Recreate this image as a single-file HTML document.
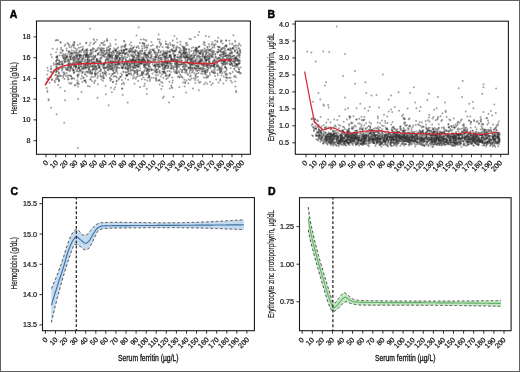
<!DOCTYPE html><html><head><meta charset="utf-8"><style>html,body{margin:0;padding:0;background:#fff;overflow:hidden}svg{display:block;filter:blur(0.35px)}</style></head><body>
<svg width="520" height="372" viewBox="0 0 520 372" font-family='"Liberation Sans", sans-serif'>
<rect x="0" y="0" width="520" height="372" fill="#fff"/>
<g fill="none" stroke="#303030" stroke-opacity="0.46" stroke-width="2.00" stroke-linecap="round">
<path d="M223.9 54.1h0M77.6 62.5h0M166.6 60.6h0M218.2 58.3h0M128.9 60.9h0M183.5 55.5h0M212.7 52.3h0M109.2 58.8h0M103.5 74.3h0M96.1 66.6h0M163.9 96.5h0M173.2 68.0h0M196.5 47.5h0M158.8 63.8h0M151.0 46.0h0M119.2 53.6h0M161.2 43.8h0M140.7 61.4h0M123.7 52.4h0M138.1 65.0h0M141.0 63.5h0M177.0 72.9h0M102.9 73.1h0M98.7 60.6h0M130.0 65.0h0M113.8 62.5h0M78.9 74.6h0M70.7 59.5h0M134.0 57.0h0M212.4 42.3h0M108.6 50.1h0M100.7 61.3h0M56.5 70.8h0M187.5 58.9h0M202.1 59.7h0M98.0 61.9h0M213.2 72.2h0M213.1 57.3h0M132.2 61.5h0M171.1 57.8h0M142.2 60.1h0M181.3 54.9h0M78.7 63.0h0M57.8 68.9h0M153.4 65.7h0M139.7 63.9h0M82.8 71.7h0M129.4 51.7h0M167.9 46.2h0M123.4 82.4h0M92.1 72.9h0M132.4 59.7h0M131.2 74.8h0M185.1 55.2h0M229.7 59.1h0M223.4 83.6h0M79.4 54.7h0M106.5 53.6h0M167.2 47.3h0M83.5 78.1h0M218.8 49.8h0M180.1 49.0h0M205.1 71.6h0M158.8 58.5h0M212.7 62.6h0M64.1 72.6h0M159.5 80.1h0M86.1 55.4h0M109.8 65.6h0M236.0 59.0h0M166.0 66.1h0M136.8 72.6h0M119.6 59.2h0M163.1 71.7h0M163.2 73.2h0M195.9 78.3h0M134.5 83.7h0M229.4 48.4h0M56.1 64.4h0M139.5 75.9h0M88.0 63.4h0M184.3 50.4h0M155.5 59.5h0M156.4 79.4h0M109.6 50.7h0M146.5 50.2h0M87.3 61.1h0M208.3 67.7h0M197.7 50.2h0M97.6 50.0h0M121.8 53.0h0M234.1 76.8h0M176.9 65.8h0M93.4 58.8h0M80.8 62.2h0M115.6 56.0h0M155.6 54.9h0M146.5 40.5h0M53.9 70.4h0M201.8 50.5h0M146.9 47.7h0M91.5 59.4h0M124.8 63.2h0M205.2 56.6h0M112.9 65.4h0M188.4 83.2h0M202.8 65.0h0M62.0 64.1h0M132.7 56.4h0M237.0 63.9h0M180.2 74.6h0M187.3 62.3h0M139.1 55.7h0M191.1 64.8h0M92.1 62.6h0M221.0 52.2h0M109.8 77.8h0M125.0 54.0h0M227.1 55.3h0M198.7 68.6h0M129.9 61.4h0M76.8 61.7h0M222.5 68.7h0M182.0 64.3h0M221.0 49.8h0M77.4 54.1h0M123.4 65.2h0M115.0 50.1h0M177.3 59.4h0M127.7 61.8h0M195.8 49.4h0M148.4 52.7h0M185.9 55.0h0M137.0 69.7h0M222.6 43.5h0M103.2 64.0h0M223.0 47.7h0M203.4 70.5h0M144.2 85.9h0M127.1 57.2h0M94.7 57.5h0M166.9 53.7h0M75.4 48.4h0M210.1 49.8h0M62.6 68.8h0M91.2 76.8h0M138.2 53.3h0M239.0 69.3h0M225.1 67.6h0M71.0 66.7h0M91.3 66.2h0M165.6 65.9h0M218.4 65.5h0M88.0 58.0h0M167.1 62.2h0M93.0 69.2h0M174.8 55.8h0M169.4 81.7h0M62.9 50.6h0M144.2 71.2h0M68.7 51.6h0M198.3 51.6h0M147.1 55.3h0M97.7 48.6h0M118.2 55.4h0M115.3 59.0h0M133.7 64.2h0M131.0 42.5h0M187.0 56.8h0M78.0 53.1h0M103.5 43.1h0M79.4 68.5h0M237.7 60.3h0M162.9 53.9h0M195.5 76.1h0M143.6 59.9h0M166.1 46.9h0M59.1 60.5h0M199.2 62.3h0M182.0 72.2h0M138.4 59.7h0M170.6 68.8h0M139.8 59.4h0M205.8 49.7h0M216.2 79.4h0M73.1 59.4h0M119.3 63.6h0M155.2 65.2h0M127.0 64.8h0M86.4 43.1h0M56.9 59.9h0M110.4 55.3h0M214.5 51.6h0M140.1 42.9h0"/>
<path d="M190.8 39.2h0M85.7 81.2h0M226.2 40.5h0M225.4 73.9h0M128.8 68.7h0M159.4 66.8h0M67.6 59.3h0M206.4 53.1h0M69.3 57.0h0M79.9 61.1h0M181.6 56.6h0M78.4 67.3h0M160.4 57.9h0M116.3 51.9h0M56.0 72.3h0M148.9 77.1h0M177.0 62.8h0M200.4 68.6h0M130.8 50.9h0M214.0 64.9h0M205.3 73.9h0M73.0 78.0h0M223.6 54.1h0M140.0 62.9h0M113.4 67.5h0M165.1 53.7h0M110.5 61.2h0M182.2 70.2h0M61.2 75.9h0M117.7 61.9h0M87.6 63.4h0M93.5 51.7h0M63.1 58.0h0M235.9 91.0h0M70.3 75.4h0M232.8 72.0h0M239.2 43.5h0M136.9 61.7h0M100.0 67.3h0M185.2 59.6h0M174.4 36.1h0M176.5 60.3h0M176.5 46.6h0M57.4 60.0h0M110.7 69.5h0M94.1 48.7h0M184.2 69.0h0M90.7 73.5h0M74.3 53.2h0M111.0 66.1h0M95.5 70.9h0M95.5 75.1h0M107.2 64.9h0M122.5 53.2h0M110.3 56.0h0M69.7 65.8h0M145.9 57.7h0M101.3 43.3h0M138.6 53.6h0M131.0 63.0h0M189.5 53.5h0M191.3 61.0h0M87.3 52.6h0M104.5 64.3h0M201.3 68.9h0M67.6 43.0h0M184.6 86.5h0M93.0 77.0h0M125.2 54.6h0M229.5 50.2h0M232.5 56.7h0M152.5 73.5h0M200.5 59.5h0M82.7 49.7h0M200.2 51.4h0M192.2 64.4h0M213.3 54.5h0M203.1 68.8h0M108.6 65.1h0M203.6 66.5h0M60.6 42.8h0M238.6 64.0h0M185.9 61.1h0M124.0 50.1h0M175.3 66.8h0M56.0 79.4h0M209.3 63.0h0M156.0 70.2h0M133.0 60.0h0M99.6 52.6h0M235.3 51.3h0M148.9 75.3h0M223.7 61.7h0M192.0 68.1h0M192.4 62.6h0M73.6 59.7h0M155.3 66.4h0M184.3 68.2h0M152.8 50.1h0M233.4 47.8h0M116.2 49.3h0M152.2 58.9h0M213.1 51.1h0M113.1 61.8h0M183.5 48.3h0M64.3 58.0h0M108.3 62.2h0M142.0 73.7h0M237.4 46.1h0M101.4 79.4h0M221.0 51.3h0M170.0 55.2h0M185.1 82.1h0M100.9 70.1h0M134.6 67.6h0M234.0 59.1h0M157.9 60.4h0M139.6 66.1h0M78.7 60.7h0M186.5 49.3h0M145.9 74.8h0M122.5 68.3h0M90.5 72.3h0M122.3 60.7h0M189.3 58.6h0M58.9 76.6h0M190.2 64.5h0M70.5 59.2h0M111.6 64.5h0M203.6 68.5h0M203.4 68.7h0M107.6 65.1h0M59.3 76.6h0M146.7 70.5h0M110.8 55.0h0M159.4 80.2h0M153.6 58.4h0M140.0 57.0h0M56.9 60.1h0M105.9 94.2h0M239.9 62.9h0M226.2 63.3h0M104.9 71.6h0M156.1 57.0h0M191.8 47.9h0M137.3 59.6h0M101.2 52.0h0M142.1 60.2h0M190.4 68.1h0M206.8 60.6h0M160.9 59.4h0M180.0 61.0h0M113.1 82.0h0M70.7 84.0h0M89.2 73.3h0M229.2 77.7h0M95.8 73.9h0M238.7 44.8h0M174.1 45.2h0M122.5 58.2h0M70.5 56.7h0M109.4 56.5h0M83.5 77.4h0M221.0 56.4h0M138.2 55.3h0M63.4 72.7h0M84.6 63.9h0M197.5 50.8h0M235.7 58.5h0M173.7 47.8h0M172.3 45.1h0M67.0 61.3h0M73.6 45.5h0M164.1 56.9h0M213.6 52.6h0M156.5 64.4h0M188.7 68.3h0M210.7 53.9h0M85.4 57.5h0M230.7 67.9h0M189.7 59.4h0M121.2 65.4h0M147.0 73.8h0M151.8 54.7h0M93.5 49.1h0M168.1 44.5h0M159.5 70.8h0M119.2 50.9h0M156.3 72.5h0M66.6 48.4h0M90.1 79.4h0M119.1 64.5h0M122.4 88.4h0M167.6 63.0h0"/>
<path d="M127.9 68.5h0M137.2 72.3h0M82.5 58.3h0M185.0 53.6h0M75.9 63.3h0M213.5 73.0h0M135.2 59.9h0M145.4 57.0h0M210.9 66.3h0M176.1 70.2h0M135.7 68.1h0M93.5 44.1h0M90.8 79.3h0M132.9 69.6h0M74.4 78.8h0M228.0 49.5h0M116.1 68.4h0M118.4 61.1h0M190.6 58.5h0M74.8 85.3h0M170.0 42.9h0M224.9 48.8h0M194.9 60.7h0M145.6 65.3h0M59.3 64.0h0M236.9 64.3h0M231.4 60.2h0M70.6 59.3h0M200.3 53.5h0M176.2 49.1h0M223.0 48.4h0M121.4 47.7h0M147.7 73.5h0M85.3 64.5h0M131.7 60.6h0M211.7 71.8h0M222.7 63.0h0M239.4 53.5h0M232.0 82.5h0M86.1 63.1h0M108.4 47.3h0M219.0 57.4h0M95.6 42.1h0M184.6 57.4h0M154.4 59.6h0M225.9 45.7h0M110.0 78.8h0M127.7 102.6h0M147.7 54.6h0M87.0 54.7h0M154.6 56.9h0M137.9 66.8h0M177.2 66.4h0M229.7 53.2h0M164.6 71.7h0M229.6 60.8h0M211.4 57.0h0M203.4 63.7h0M171.6 87.1h0M51.4 68.9h0M78.0 59.9h0M80.8 47.2h0M108.9 54.3h0M209.9 73.1h0M67.7 77.4h0M138.6 70.5h0M98.9 66.6h0M239.9 55.3h0M206.1 52.0h0M71.4 55.4h0M204.6 58.9h0M68.0 64.2h0M135.0 73.0h0M156.7 46.8h0M85.4 66.6h0M144.3 60.4h0M165.4 56.6h0M181.0 75.9h0M211.2 55.7h0M215.1 40.7h0M74.5 66.3h0M240.1 60.8h0M235.1 40.8h0M63.7 56.2h0M85.7 52.8h0M102.9 75.9h0M163.4 77.8h0M110.6 45.8h0M220.3 79.3h0M121.8 67.7h0M205.6 57.3h0M127.1 75.5h0M236.9 64.4h0M62.6 67.6h0M110.7 78.9h0M233.0 48.0h0M184.8 70.1h0M73.5 61.5h0M193.8 56.0h0M167.5 62.4h0M175.9 60.3h0M184.7 49.7h0M134.0 57.0h0M57.0 69.0h0M111.9 92.3h0M80.1 43.8h0M184.9 62.1h0M118.1 63.2h0M229.9 60.4h0M73.0 58.0h0M124.9 49.4h0M233.4 61.7h0M140.3 50.7h0M89.3 68.0h0M117.9 55.6h0M196.5 65.8h0M117.9 52.2h0M143.3 57.7h0M196.4 66.4h0M98.1 54.2h0M213.3 60.7h0M153.0 69.7h0M225.5 71.7h0M151.6 77.7h0M56.0 63.9h0M83.8 67.4h0M77.8 76.9h0M166.3 44.0h0M181.3 57.6h0M76.7 70.7h0M235.2 41.8h0M150.7 52.8h0M77.9 44.9h0M61.1 49.4h0M169.1 75.1h0M235.2 66.6h0M87.6 50.3h0M138.9 52.9h0M171.2 58.2h0M208.9 65.6h0M135.8 78.8h0M147.6 60.4h0M67.0 56.9h0M70.4 66.9h0M216.0 57.2h0M180.4 41.8h0M199.6 57.9h0M230.2 54.9h0M234.3 68.4h0M142.3 74.8h0M237.0 58.9h0M188.0 59.6h0M77.4 56.0h0M163.2 68.9h0M71.3 76.0h0M121.9 55.2h0M134.9 60.0h0M113.4 54.9h0M112.8 73.9h0M127.4 64.0h0M145.1 53.5h0M203.0 55.4h0M158.3 80.8h0M193.6 63.4h0M162.3 66.6h0M58.2 71.7h0M141.6 61.2h0M104.0 68.0h0M116.8 80.8h0M239.0 63.8h0M117.6 58.1h0M157.6 71.8h0M135.4 55.0h0M127.8 55.2h0M160.5 61.4h0M220.7 61.0h0M208.9 51.0h0M149.9 81.0h0M184.4 56.8h0M76.5 52.6h0M48.0 70.8h0M103.8 78.3h0M232.7 56.1h0M119.9 60.9h0M214.5 45.7h0M57.3 68.3h0M114.7 60.4h0M96.4 59.1h0M109.7 57.2h0M100.2 48.6h0M211.7 70.8h0M162.5 68.1h0M179.5 77.5h0M97.5 65.1h0"/>
<path d="M125.4 78.6h0M127.8 72.0h0M83.8 65.1h0M194.8 68.3h0M83.6 58.9h0M74.0 72.7h0M175.8 64.4h0M81.4 70.7h0M206.5 75.6h0M94.9 73.7h0M146.7 88.8h0M70.6 63.8h0M175.1 73.0h0M94.0 65.8h0M173.7 52.7h0M162.4 54.9h0M72.0 78.8h0M117.5 51.7h0M137.4 63.3h0M89.7 60.5h0M103.7 76.4h0M223.6 55.6h0M107.2 40.4h0M176.2 48.0h0M151.1 51.4h0M169.1 102.4h0M122.4 62.7h0M217.2 41.1h0M165.6 61.7h0M228.4 59.2h0M174.8 50.4h0M142.7 59.8h0M147.1 71.5h0M149.2 53.1h0M143.1 72.3h0M126.7 69.2h0M208.3 76.2h0M211.0 66.4h0M226.0 55.7h0M97.9 84.3h0M184.6 68.9h0M194.8 36.9h0M77.4 80.3h0M163.8 72.6h0M190.3 66.6h0M214.8 72.8h0M95.1 69.5h0M185.6 49.1h0M155.3 52.8h0M106.0 61.9h0M68.4 43.9h0M97.5 97.7h0M127.0 63.6h0M60.7 42.1h0M85.7 49.8h0M180.3 57.7h0M142.8 43.0h0M174.1 56.2h0M184.8 67.3h0M129.1 73.4h0M198.5 72.9h0M238.7 61.7h0M75.7 66.9h0M198.3 66.2h0M136.1 60.7h0M170.0 50.6h0M212.4 65.6h0M214.7 59.0h0M101.3 49.5h0M90.1 64.7h0M198.6 55.4h0M136.5 77.0h0M207.6 55.8h0M219.8 67.8h0M204.6 57.5h0M139.0 61.1h0M224.8 60.6h0M46.3 82.5h0M206.2 60.3h0M92.2 69.5h0M151.4 68.9h0M239.1 61.8h0M138.1 81.1h0M54.0 65.0h0M80.7 57.0h0M95.4 67.8h0M71.9 78.6h0M144.9 67.6h0M171.1 66.5h0M205.6 70.7h0M56.1 74.7h0M221.1 69.4h0M220.0 72.7h0M115.0 61.3h0M216.9 66.8h0M110.1 57.1h0M211.2 84.8h0M179.8 51.1h0M173.4 46.0h0M148.7 54.0h0M109.2 52.8h0M68.3 65.4h0M166.0 57.5h0M71.0 63.6h0M144.3 55.0h0M116.1 55.7h0M230.0 60.5h0M202.8 67.9h0M206.6 69.5h0M168.8 76.4h0M130.4 59.9h0M118.6 64.5h0M132.6 53.3h0M195.4 48.1h0M87.7 65.5h0M65.8 59.6h0M231.2 56.5h0M134.4 77.4h0M198.6 66.3h0M117.3 59.5h0M151.8 56.6h0M209.9 74.9h0M144.6 69.9h0M94.6 65.2h0M221.5 75.6h0M221.6 71.0h0M94.1 59.3h0M59.0 64.4h0M199.0 62.8h0M166.7 65.2h0M199.3 53.5h0M154.7 64.1h0M106.8 47.9h0M125.8 61.0h0M70.0 54.2h0M176.4 50.0h0M109.3 66.1h0M69.8 55.7h0M220.5 58.6h0M81.1 56.6h0M69.7 51.9h0M171.5 49.5h0M237.2 53.1h0M189.2 49.7h0M174.7 61.8h0M183.2 53.7h0M114.1 48.3h0M146.5 71.6h0M119.7 58.8h0M194.6 50.6h0M226.6 68.7h0M193.2 61.8h0M65.0 73.7h0M191.2 61.9h0M62.6 66.9h0M49.6 82.8h0M149.7 63.7h0M222.0 61.2h0M194.4 73.2h0M129.6 44.5h0M104.0 63.8h0M190.4 68.1h0M136.7 57.3h0M173.1 46.3h0M119.8 53.3h0M112.6 59.8h0M174.1 66.0h0M138.9 47.9h0M166.7 53.1h0M196.9 66.5h0M167.8 48.1h0M134.6 60.5h0M200.0 60.2h0M202.8 57.1h0M130.6 65.0h0M176.4 72.6h0M179.4 51.6h0M229.3 40.7h0M48.3 79.1h0M62.0 61.5h0M149.6 69.3h0M228.4 60.7h0M88.9 67.3h0M225.3 56.3h0M77.5 75.7h0M100.4 73.9h0M96.0 66.5h0M98.0 53.3h0M165.5 58.4h0M236.1 47.7h0M68.9 75.6h0M121.8 80.0h0M222.2 73.3h0M63.0 63.9h0"/>
<path d="M93.0 57.7h0M192.1 68.3h0M89.4 54.6h0M121.4 50.5h0M144.1 60.3h0M141.9 61.5h0M88.4 59.5h0M102.9 50.6h0M88.9 59.2h0M148.7 65.0h0M87.5 55.3h0M178.0 61.3h0M131.1 60.9h0M84.3 54.1h0M206.2 60.8h0M126.9 49.6h0M125.2 62.9h0M152.3 49.6h0M239.2 72.2h0M159.5 41.8h0M141.8 73.1h0M84.8 66.0h0M64.0 74.7h0M106.6 50.7h0M69.3 68.4h0M221.3 63.1h0M205.1 62.6h0M232.6 48.3h0M177.6 64.6h0M203.3 63.5h0M74.6 71.8h0M114.6 76.3h0M214.9 61.3h0M237.4 72.3h0M158.2 66.4h0M198.0 68.2h0M223.7 61.0h0M74.7 57.8h0M131.0 66.4h0M229.6 64.3h0M96.8 69.3h0M215.4 57.0h0M87.0 53.6h0M190.7 55.7h0M125.4 57.3h0M78.9 66.1h0M77.5 75.3h0M89.1 57.0h0M129.3 56.5h0M105.6 86.1h0M117.2 64.5h0M112.0 57.6h0M231.6 51.9h0M58.3 78.8h0M198.2 35.1h0M142.0 46.2h0M87.8 62.2h0M175.7 51.4h0M208.8 49.4h0M150.3 66.9h0M56.4 66.5h0M71.4 82.7h0M172.7 61.0h0M183.2 82.5h0M124.1 84.1h0M204.3 62.9h0M143.7 56.5h0M220.4 71.2h0M57.2 77.2h0M192.4 65.5h0M65.4 44.5h0M195.7 74.4h0M180.8 64.5h0M85.8 63.2h0M222.1 59.2h0M118.2 47.2h0M219.2 67.1h0M158.5 50.2h0M125.7 68.2h0M104.5 70.0h0M82.8 72.5h0M116.7 71.4h0M78.9 64.7h0M70.9 66.6h0M102.5 72.4h0M162.7 63.2h0M191.4 59.1h0M164.2 52.7h0M165.3 51.4h0M180.6 57.0h0M171.7 68.5h0M194.5 64.8h0M68.2 67.6h0M132.1 59.5h0M66.9 57.2h0M220.2 80.4h0M215.2 67.3h0M204.0 71.5h0M126.6 62.3h0M121.5 66.9h0M198.0 80.3h0M200.1 53.0h0M153.1 61.7h0M153.7 77.8h0M171.2 59.1h0M148.7 66.5h0M74.6 63.9h0M149.4 77.3h0M198.4 65.7h0M59.2 60.8h0M104.8 56.9h0M183.8 63.6h0M55.1 82.2h0M164.7 52.0h0M74.2 44.0h0M87.5 57.9h0M57.1 77.0h0M79.2 55.6h0M199.3 61.6h0M92.4 50.6h0M73.0 62.8h0M205.6 73.2h0M236.4 64.8h0M186.2 55.4h0M82.3 82.1h0M181.8 54.3h0M225.2 66.6h0M224.9 59.8h0M80.2 71.6h0M99.2 67.8h0M136.4 58.3h0M174.8 58.8h0M149.5 71.3h0M103.0 80.8h0M230.5 53.5h0M208.6 68.8h0M109.0 62.0h0M217.5 73.4h0M83.5 67.9h0M77.0 56.8h0M181.5 53.7h0M196.3 53.5h0M58.9 81.2h0M104.3 67.8h0M85.3 80.3h0M119.8 53.3h0M112.0 74.6h0M110.5 63.5h0M201.8 71.6h0M212.6 54.0h0M85.4 74.7h0M162.5 82.7h0M155.9 59.5h0M116.5 81.2h0M112.2 68.3h0M63.1 77.4h0M216.1 62.9h0M92.3 56.6h0M169.1 62.0h0M79.6 62.8h0M74.2 44.9h0M88.8 60.9h0M176.8 63.1h0M144.1 61.5h0M167.8 67.9h0M187.6 56.8h0M233.0 66.0h0M197.6 64.2h0M137.0 65.5h0M144.0 65.3h0M231.0 53.3h0M166.3 79.0h0M204.3 50.6h0M101.5 50.8h0M156.1 77.5h0M91.3 52.7h0M180.7 58.0h0M194.7 55.2h0M155.1 61.8h0M88.9 62.3h0M78.0 59.1h0M122.5 68.2h0M183.0 56.6h0M100.2 58.5h0M187.6 60.5h0M130.0 68.0h0M208.5 68.4h0M93.6 67.5h0M225.4 60.4h0M202.9 73.9h0M191.9 57.3h0M100.7 68.9h0M190.6 64.5h0M133.2 67.8h0"/>
<path d="M70.6 70.0h0M81.9 73.2h0M232.4 52.4h0M240.5 52.7h0M71.3 52.9h0M165.5 66.9h0M208.1 63.2h0M218.2 37.8h0M141.8 79.3h0M130.8 48.2h0M119.3 63.1h0M56.7 66.4h0M232.3 64.1h0M77.7 68.9h0M162.3 54.5h0M204.6 68.7h0M78.1 74.8h0M139.8 55.0h0M75.7 56.0h0M122.9 67.8h0M123.0 46.3h0M124.7 47.1h0M212.6 47.2h0M60.4 61.5h0M165.6 57.3h0M56.1 61.8h0M150.3 49.4h0M56.6 56.6h0M237.5 52.8h0M116.9 64.6h0M163.7 63.9h0M84.7 81.0h0M181.4 50.2h0M108.6 105.2h0M239.3 48.4h0M115.9 64.4h0M187.8 45.0h0M55.6 40.6h0M164.5 72.6h0M146.7 64.4h0M237.7 64.1h0M96.7 69.3h0M79.1 68.2h0M162.1 65.1h0M132.8 48.2h0M227.0 58.7h0M228.1 49.4h0M148.2 56.0h0M232.2 44.2h0M193.1 53.8h0M176.0 61.9h0M116.1 58.9h0M158.0 75.1h0M64.6 79.1h0M140.1 53.7h0M127.6 74.2h0M91.9 74.1h0M236.1 71.0h0M104.7 67.8h0M188.9 49.2h0M131.7 55.9h0M184.5 47.8h0M200.9 61.1h0M198.2 51.6h0M217.3 63.1h0M161.8 64.2h0M123.9 51.1h0M230.0 61.7h0M172.2 66.0h0M139.1 64.5h0M208.8 58.3h0M136.8 64.5h0M232.4 43.4h0M185.2 53.0h0M156.9 72.4h0M140.9 39.6h0M87.9 62.3h0M86.2 65.2h0M228.0 57.5h0M126.7 49.1h0M104.1 63.3h0M209.5 53.5h0M147.5 59.3h0M166.6 66.1h0M95.6 51.6h0M224.6 62.6h0M90.6 64.2h0M234.7 49.8h0M113.0 51.5h0M189.8 63.6h0M171.4 61.2h0M141.5 59.1h0M139.1 59.8h0M125.7 64.2h0M99.4 71.1h0M160.7 52.4h0M199.6 70.4h0M228.7 58.5h0M217.9 75.2h0M206.5 57.2h0M222.0 54.8h0M88.1 64.6h0M76.1 56.6h0M190.2 69.4h0M115.5 55.4h0M89.1 63.4h0M154.2 60.2h0M105.8 67.8h0M216.6 59.2h0M224.9 59.8h0M234.4 62.8h0M179.3 47.8h0M204.0 77.4h0M177.6 57.4h0M114.1 52.7h0M117.6 48.4h0M168.6 47.7h0M188.4 63.3h0M61.5 52.8h0M111.8 63.3h0M84.9 54.4h0M75.6 65.8h0M141.4 54.2h0M169.8 61.5h0M175.6 71.7h0M209.4 59.7h0M166.4 75.8h0M238.6 55.0h0M235.9 60.7h0M115.9 50.6h0M118.4 67.5h0M211.5 50.6h0M101.0 64.6h0M96.7 61.1h0M158.7 34.4h0M208.0 56.4h0M205.6 82.6h0M230.5 65.1h0M176.3 67.0h0M172.3 77.4h0M173.4 50.8h0M74.3 42.1h0M75.1 62.0h0M117.5 73.3h0M170.1 52.3h0M204.8 56.9h0M209.5 56.6h0M61.6 68.7h0M217.5 63.8h0M186.2 53.2h0M73.4 56.5h0M185.8 57.2h0M174.7 51.1h0M117.7 67.3h0M214.8 68.8h0M230.8 80.7h0M147.4 70.0h0M204.9 45.2h0M202.4 71.4h0M109.1 53.7h0M205.5 60.1h0M237.3 65.7h0M185.0 56.8h0M189.6 57.9h0M127.7 69.1h0M53.7 63.3h0M99.8 61.6h0M226.5 46.3h0M99.2 65.7h0M72.2 53.0h0M61.3 47.7h0M105.7 74.0h0M115.6 58.3h0M185.4 57.4h0M98.1 72.4h0M92.7 67.0h0M81.7 66.7h0M158.7 57.4h0M196.8 52.5h0M145.1 64.2h0M223.2 52.1h0M85.3 61.0h0M181.5 71.4h0M81.8 60.1h0M143.0 53.8h0M111.9 69.4h0M87.5 59.4h0M105.3 61.6h0M58.7 63.1h0M211.8 52.3h0M104.6 54.6h0M83.6 57.6h0M46.7 88.0h0M115.5 64.2h0"/>
<path d="M95.0 63.9h0M133.8 51.9h0M136.9 66.0h0M162.9 97.9h0M70.8 53.4h0M118.4 60.7h0M85.5 71.9h0M209.0 54.6h0M210.3 67.9h0M128.2 54.2h0M130.5 54.8h0M165.0 60.4h0M230.5 58.2h0M230.7 77.8h0M79.9 50.8h0M160.8 57.9h0M160.3 58.2h0M226.8 77.2h0M175.0 63.4h0M103.8 56.1h0M151.2 69.8h0M175.5 63.1h0M209.7 65.9h0M147.0 55.5h0M188.6 57.7h0M142.3 61.8h0M89.1 69.1h0M87.9 55.7h0M101.3 50.6h0M224.2 61.7h0M186.4 69.4h0M223.7 76.8h0M194.2 58.2h0M160.0 73.1h0M112.1 56.2h0M217.4 52.1h0M240.6 67.5h0M123.4 52.3h0M213.9 69.8h0M159.5 60.3h0M95.1 56.7h0M102.6 55.7h0M92.4 59.6h0M174.7 55.8h0M238.4 48.3h0M112.7 62.3h0M134.7 66.2h0M166.1 53.2h0M111.7 52.8h0M109.2 51.7h0M111.5 61.5h0M169.7 88.4h0M133.0 66.3h0M176.1 61.4h0M214.8 71.0h0M108.6 64.0h0M183.6 64.9h0M220.5 72.1h0M58.8 69.6h0M196.3 63.1h0M193.0 72.1h0M141.9 62.2h0M178.0 60.2h0M228.7 55.1h0M205.2 60.6h0M60.1 64.8h0M94.1 40.1h0M95.8 50.7h0M180.0 64.4h0M88.0 60.5h0M77.1 83.1h0M118.6 79.6h0M174.2 59.5h0M108.9 50.2h0M216.7 65.1h0M196.9 73.6h0M148.3 61.3h0M138.2 56.5h0M184.4 79.7h0M198.9 46.8h0M87.9 64.5h0M191.9 72.5h0M124.1 56.4h0M165.5 53.4h0M240.0 50.1h0M70.7 57.9h0M230.6 73.7h0M233.3 58.6h0M176.7 63.6h0M153.2 60.4h0M57.4 64.3h0M154.8 51.7h0M109.3 73.9h0M209.2 64.3h0M193.4 69.3h0M214.1 65.5h0M69.3 46.7h0M200.5 54.1h0M109.8 56.0h0M205.7 59.4h0M167.6 57.3h0M143.8 67.0h0M138.2 46.1h0M132.6 65.9h0M72.9 44.6h0M166.0 68.5h0M77.5 71.2h0M97.4 77.9h0M114.7 66.0h0M190.9 59.5h0M86.6 50.5h0M138.3 67.1h0M56.3 67.8h0M107.4 60.5h0M116.7 70.5h0M207.2 66.5h0M144.1 53.2h0M142.0 63.2h0M67.6 68.7h0M180.0 52.5h0M117.9 56.9h0M234.5 55.5h0M101.2 63.0h0M116.9 77.4h0M174.2 71.4h0M235.1 61.3h0M75.7 66.8h0M170.1 56.7h0M157.5 55.8h0M146.7 45.5h0M165.4 61.8h0M91.0 56.6h0M164.8 65.2h0M224.0 61.9h0M164.6 68.2h0M179.1 76.8h0M168.5 66.0h0M65.2 100.2h0M144.1 66.7h0M165.3 61.3h0M73.9 47.6h0M97.8 54.7h0M210.5 51.0h0M225.9 55.7h0M206.9 70.1h0M185.3 65.4h0M236.4 66.7h0M227.5 63.4h0M66.4 56.8h0M143.9 62.3h0M70.8 47.6h0M94.5 67.3h0M64.7 55.0h0M229.4 55.5h0M78.3 68.0h0M93.7 39.2h0M85.8 55.4h0M51.4 72.2h0M83.3 55.4h0M87.0 50.5h0M104.7 63.3h0M73.5 70.2h0M150.1 61.2h0M226.1 40.4h0M214.0 63.4h0M200.4 81.9h0M175.8 64.6h0M118.5 61.4h0M173.1 53.6h0M82.4 50.1h0M110.9 87.7h0M207.4 70.4h0M47.4 90.7h0M75.3 85.3h0M70.1 57.4h0M116.3 67.0h0M65.5 61.5h0M149.9 61.0h0M171.5 60.0h0M217.6 58.2h0M66.8 50.6h0M47.3 92.1h0M84.1 80.6h0M68.5 79.0h0M194.2 67.2h0M167.4 71.3h0M112.5 57.9h0M125.2 68.6h0M97.2 73.6h0M167.2 51.0h0M209.8 50.1h0M145.5 55.0h0M88.7 55.0h0M116.5 54.1h0"/>
<path d="M73.5 67.8h0M197.5 59.2h0M111.7 55.6h0M142.1 75.5h0M207.7 76.8h0M138.5 63.8h0M204.7 42.8h0M238.9 60.8h0M144.1 45.2h0M195.3 65.6h0M149.9 79.3h0M75.1 52.0h0M200.8 59.6h0M211.6 66.3h0M185.3 52.3h0M199.4 82.4h0M180.3 55.9h0M104.0 48.5h0M240.8 72.9h0M206.9 65.8h0M189.8 67.0h0M179.5 62.1h0M134.6 65.5h0M142.9 58.8h0M131.5 45.8h0M110.0 66.4h0M204.0 51.9h0M170.3 55.0h0M204.1 84.2h0M64.2 122.7h0M161.2 82.0h0M208.8 61.5h0M108.1 56.8h0M51.0 66.3h0M76.1 67.3h0M101.6 54.8h0M117.0 67.1h0M190.2 56.4h0M69.7 71.3h0M144.8 83.7h0M183.8 57.6h0M69.3 66.4h0M103.9 64.9h0M81.0 51.9h0M189.8 60.6h0M159.6 55.3h0M134.7 72.6h0M96.6 67.3h0M137.8 56.0h0M182.1 46.3h0M171.2 60.4h0M192.9 58.5h0M223.1 53.8h0M126.4 75.4h0M94.7 62.4h0M132.7 50.3h0M96.2 50.2h0M111.9 56.2h0M132.6 56.3h0M207.6 49.8h0M114.2 89.3h0M200.6 62.1h0M173.5 97.0h0M220.0 60.3h0M123.1 53.3h0M87.2 72.5h0M134.4 52.0h0M238.3 67.5h0M148.0 77.7h0M76.3 58.5h0M76.4 50.6h0M128.7 71.0h0M174.3 57.9h0M155.8 57.8h0M165.5 75.7h0M66.5 67.8h0M201.7 63.7h0M79.5 52.5h0M217.4 51.8h0M203.1 53.7h0M93.5 69.2h0M130.6 48.7h0M199.0 82.4h0M146.2 68.6h0M87.5 56.9h0M236.5 65.0h0M208.2 58.9h0M218.6 68.0h0M198.1 67.3h0M170.1 63.1h0M195.6 68.2h0M127.3 61.0h0M158.8 50.1h0M79.5 56.5h0M115.0 72.6h0M229.1 55.6h0M69.0 51.6h0M196.6 57.5h0M71.6 50.5h0M181.8 63.0h0M139.1 63.3h0M142.4 50.8h0M157.4 46.2h0M107.4 66.2h0M68.9 51.8h0M155.1 72.0h0M132.7 58.7h0M218.1 65.8h0M163.6 52.6h0M149.3 52.5h0M110.1 61.4h0M128.7 65.9h0M125.2 44.7h0M134.7 57.5h0M117.4 53.4h0M205.0 66.2h0M186.5 57.6h0M115.7 50.6h0M126.5 67.2h0M52.5 72.2h0M156.8 69.3h0M103.4 67.7h0M113.5 70.5h0M190.2 67.6h0M157.5 64.8h0M220.1 51.0h0M131.0 67.4h0M135.5 50.8h0M78.9 71.8h0M143.2 72.7h0M108.4 57.2h0M220.0 55.6h0M220.5 71.9h0M238.9 63.2h0M190.2 60.2h0M104.2 51.2h0M108.2 60.2h0M96.2 68.5h0M213.5 66.6h0M67.2 55.5h0M186.3 71.4h0M231.1 57.9h0M235.2 60.6h0M117.9 56.3h0M207.3 67.2h0M121.8 84.0h0M157.3 54.1h0M48.7 100.2h0M221.7 49.3h0M220.9 71.1h0M235.1 63.1h0M209.8 62.9h0M172.1 49.5h0M108.7 64.2h0M140.2 70.4h0M67.5 75.6h0M145.0 79.5h0M104.3 63.6h0M165.6 65.3h0M131.4 61.2h0M77.1 55.8h0M87.9 86.1h0M136.6 47.1h0M183.6 63.4h0M123.8 58.7h0M105.9 67.3h0M70.7 68.3h0M92.2 71.9h0M184.2 51.3h0M163.6 69.2h0M231.2 51.0h0M219.4 51.0h0M103.4 53.1h0M204.4 64.9h0M188.4 63.1h0M75.1 52.2h0M126.8 52.8h0M79.8 70.0h0M190.4 80.0h0M162.6 64.6h0M215.6 44.0h0M168.4 63.7h0M111.9 55.5h0M112.4 61.9h0M180.3 44.6h0M125.6 72.6h0M142.8 63.8h0M138.5 58.0h0M189.4 55.3h0M204.8 57.4h0M110.7 67.5h0M188.2 75.1h0M100.0 45.3h0M151.5 42.1h0"/>
<path d="M165.5 73.2h0M172.7 80.5h0M114.2 73.1h0M48.5 99.2h0M171.7 58.6h0M136.2 65.7h0M195.7 50.8h0M111.1 68.6h0M234.6 65.5h0M213.3 65.7h0M120.4 63.9h0M138.6 66.3h0M160.5 55.4h0M81.1 63.9h0M223.3 63.8h0M63.7 57.9h0M189.8 71.0h0M206.6 59.8h0M106.3 67.9h0M135.6 63.3h0M158.1 58.5h0M200.5 50.6h0M162.4 65.5h0M120.6 52.8h0M214.4 64.5h0M141.5 51.8h0M105.9 59.9h0M191.5 55.2h0M235.2 58.4h0M138.0 66.7h0M95.3 62.5h0M77.3 63.5h0M236.9 50.0h0M107.6 67.0h0M229.7 72.9h0M85.1 60.1h0M158.5 68.9h0M156.5 55.3h0M206.8 51.1h0M163.0 54.9h0M123.5 71.4h0M94.6 81.5h0M133.1 59.8h0M66.0 58.0h0M214.1 66.8h0M65.9 55.9h0M159.9 42.9h0M225.2 66.9h0M226.2 80.4h0M140.6 63.3h0M226.8 62.3h0M191.4 59.1h0M95.4 80.5h0M114.8 50.4h0M128.9 63.2h0M177.9 76.6h0M166.9 55.0h0M225.8 59.8h0M142.1 50.6h0M187.5 55.0h0M206.6 57.4h0M110.7 60.5h0M94.1 62.8h0M102.8 66.3h0M110.2 43.8h0M172.8 59.4h0M106.5 50.7h0M133.5 62.5h0M123.3 50.8h0M83.2 69.1h0M223.7 60.9h0M68.9 63.5h0M144.1 43.8h0M102.3 66.0h0M102.1 64.8h0M87.5 66.5h0M57.8 63.9h0M202.8 53.5h0M94.3 65.9h0M71.4 78.7h0M125.8 59.1h0M76.5 60.6h0M118.1 64.4h0M95.1 66.4h0M194.3 56.2h0M214.1 60.1h0M103.7 78.2h0M168.3 67.7h0M173.7 69.5h0M132.6 51.7h0M149.2 63.4h0M214.9 76.1h0M81.9 75.9h0M164.7 56.6h0M223.0 52.4h0M197.9 76.9h0M129.5 63.7h0M145.6 60.4h0M198.4 63.5h0M205.8 72.2h0M207.2 72.0h0M236.3 56.9h0M215.3 54.8h0M90.4 42.7h0M129.8 58.9h0M116.2 62.4h0M136.6 55.3h0M97.3 62.5h0M194.7 68.3h0M128.1 70.6h0M88.7 69.2h0M142.0 72.4h0M178.6 65.1h0M138.7 27.6h0M234.5 69.6h0M134.2 63.3h0M86.5 56.6h0M102.7 52.6h0M150.9 57.9h0M219.8 55.1h0M73.4 69.8h0M135.2 70.7h0M204.6 48.5h0M104.8 73.0h0M102.8 48.7h0M150.7 55.4h0M190.0 63.6h0M70.9 76.6h0M199.9 63.6h0M145.6 64.1h0M58.9 80.2h0M162.2 71.5h0M171.0 55.8h0M121.6 51.1h0M197.0 48.1h0M230.4 52.9h0M210.1 81.7h0M61.9 64.5h0M198.8 46.9h0M158.0 64.6h0M192.1 64.1h0M133.9 70.7h0M98.9 65.4h0M144.1 59.4h0M186.1 57.5h0M118.5 62.8h0M165.1 56.9h0M207.3 46.8h0M146.9 68.2h0M91.0 54.0h0M125.3 66.1h0M190.7 75.6h0M129.6 65.7h0M142.0 71.7h0M89.7 86.6h0M179.1 72.6h0M201.7 60.1h0M157.9 39.3h0M101.0 76.2h0M124.6 46.0h0M134.8 60.4h0M93.7 61.6h0M166.4 63.3h0M123.9 64.1h0M229.6 59.1h0M196.5 65.6h0M110.3 56.2h0M108.1 55.2h0M200.0 68.6h0M108.7 70.2h0M183.2 51.9h0M134.0 47.0h0M120.0 54.9h0M125.6 67.4h0M227.4 74.6h0M80.9 55.3h0M67.6 65.0h0M133.0 78.4h0M75.8 55.0h0M227.4 78.3h0M106.4 57.1h0M140.7 52.6h0M217.3 62.2h0M102.8 48.7h0M203.5 65.4h0M148.2 72.9h0M95.0 76.5h0M151.2 56.7h0M51.0 77.1h0M123.9 51.8h0M133.1 59.3h0M105.7 53.0h0M62.1 70.8h0"/>
<path d="M123.9 40.8h0M219.9 68.5h0M79.8 59.0h0M234.4 46.2h0M120.6 77.1h0M106.3 75.6h0M155.8 71.1h0M55.3 75.0h0M183.5 49.5h0M207.4 77.5h0M183.1 66.7h0M186.2 49.7h0M176.8 38.7h0M82.4 61.3h0M166.9 58.6h0M107.2 52.8h0M126.2 72.3h0M135.3 53.6h0M64.7 67.2h0M107.0 58.9h0M141.8 57.3h0M192.2 60.5h0M228.1 49.5h0M81.5 91.9h0M165.3 58.2h0M234.6 58.0h0M80.3 64.4h0M147.9 60.8h0M192.9 88.4h0M140.2 68.2h0M226.2 68.0h0M186.1 45.5h0M80.3 65.9h0M90.2 70.4h0M159.5 72.0h0M68.8 61.4h0M200.3 52.9h0M89.5 45.3h0M122.5 63.7h0M177.6 67.2h0M183.0 52.7h0M143.8 74.0h0M187.5 60.4h0M51.9 80.0h0M233.8 45.8h0M158.2 52.2h0M69.8 62.9h0M102.1 77.5h0M62.5 55.4h0M132.9 67.4h0M217.7 52.8h0M65.6 58.6h0M201.5 65.0h0M230.9 48.6h0M187.3 73.8h0M147.7 63.4h0M159.7 39.6h0M186.2 72.8h0M214.9 73.2h0M202.6 50.1h0M154.4 65.7h0M91.1 61.4h0M208.8 60.8h0M193.4 63.8h0M195.9 51.7h0M199.5 63.8h0M115.6 39.7h0M232.5 65.6h0M212.3 62.8h0M146.8 94.1h0M49.5 77.3h0M129.1 50.7h0M172.8 40.4h0M107.6 69.9h0M229.8 43.7h0M99.3 67.5h0M112.8 82.1h0M93.6 55.2h0M107.0 40.7h0M174.2 54.7h0M230.8 61.6h0M117.7 63.6h0M121.5 46.4h0M56.6 71.5h0M109.0 46.6h0M173.7 54.6h0M231.4 61.8h0M73.7 72.8h0M161.6 63.9h0M140.6 74.9h0M135.0 71.5h0M87.1 63.0h0M85.7 67.7h0M104.4 50.7h0M93.5 56.4h0M155.8 75.1h0M223.1 64.3h0M79.5 67.4h0M101.9 42.7h0M224.8 46.1h0M64.6 62.6h0M111.6 79.5h0M123.2 67.3h0M186.4 51.7h0M115.5 64.5h0M137.8 74.1h0M161.8 74.5h0M116.4 56.7h0M104.7 45.0h0M184.1 53.4h0M115.9 55.9h0M209.1 56.4h0M115.7 50.5h0M96.8 59.0h0M74.5 56.4h0M238.0 51.6h0M236.3 92.3h0M128.0 67.8h0M163.1 50.7h0M76.2 65.6h0M166.9 75.5h0M197.2 70.9h0M59.7 67.9h0M68.5 63.0h0M57.7 75.9h0M136.5 35.5h0M143.5 62.2h0M181.8 60.7h0M109.5 67.7h0M198.8 61.0h0M99.8 61.5h0M57.2 57.1h0M235.3 59.0h0M110.2 69.1h0M170.7 56.8h0M87.1 67.6h0M218.7 60.0h0M68.8 62.4h0M186.1 92.6h0M98.9 47.7h0M95.6 74.5h0M148.7 66.1h0M170.0 74.5h0M221.1 40.3h0M68.9 70.3h0M126.3 75.5h0M56.2 78.2h0M230.6 61.0h0M226.4 53.2h0M130.6 71.0h0M187.4 73.5h0M93.9 62.6h0M119.8 59.2h0M219.7 47.3h0M159.7 84.4h0M147.2 80.4h0M199.6 56.4h0M199.5 46.5h0M154.9 68.6h0M229.3 60.5h0M178.9 56.9h0M159.5 46.9h0M165.7 73.8h0M110.6 66.3h0M167.6 62.4h0M64.1 61.8h0M86.9 63.0h0M158.3 66.7h0M145.2 54.2h0M137.9 52.7h0M147.8 63.7h0M209.6 56.1h0M119.9 58.1h0M232.9 61.2h0M100.7 62.3h0M100.7 71.3h0M130.9 51.1h0M83.3 56.0h0M225.8 67.4h0M56.2 61.0h0M75.8 68.9h0M231.6 48.9h0M130.5 69.6h0M224.6 47.5h0M172.5 51.3h0M165.8 41.5h0M195.3 61.0h0M205.7 55.4h0M94.1 42.9h0M226.6 57.9h0M167.2 65.2h0M185.7 66.4h0M205.7 54.3h0"/>
<path d="M172.2 87.9h0M86.8 76.3h0M174.0 59.5h0M117.2 58.1h0M106.4 72.3h0M217.0 65.9h0M183.0 66.7h0M139.4 60.8h0M169.7 75.4h0M72.2 68.8h0M83.3 66.2h0M226.0 77.6h0M175.5 54.9h0M171.7 59.8h0M60.1 75.6h0M116.0 76.2h0M108.1 69.2h0M125.2 53.9h0M154.6 65.7h0M166.1 56.2h0M78.3 82.3h0M193.9 62.0h0M211.3 64.9h0M236.8 58.1h0M191.1 70.1h0M62.3 64.8h0M207.4 47.7h0M142.6 43.5h0M121.9 88.7h0M79.4 57.8h0M164.1 62.5h0M135.6 60.4h0M151.2 61.5h0M160.7 45.0h0M121.2 73.5h0M114.4 58.0h0M195.8 60.3h0M182.6 77.8h0M188.3 67.4h0M219.0 61.3h0M90.2 71.1h0M144.6 52.7h0M56.6 114.3h0M219.5 69.2h0M60.0 62.5h0M175.0 51.0h0M72.8 63.9h0M235.5 57.6h0M79.0 62.1h0M67.0 69.6h0M225.0 56.0h0M147.4 58.8h0M186.1 57.6h0M148.8 65.9h0M125.9 44.8h0M147.6 62.1h0M214.1 45.0h0M86.0 42.8h0M207.7 70.5h0M201.4 67.5h0M143.7 59.2h0M196.4 49.7h0M119.2 78.6h0M159.8 65.7h0M144.5 65.7h0M89.1 66.2h0M222.8 52.2h0M179.6 59.5h0M116.1 57.1h0M240.1 51.5h0M83.8 52.1h0M192.2 58.9h0M146.5 56.8h0M84.1 61.7h0M122.1 56.6h0M101.4 57.4h0M237.3 55.8h0M197.3 56.7h0M133.5 60.3h0M143.0 43.3h0M84.9 67.6h0M92.8 62.6h0M207.9 52.7h0M202.6 55.9h0M122.1 74.6h0M123.2 66.5h0M157.1 48.1h0M82.0 68.8h0M75.0 60.6h0M101.9 47.9h0M98.2 60.7h0M110.5 80.7h0M205.9 36.0h0M132.0 63.6h0M120.1 77.0h0M195.4 82.9h0M125.9 60.1h0M160.0 64.2h0M109.7 54.9h0M149.0 76.0h0M203.6 61.7h0M185.8 43.3h0M81.4 63.6h0M119.5 59.7h0M208.0 65.3h0M231.1 63.0h0M176.6 61.2h0M206.3 60.6h0M232.0 53.4h0M92.5 65.9h0M159.2 62.2h0M64.6 57.2h0M71.7 65.8h0M226.3 45.0h0M124.4 41.8h0M184.5 51.4h0M218.5 82.4h0M169.7 51.8h0M158.8 65.1h0M211.3 55.7h0M129.7 52.2h0M192.8 70.5h0M96.6 60.6h0M205.6 65.2h0M201.4 52.4h0M191.2 51.0h0M166.7 62.8h0M108.4 58.9h0M165.1 67.1h0M187.0 53.0h0M225.1 54.0h0M98.3 63.8h0M99.2 61.7h0M71.3 56.7h0M221.4 67.0h0M224.3 50.8h0M66.0 76.0h0M161.9 57.4h0M216.4 60.8h0M239.1 71.5h0M179.3 66.8h0M171.2 85.5h0M203.7 64.1h0M73.6 65.0h0M238.7 59.4h0M160.6 51.3h0M81.3 66.3h0M90.2 50.5h0M166.4 52.7h0M157.0 69.7h0M221.1 54.4h0M176.9 71.6h0M192.3 68.2h0M62.6 50.7h0M112.2 68.4h0M148.0 56.9h0M226.2 73.7h0M234.1 61.1h0M164.6 53.3h0M94.2 83.0h0M202.1 61.1h0M205.8 77.7h0M160.7 51.4h0M95.4 72.6h0M210.1 58.3h0M180.3 69.2h0M73.5 70.2h0M190.3 76.6h0M193.1 60.7h0M60.4 87.5h0M136.9 51.0h0M47.3 74.6h0M217.7 46.6h0M58.9 73.1h0M162.1 57.6h0M165.9 43.9h0M179.1 64.7h0M100.2 55.0h0M184.3 72.6h0M130.9 51.8h0M226.5 70.2h0M145.3 40.1h0M129.1 66.7h0M196.0 70.5h0M221.2 68.9h0M196.3 48.7h0M191.9 55.4h0M65.7 54.3h0M58.1 40.3h0M146.3 54.8h0M172.0 60.1h0M197.4 62.1h0M88.9 70.3h0"/>
<path d="M168.1 57.7h0M176.8 65.4h0M101.7 53.5h0M79.9 57.0h0M209.0 58.6h0M119.6 57.6h0M213.7 64.6h0M57.7 58.2h0M74.9 58.7h0M212.6 44.1h0M126.2 49.4h0M86.0 64.8h0M149.3 50.9h0M237.5 60.0h0M200.0 68.5h0M155.0 65.4h0M224.8 52.9h0M103.9 67.3h0M119.5 67.9h0M128.2 79.8h0M165.0 59.3h0M164.9 67.4h0M73.8 65.6h0M240.1 50.6h0M166.3 55.5h0M162.5 62.2h0M148.2 70.9h0M183.6 50.6h0M172.5 59.8h0M157.6 64.3h0M80.2 55.2h0M126.0 49.0h0M139.5 51.5h0M169.6 56.3h0M131.8 63.6h0M57.9 79.1h0M233.4 35.2h0M132.0 55.3h0M127.7 65.1h0M121.9 60.3h0M185.3 83.3h0M187.4 56.9h0M148.2 45.3h0M168.3 60.1h0M72.1 54.5h0M84.4 68.9h0M113.6 76.4h0M209.0 44.2h0M135.8 64.9h0M122.4 63.2h0M88.2 56.1h0M103.8 65.1h0M184.8 65.1h0M91.1 63.3h0M219.2 69.9h0M65.2 61.6h0M69.1 82.9h0M111.1 76.0h0M92.7 70.1h0M153.5 50.5h0M134.8 61.9h0M206.3 54.4h0M228.7 61.3h0M155.8 78.7h0M86.2 55.3h0M195.8 76.6h0M133.5 55.1h0M195.7 59.7h0M57.9 75.5h0M175.2 64.1h0M100.3 76.0h0M170.9 72.0h0M115.9 65.0h0M185.1 82.9h0M138.9 59.5h0M150.2 58.0h0M230.2 49.4h0M112.7 64.0h0M214.3 47.6h0M110.1 48.8h0M177.1 69.5h0M161.9 61.6h0M173.5 61.5h0M103.3 55.8h0M82.0 68.4h0M206.9 63.8h0M56.7 40.0h0M47.4 67.7h0M229.6 64.0h0M143.3 58.4h0M116.2 60.9h0M195.5 61.2h0M164.2 71.6h0M133.9 67.5h0M146.5 55.3h0M61.8 62.6h0M158.8 52.2h0M52.1 79.3h0M184.0 53.2h0M177.0 68.1h0M133.0 60.8h0M144.8 53.3h0M105.2 73.6h0M51.1 107.8h0M185.0 63.9h0M77.9 148.1h0M170.5 45.1h0M205.0 72.7h0M107.7 67.2h0M108.9 68.3h0M151.0 62.0h0M125.3 46.4h0M137.0 70.7h0M218.1 49.5h0M168.5 66.6h0M107.9 67.6h0M71.6 53.0h0M73.3 53.4h0M92.0 81.0h0M114.6 68.9h0M91.8 49.7h0M81.5 50.4h0M100.5 59.3h0M135.6 67.6h0M191.7 78.5h0M79.1 55.1h0M223.4 56.7h0M141.4 64.0h0M162.6 47.0h0M66.7 73.0h0M113.7 61.9h0M90.9 73.3h0M148.6 68.7h0M50.7 68.4h0M80.2 62.3h0M122.3 60.6h0M96.9 60.5h0M135.5 52.1h0M220.6 59.7h0M148.7 57.3h0M186.7 70.0h0M155.8 67.3h0M67.1 56.7h0M116.0 70.6h0M84.5 50.8h0M181.5 60.0h0M198.9 90.2h0M215.1 64.5h0M72.9 58.0h0M82.9 46.7h0M116.6 57.6h0M170.2 55.2h0M135.3 50.2h0M84.9 74.1h0M144.6 43.6h0M125.7 53.3h0M200.6 61.2h0M181.9 64.4h0M190.5 66.0h0M138.8 57.4h0M183.8 46.8h0M164.1 56.4h0M83.0 48.7h0M92.4 66.1h0M239.6 57.5h0M111.2 58.2h0M183.8 53.2h0M181.4 59.8h0M196.1 69.2h0M222.5 65.5h0M150.2 52.2h0M186.8 42.9h0M87.0 63.3h0M235.0 75.7h0M234.8 51.2h0M138.3 55.0h0M219.5 60.8h0M85.6 55.9h0M199.8 62.1h0M86.0 82.8h0M76.4 66.4h0M91.1 49.5h0M67.6 70.3h0M134.2 63.8h0M140.0 87.0h0M201.7 63.0h0M128.4 51.4h0M87.0 48.9h0M108.1 54.5h0M136.8 47.7h0M86.2 51.2h0M153.9 49.2h0M169.0 57.2h0"/>
<path d="M155.4 57.1h0M125.6 49.7h0M112.1 54.0h0M199.3 32.0h0M57.5 56.1h0M167.7 52.4h0M171.9 63.8h0M178.6 64.1h0M152.6 45.1h0M137.7 71.0h0M177.8 47.2h0M97.9 76.1h0M68.5 59.4h0M198.8 56.8h0M69.3 45.0h0M233.0 48.8h0M183.1 47.2h0M186.6 80.6h0M153.9 50.5h0M204.3 58.0h0M86.8 54.3h0M56.4 57.2h0M182.6 69.7h0M226.4 46.4h0M79.8 55.2h0M209.0 36.7h0M189.4 38.7h0M222.5 56.7h0M121.3 57.7h0M193.5 63.7h0M126.6 61.9h0M79.0 47.7h0M195.1 80.0h0M149.3 75.9h0M147.3 47.5h0M238.8 56.2h0M90.1 28.8h0M151.6 70.3h0M126.4 53.5h0M94.7 73.5h0M74.1 42.6h0M198.1 70.2h0M134.6 62.8h0M69.1 60.6h0M231.4 64.2h0M74.2 63.0h0M88.0 71.7h0M139.6 62.8h0M167.6 63.6h0M79.1 51.5h0M162.9 59.6h0M54.5 80.8h0M114.0 64.6h0M68.3 79.7h0M95.1 56.3h0M81.0 55.1h0M59.2 80.3h0M230.0 56.5h0M86.4 67.9h0M181.5 54.8h0M228.4 56.4h0M143.5 77.5h0M164.4 62.5h0M189.2 52.1h0M196.7 49.1h0M156.5 62.7h0M191.1 61.3h0M77.2 58.0h0M189.6 73.0h0M64.7 45.8h0M113.1 50.9h0M58.2 85.1h0M186.8 62.1h0M107.2 49.7h0M56.1 52.2h0M161.7 59.4h0M182.0 76.9h0M63.2 75.8h0M68.3 53.6h0M221.5 60.4h0M127.7 66.3h0M238.1 60.2h0M69.2 65.3h0M51.8 57.2h0M193.4 57.4h0M133.0 70.6h0M174.8 57.3h0M116.2 83.7h0M174.6 55.5h0M159.9 66.7h0M170.9 63.3h0M173.1 60.4h0M215.5 53.9h0M212.6 71.7h0M123.4 71.9h0M111.3 63.5h0M128.8 74.0h0M147.1 74.3h0M92.9 48.2h0M178.5 57.9h0M227.4 55.4h0M235.2 81.5h0M158.8 66.4h0M129.3 49.3h0M98.5 64.7h0M202.3 51.7h0M98.2 53.8h0M79.0 64.1h0M200.8 56.7h0M238.8 54.6h0M145.0 64.1h0M180.4 52.2h0M92.1 53.3h0M94.1 69.0h0M238.4 72.3h0M193.9 78.2h0M212.8 83.2h0M113.2 71.3h0M143.5 39.2h0M146.9 63.3h0M179.3 87.2h0M162.1 64.9h0M196.7 68.5h0M147.7 69.6h0M89.4 72.1h0M240.1 73.4h0M154.4 51.5h0M222.6 58.1h0M188.5 67.9h0M163.8 64.7h0M97.1 39.8h0M204.4 56.5h0M78.5 59.0h0M196.4 49.6h0M237.2 52.7h0M96.6 61.0h0M114.5 67.1h0M202.6 54.4h0M128.5 60.7h0M146.9 64.7h0M154.6 70.6h0M178.9 52.3h0M169.4 70.9h0M77.2 62.0h0M119.1 53.9h0M129.6 64.1h0M78.4 64.7h0M66.6 70.0h0M235.9 57.7h0M225.1 64.3h0M113.0 70.2h0M176.8 68.5h0M59.1 73.5h0M145.8 47.6h0M183.9 48.0h0M217.4 42.1h0M201.4 63.8h0M113.7 73.3h0M123.8 64.8h0M144.6 65.8h0M122.8 59.7h0M100.2 63.5h0M115.2 87.3h0M116.0 58.6h0M105.6 63.3h0M50.6 71.4h0M154.3 53.2h0M226.0 55.7h0M108.3 55.7h0M68.2 60.1h0M211.6 48.8h0M52.6 48.8h0M195.8 51.0h0M207.3 83.8h0M64.5 60.1h0M64.9 91.1h0M135.6 61.6h0M60.3 52.4h0M173.3 51.0h0M204.0 42.0h0M171.2 67.9h0M97.3 58.9h0M218.9 47.1h0M105.6 54.4h0M156.2 80.7h0M126.7 74.9h0M100.3 49.9h0M206.8 64.8h0M59.7 55.3h0M78.3 64.3h0M235.3 64.3h0M158.5 56.8h0M144.7 46.1h0"/>
<path d="M73.2 70.7h0M73.8 59.9h0M115.9 44.3h0M178.2 54.6h0M145.3 61.3h0M77.2 49.2h0M185.6 57.5h0M217.3 70.0h0M50.9 54.4h0M73.6 50.9h0M235.4 86.6h0M82.2 58.4h0M214.2 66.1h0M78.9 84.1h0M178.8 71.3h0M131.3 70.2h0M225.8 50.6h0M74.8 65.6h0M180.3 52.8h0M197.4 55.5h0M211.7 56.6h0M187.8 54.7h0M168.5 51.4h0M92.9 64.6h0M201.6 59.0h0M224.6 64.3h0M156.1 65.6h0M225.0 61.9h0M124.4 64.4h0M64.1 59.7h0M86.5 56.1h0M171.2 65.3h0M221.8 41.0h0M213.5 62.1h0M235.7 45.2h0M162.5 86.1h0M85.8 67.4h0M133.0 47.7h0M144.2 48.1h0M223.6 58.5h0M177.1 56.7h0M127.4 63.4h0M91.5 60.3h0M137.2 59.4h0M205.4 51.5h0M77.4 54.7h0M81.6 63.3h0M62.4 55.9h0M68.7 60.7h0M145.7 67.5h0M105.7 59.8h0M165.1 63.1h0M149.8 53.7h0M207.4 59.0h0M134.6 65.3h0M160.7 76.4h0M90.4 53.0h0M98.4 67.7h0M130.3 73.3h0M143.8 64.8h0M112.4 68.2h0M72.0 46.0h0M57.2 49.3h0M80.2 70.2h0M156.2 56.8h0M56.4 70.4h0M164.0 71.5h0M103.8 54.4h0M167.7 77.9h0M193.5 51.3h0M202.2 69.7h0M224.2 72.1h0M199.4 52.9h0M188.7 57.8h0M112.2 66.0h0M186.6 64.7h0M127.4 75.4h0M78.7 62.5h0M107.2 58.3h0M100.4 62.1h0M90.8 50.7h0M201.1 73.6h0M134.0 73.9h0M133.2 75.7h0M86.8 71.2h0M164.0 66.9h0M114.7 62.7h0M211.7 44.8h0M87.3 59.7h0M193.4 47.3h0M156.0 65.3h0M148.8 69.8h0M222.6 63.9h0M142.1 48.5h0M123.3 58.0h0M175.6 60.3h0M194.1 52.8h0M219.2 57.9h0M48.7 79.2h0M166.6 61.9h0M56.6 57.5h0M63.5 54.1h0M70.7 68.1h0M77.4 83.9h0M224.9 60.7h0M206.3 63.0h0M104.4 41.3h0M170.4 63.5h0M172.0 50.5h0M185.2 53.4h0M189.3 57.1h0M164.0 54.8h0M121.5 50.1h0M214.8 60.9h0M206.7 59.6h0M133.6 57.9h0M131.1 73.6h0M170.0 64.3h0M65.7 68.7h0M101.5 57.4h0M152.6 63.9h0M90.7 54.9h0M137.8 76.1h0M78.0 99.0h0M223.7 59.0h0M177.0 63.8h0M149.3 60.1h0M95.7 55.5h0M82.1 59.2h0M121.4 75.9h0M113.4 52.6h0M144.9 50.9h0M131.8 49.5h0M224.6 52.0h0M103.4 44.9h0M239.0 69.2h0M111.0 52.6h0M140.6 60.1h0M76.3 53.0h0M86.2 55.0h0M90.5 66.4h0M195.4 50.0h0M184.7 48.3h0M161.3 88.9h0M57.4 63.2h0M81.2 61.6h0M195.5 55.1h0M225.8 75.2h0M205.1 71.2h0M209.4 46.6h0M147.7 70.1h0M74.5 57.6h0M177.4 42.5h0M221.3 48.4h0M212.3 54.9h0M218.7 47.1h0M172.5 82.8h0M237.3 64.9h0M134.3 52.2h0M156.5 53.0h0M124.0 49.7h0M186.0 71.0h0M225.9 64.1h0M137.1 74.1h0M236.1 77.3h0M186.7 65.9h0M173.5 67.6h0M212.6 56.5h0M106.9 38.9h0M81.2 78.7h0M78.0 86.6h0M177.0 73.3h0M188.8 79.5h0M198.4 66.2h0M231.5 63.5h0M170.1 56.1h0M240.7 45.4h0M209.8 61.6h0M169.2 55.2h0M89.7 60.7h0M117.0 68.8h0M220.8 42.1h0M89.7 57.0h0M122.7 95.1h0M203.4 44.3h0M164.4 69.2h0M218.5 52.1h0M237.3 61.1h0M109.8 49.0h0M47.3 78.7h0M67.9 67.3h0M233.7 55.9h0M207.2 65.7h0"/>
</g>
<g fill="none" stroke="#303030" stroke-opacity="0.46" stroke-width="2.00" stroke-linecap="round">
<path d="M346.3 135.7h0M375.8 135.7h0M385.6 141.7h0M425.9 137.4h0M479.1 138.7h0M421.7 136.9h0M399.5 136.6h0M320.3 99.4h0M398.7 140.1h0M416.3 134.4h0M342.2 135.7h0M355.3 138.1h0M325.3 127.8h0M431.9 140.2h0M415.8 140.5h0M380.1 138.4h0M371.5 130.3h0M452.8 134.1h0M432.5 141.3h0M360.6 141.5h0M350.9 141.3h0M397.1 140.3h0M426.9 135.3h0M314.0 130.3h0M451.2 126.2h0M456.3 143.7h0M345.1 97.4h0M343.1 76.1h0M390.4 136.9h0M432.1 135.2h0M459.2 134.4h0M377.8 140.4h0M358.7 139.2h0M499.4 138.3h0M397.6 135.5h0M465.9 139.4h0M450.2 144.4h0M354.0 139.0h0M422.8 138.9h0M312.9 118.3h0M351.3 122.6h0M412.2 137.6h0M435.6 135.8h0M397.0 143.9h0M477.4 140.7h0M373.9 133.1h0M407.4 138.1h0M410.3 139.9h0M461.4 137.7h0M440.6 142.9h0M436.0 140.4h0M429.4 135.6h0M365.9 140.4h0M417.5 138.8h0M396.6 142.0h0M364.0 141.3h0M328.2 119.5h0M387.9 135.1h0M433.1 129.3h0M431.3 138.8h0M324.9 85.5h0M370.4 126.9h0M361.7 119.9h0M464.3 133.4h0M421.5 134.3h0M403.6 137.7h0M410.9 141.2h0M349.6 117.0h0M435.3 135.5h0M340.3 141.9h0M455.3 145.6h0M442.8 138.8h0M459.5 135.6h0M344.7 142.6h0M482.2 127.7h0M420.6 107.0h0M368.5 133.5h0M448.3 134.7h0M393.6 131.9h0M379.6 142.2h0M368.2 136.5h0M401.5 144.2h0M373.3 138.7h0M465.2 137.8h0M484.9 133.9h0M399.1 131.9h0M484.5 132.1h0M352.4 128.9h0M396.1 134.4h0M489.7 135.7h0M345.3 109.4h0M344.8 140.5h0M431.7 137.7h0M411.3 138.2h0M419.5 143.6h0M498.4 141.7h0M363.7 143.6h0M315.5 125.9h0M381.4 146.7h0M438.9 140.9h0M354.3 141.3h0M424.4 138.7h0M483.8 137.2h0M348.0 134.2h0M483.2 137.5h0M420.9 133.9h0M427.8 130.3h0M349.0 139.4h0M396.5 137.0h0M339.3 140.6h0M353.5 137.0h0M356.2 138.4h0M437.6 133.9h0M329.5 136.9h0M466.6 145.8h0M403.0 134.5h0M453.8 142.4h0M462.4 136.5h0M483.6 140.6h0M374.1 142.3h0M349.3 136.4h0M382.3 129.3h0M467.3 116.5h0M393.3 140.1h0M471.3 137.9h0M339.1 144.5h0M386.2 135.6h0M325.8 138.5h0M405.6 137.8h0M365.9 137.4h0M351.6 137.7h0M415.1 140.2h0M388.4 142.6h0M430.5 130.7h0M476.5 131.4h0M454.7 143.3h0M430.0 134.9h0M380.0 144.7h0M452.4 145.5h0M329.7 143.5h0M347.3 137.7h0M353.4 139.5h0M426.4 133.6h0M338.0 135.8h0M498.1 123.8h0M337.8 143.0h0M400.6 126.6h0M336.9 145.4h0M357.7 140.8h0M435.4 141.2h0M436.4 140.1h0M346.1 141.2h0M372.7 139.4h0M349.0 143.0h0M446.6 140.9h0M392.0 140.2h0M344.2 138.4h0M422.0 135.7h0M328.0 135.9h0M428.2 134.5h0M366.1 122.9h0M346.3 139.2h0M396.7 130.1h0M404.8 143.9h0M399.0 110.8h0M439.9 139.8h0M361.5 116.7h0M384.4 138.7h0M334.7 136.6h0M417.5 140.2h0M493.7 136.9h0M318.4 136.6h0M402.7 141.3h0M493.7 144.9h0M353.6 133.1h0M441.3 140.7h0M426.0 124.5h0M397.5 132.6h0M377.3 140.4h0M405.0 137.4h0M357.8 137.6h0M338.9 128.3h0M448.3 124.4h0M406.0 137.9h0M444.2 142.8h0M470.9 139.4h0M330.6 134.8h0M458.3 141.5h0M435.7 140.8h0M450.9 142.9h0M433.8 139.3h0M376.7 142.7h0M499.5 141.8h0M422.0 140.5h0M334.1 119.4h0M371.1 138.2h0M490.8 144.5h0M327.9 134.8h0M453.7 142.5h0M455.5 140.4h0M392.3 137.1h0M433.3 134.4h0M442.5 143.4h0M459.3 142.0h0M435.2 141.7h0M354.5 135.8h0M331.1 136.6h0M382.3 136.8h0M355.2 137.9h0M484.3 133.2h0M459.9 142.3h0M452.9 133.6h0M392.5 130.1h0"/>
<path d="M486.6 130.1h0M489.1 141.2h0M338.8 141.5h0M356.1 119.6h0M432.1 124.4h0M348.3 136.4h0M470.6 134.9h0M438.8 124.3h0M455.5 137.9h0M415.8 136.2h0M441.8 132.6h0M463.4 140.9h0M482.0 138.0h0M433.6 138.8h0M406.9 133.7h0M350.7 142.6h0M470.8 127.8h0M352.3 138.8h0M408.2 130.2h0M393.6 127.0h0M330.6 135.5h0M386.8 139.3h0M423.4 137.7h0M481.5 140.4h0M433.7 129.5h0M475.4 142.2h0M326.9 136.4h0M441.7 145.1h0M362.1 136.1h0M419.7 141.3h0M336.9 136.5h0M343.1 126.8h0M368.8 143.7h0M411.7 135.1h0M393.6 143.1h0M464.6 132.2h0M373.8 139.2h0M498.1 146.2h0M404.8 141.3h0M360.3 144.1h0M356.6 130.8h0M375.8 141.2h0M352.4 140.6h0M391.5 129.3h0M432.5 139.1h0M409.1 139.2h0M456.4 134.8h0M442.3 142.8h0M368.1 134.9h0M496.4 143.2h0M463.4 144.1h0M450.3 140.2h0M486.2 133.1h0M429.1 139.7h0M448.3 136.6h0M414.3 138.4h0M437.0 137.0h0M487.4 141.7h0M450.3 130.1h0M336.6 130.6h0M374.4 132.9h0M373.1 140.6h0M496.1 130.0h0M464.8 137.5h0M373.4 137.9h0M343.8 134.2h0M352.1 137.0h0M356.6 144.1h0M396.6 136.8h0M329.5 142.8h0M320.7 132.2h0M372.5 142.0h0M440.2 138.0h0M423.6 137.5h0M421.1 133.0h0M422.6 142.7h0M326.0 141.6h0M364.6 137.2h0M349.7 137.2h0M329.4 141.6h0M442.4 141.1h0M498.0 135.9h0M328.3 127.5h0M442.9 140.1h0M363.3 143.4h0M342.4 144.5h0M439.4 136.9h0M323.8 134.6h0M431.7 138.0h0M444.1 136.4h0M403.3 130.9h0M323.7 135.3h0M334.9 136.4h0M360.2 136.0h0M332.0 140.5h0M430.9 145.0h0M418.2 124.2h0M431.6 131.7h0M427.1 143.7h0M494.8 138.8h0M377.2 132.0h0M489.4 141.3h0M413.4 137.1h0M396.6 131.9h0M390.8 143.4h0M396.4 138.4h0M388.1 146.3h0M376.2 140.8h0M325.2 132.5h0M349.7 136.5h0M377.6 139.6h0M331.2 127.7h0M473.2 137.2h0M455.9 136.5h0M401.4 137.6h0M342.2 140.7h0M384.3 140.0h0M481.7 140.9h0M479.8 140.6h0M349.8 118.5h0M455.0 139.2h0M360.6 133.7h0M337.1 139.6h0M333.2 140.7h0M366.4 144.2h0M363.8 137.8h0M396.2 138.3h0M390.6 135.9h0M435.6 138.1h0M450.1 129.1h0M454.9 138.7h0M439.9 133.6h0M434.4 141.2h0M360.7 135.4h0M312.5 124.1h0M480.3 141.8h0M375.7 135.9h0M355.2 138.1h0M463.3 144.0h0M474.3 141.8h0M454.4 142.9h0M429.0 130.2h0M421.3 139.4h0M360.2 133.5h0M413.1 140.7h0M321.2 130.3h0M460.1 143.6h0M436.8 144.9h0M372.0 134.1h0M330.2 141.9h0M366.7 137.1h0M397.6 137.7h0M317.3 120.2h0M480.7 140.8h0M377.2 135.1h0M363.4 142.0h0M343.7 121.7h0M394.5 139.0h0M347.1 136.8h0M465.6 131.7h0M330.8 135.2h0M454.7 127.5h0M439.5 140.9h0M408.9 137.8h0M451.4 142.7h0M472.5 139.4h0M482.2 137.8h0M342.5 140.5h0M460.5 134.3h0M336.8 140.7h0M333.9 132.4h0M473.8 145.7h0M435.9 129.1h0M347.8 133.9h0M456.1 131.9h0M388.6 136.4h0M407.1 134.1h0M487.1 143.0h0M418.4 136.5h0M392.8 139.1h0M474.7 138.4h0M449.8 142.5h0M496.2 143.5h0M440.8 140.8h0M353.2 135.5h0M418.1 138.4h0M411.1 139.7h0M323.5 104.5h0M349.7 140.1h0M444.8 139.0h0M438.9 143.5h0M456.4 137.7h0M448.6 124.3h0M371.6 139.4h0M463.4 130.4h0M329.8 139.5h0M392.5 121.9h0M410.1 93.1h0M398.5 136.3h0M458.9 138.2h0M458.3 121.8h0M463.8 126.6h0M364.1 137.5h0M419.3 139.7h0M457.3 143.5h0M434.2 109.8h0M318.2 132.8h0M334.2 137.4h0M404.8 137.6h0M493.6 137.6h0M330.3 133.9h0M446.1 135.8h0M468.5 133.8h0"/>
<path d="M489.0 130.6h0M491.8 133.8h0M333.5 144.2h0M449.2 127.1h0M453.4 144.5h0M371.1 123.5h0M432.1 137.6h0M435.5 133.2h0M449.0 140.3h0M435.8 135.2h0M329.5 139.0h0M349.0 123.9h0M341.8 131.2h0M379.3 138.7h0M322.7 136.8h0M433.8 132.4h0M333.4 145.8h0M484.4 138.1h0M486.9 134.6h0M375.8 135.2h0M332.4 134.0h0M485.5 129.9h0M489.3 130.6h0M489.6 141.2h0M334.4 137.9h0M427.9 128.9h0M377.3 137.4h0M384.1 140.8h0M331.0 132.9h0M428.3 141.4h0M453.0 143.5h0M379.2 144.5h0M453.7 136.9h0M397.2 141.5h0M371.0 138.3h0M331.7 141.4h0M349.5 142.5h0M420.4 139.5h0M434.4 142.5h0M463.5 145.2h0M354.4 142.8h0M404.0 133.7h0M371.7 138.1h0M498.4 137.1h0M385.5 144.6h0M488.9 143.5h0M332.1 139.0h0M354.7 130.8h0M494.2 135.5h0M480.9 142.0h0M376.5 141.8h0M467.4 132.1h0M415.8 125.1h0M391.1 95.6h0M415.8 140.4h0M416.4 108.3h0M467.8 136.6h0M489.1 136.0h0M392.2 111.9h0M323.9 131.8h0M429.3 115.1h0M368.9 137.7h0M340.4 125.8h0M317.5 132.1h0M437.7 137.9h0M387.2 116.4h0M431.5 142.1h0M476.3 140.3h0M390.7 135.4h0M368.8 139.1h0M406.0 137.4h0M396.6 137.0h0M396.1 133.6h0M471.7 143.7h0M407.8 132.8h0M411.6 131.5h0M443.2 139.0h0M486.3 131.9h0M461.2 128.7h0M494.5 145.6h0M396.7 133.4h0M413.6 137.4h0M321.3 131.3h0M469.3 142.0h0M422.7 140.4h0M350.8 133.2h0M311.6 118.8h0M407.6 108.4h0M459.3 142.0h0M426.7 132.2h0M320.9 139.9h0M474.6 142.0h0M354.4 135.2h0M385.1 137.1h0M432.6 118.5h0M466.4 127.7h0M396.5 136.3h0M387.8 136.4h0M497.3 142.8h0M316.5 135.0h0M351.3 137.4h0M325.7 136.6h0M431.4 139.0h0M465.0 129.2h0M356.4 133.6h0M428.4 141.2h0M422.3 138.9h0M341.2 138.8h0M440.3 133.6h0M337.0 138.7h0M475.2 134.1h0M351.4 142.6h0M383.0 140.4h0M480.6 129.6h0M426.7 129.1h0M352.9 133.2h0M488.0 120.5h0M455.0 135.9h0M342.3 134.5h0M473.1 135.8h0M343.5 142.2h0M421.1 143.9h0M315.9 128.6h0M380.5 138.6h0M315.7 61.5h0M364.7 136.1h0M408.2 140.1h0M352.0 143.8h0M323.5 142.4h0M416.7 139.1h0M325.4 138.9h0M491.1 139.2h0M470.1 136.1h0M415.1 134.3h0M484.8 134.4h0M390.0 134.3h0M487.2 138.4h0M339.2 141.9h0M348.5 144.4h0M331.5 136.8h0M411.7 131.5h0M452.6 142.2h0M396.2 141.7h0M467.2 130.4h0M459.2 138.4h0M337.3 138.1h0M486.1 135.0h0M338.9 143.6h0M465.8 137.3h0M477.9 145.1h0M397.0 136.0h0M386.6 139.6h0M345.5 135.9h0M399.3 132.1h0M420.7 131.2h0M484.4 138.9h0M408.7 139.8h0M338.9 143.5h0M419.6 111.0h0M498.8 141.8h0M425.8 143.8h0M499.0 143.1h0M474.5 136.3h0M404.1 123.6h0M361.8 140.9h0M433.9 144.8h0M475.0 134.7h0M387.0 129.3h0M347.2 139.7h0M446.6 130.6h0M451.9 136.4h0M472.6 140.9h0M433.0 146.7h0M471.0 144.2h0M369.5 138.0h0M429.7 143.8h0M326.1 82.2h0M474.1 121.0h0M389.9 134.3h0M345.7 135.9h0M370.3 132.9h0M402.3 137.4h0M371.4 95.6h0M358.6 139.9h0M377.3 141.7h0M358.6 138.8h0M494.2 139.3h0M464.0 138.8h0M351.5 135.8h0M370.4 133.3h0M484.4 142.6h0M423.6 138.7h0M467.2 135.1h0M327.3 144.5h0M346.8 135.6h0M467.2 136.8h0M478.8 144.8h0M346.6 139.8h0M333.3 136.0h0M404.0 137.6h0M450.4 144.2h0M375.9 127.9h0M454.1 136.1h0M363.6 135.7h0M356.1 137.4h0M441.8 127.8h0M472.1 135.9h0M481.5 135.3h0M404.0 140.4h0M334.3 130.5h0M393.1 145.7h0M341.7 135.3h0M468.3 139.4h0"/>
<path d="M440.2 135.3h0M403.2 131.0h0M349.2 134.0h0M461.8 139.5h0M403.2 136.2h0M477.3 140.0h0M437.8 134.5h0M457.6 134.9h0M405.5 140.9h0M363.9 136.8h0M361.2 140.7h0M365.0 137.7h0M438.4 138.1h0M435.0 141.8h0M396.7 141.5h0M401.4 137.0h0M478.1 144.0h0M470.6 139.4h0M364.1 142.6h0M499.0 142.7h0M390.3 142.2h0M431.3 141.4h0M351.4 141.2h0M401.1 139.2h0M444.7 138.7h0M440.0 136.3h0M358.0 141.2h0M407.5 136.2h0M395.3 136.0h0M335.9 126.7h0M414.8 136.0h0M425.8 132.8h0M488.0 135.7h0M379.3 141.6h0M444.7 141.4h0M380.6 137.0h0M328.7 107.6h0M380.4 137.6h0M451.1 140.8h0M428.8 138.1h0M353.5 127.9h0M409.6 134.3h0M497.9 142.5h0M434.1 138.7h0M359.2 118.7h0M346.8 140.8h0M394.8 132.0h0M465.6 141.1h0M368.7 137.8h0M388.1 142.4h0M405.9 138.7h0M341.0 139.2h0M392.5 139.4h0M387.3 143.7h0M417.5 142.8h0M337.7 136.5h0M415.2 144.4h0M331.6 139.8h0M396.1 138.6h0M326.9 140.1h0M445.6 110.7h0M394.3 133.7h0M449.9 138.0h0M377.5 141.2h0M346.3 134.5h0M410.5 136.5h0M349.4 142.3h0M428.4 137.4h0M481.7 136.0h0M485.1 135.2h0M394.6 143.0h0M467.8 141.4h0M394.4 143.2h0M438.9 137.5h0M350.2 139.0h0M387.1 136.9h0M332.4 135.0h0M367.9 145.3h0M480.5 140.2h0M388.0 131.3h0M485.6 135.3h0M429.2 130.6h0M432.7 132.6h0M490.9 129.8h0M419.3 133.1h0M392.1 130.2h0M499.2 142.2h0M384.1 138.9h0M444.2 144.4h0M410.0 137.1h0M339.3 116.1h0M403.7 137.2h0M360.1 131.3h0M449.2 138.7h0M460.7 142.0h0M339.2 133.8h0M486.3 142.8h0M467.4 135.1h0M360.3 103.8h0M348.3 143.5h0M431.0 135.9h0M350.5 138.6h0M311.8 125.3h0M355.7 145.1h0M370.1 133.4h0M317.3 127.0h0M386.0 139.8h0M439.0 127.7h0M341.5 141.4h0M340.9 135.0h0M490.7 140.0h0M417.1 133.8h0M338.0 143.6h0M467.6 141.9h0M412.5 136.5h0M424.7 137.8h0M326.5 138.0h0M424.3 134.4h0M374.0 136.1h0M336.8 141.2h0M368.8 140.5h0M378.4 133.7h0M387.5 122.9h0M414.4 138.6h0M468.8 120.5h0M364.3 116.9h0M422.5 130.9h0M461.0 139.5h0M319.9 138.5h0M476.6 144.3h0M348.9 128.5h0M476.8 135.8h0M483.1 124.6h0M474.4 140.7h0M434.5 132.0h0M366.2 134.5h0M425.1 141.2h0M354.2 137.4h0M456.0 138.8h0M457.1 143.3h0M344.9 133.6h0M376.7 138.9h0M358.3 140.7h0M373.4 132.2h0M409.5 142.4h0M482.1 132.0h0M464.7 143.6h0M464.4 137.2h0M377.6 122.5h0M387.3 137.4h0M365.6 129.0h0M320.3 135.3h0M343.6 132.1h0M455.2 142.8h0M489.2 139.5h0M398.4 138.1h0M325.9 137.3h0M461.9 132.1h0M324.0 105.7h0M463.0 134.8h0M499.4 139.2h0M430.2 143.2h0M333.2 141.9h0M498.8 144.3h0M479.0 139.9h0M392.7 134.5h0M400.0 139.0h0M438.1 117.0h0M479.6 133.6h0M491.0 132.1h0M344.6 138.1h0M318.2 132.6h0M488.1 129.8h0M342.7 138.1h0M371.3 129.9h0M479.5 135.5h0M454.6 138.0h0M475.6 143.3h0M421.9 127.4h0M378.8 137.9h0M318.2 133.2h0M408.8 144.5h0M482.9 141.4h0M486.1 138.4h0M475.7 133.8h0M350.4 140.7h0M443.4 131.7h0M452.4 130.1h0M406.9 125.0h0M339.7 135.5h0M429.5 140.1h0M378.2 138.8h0M385.0 135.0h0M354.1 137.9h0M358.3 136.0h0M438.7 140.3h0M349.5 116.3h0M499.0 121.5h0M450.0 141.1h0M392.6 136.2h0M341.1 143.1h0M453.5 145.8h0M462.4 138.2h0M375.4 136.2h0M459.4 129.4h0M365.3 142.9h0M361.9 142.3h0M479.4 135.8h0M475.8 141.6h0M438.9 140.3h0M458.4 131.4h0M366.1 136.2h0M353.8 140.9h0"/>
<path d="M451.8 133.3h0M439.3 142.8h0M457.0 134.5h0M429.8 138.4h0M325.2 129.3h0M448.4 142.7h0M377.6 139.1h0M437.4 136.0h0M333.6 133.7h0M380.1 140.9h0M381.7 138.1h0M347.9 142.5h0M335.7 135.7h0M409.2 140.7h0M420.7 144.4h0M333.8 142.9h0M364.6 144.2h0M393.6 135.9h0M397.5 133.4h0M488.6 122.8h0M419.8 122.1h0M446.6 140.0h0M415.7 139.7h0M463.1 128.3h0M412.4 136.7h0M416.2 131.6h0M415.4 140.4h0M380.1 133.4h0M422.6 140.5h0M492.3 136.8h0M475.9 135.8h0M353.3 126.8h0M384.8 136.8h0M460.4 138.7h0M324.7 127.7h0M474.8 136.4h0M449.7 135.1h0M361.8 143.2h0M403.9 129.2h0M443.6 142.6h0M466.2 132.5h0M400.8 138.5h0M436.0 133.8h0M338.1 138.2h0M407.0 140.0h0M334.8 142.1h0M420.4 138.1h0M499.6 134.9h0M337.6 132.4h0M474.7 143.0h0M460.5 138.0h0M420.7 133.1h0M342.5 137.6h0M348.0 137.3h0M473.9 141.7h0M471.3 136.2h0M417.8 141.9h0M350.5 134.7h0M459.5 136.9h0M423.7 127.0h0M426.7 142.1h0M440.3 133.2h0M465.0 127.8h0M350.6 137.2h0M374.2 133.1h0M499.6 133.9h0M483.8 139.2h0M462.0 131.5h0M387.0 138.5h0M466.0 136.7h0M404.9 134.1h0M422.0 140.5h0M388.2 140.3h0M349.6 145.0h0M497.5 138.0h0M495.8 141.9h0M472.4 143.0h0M456.0 133.1h0M411.9 144.3h0M377.2 142.6h0M377.0 138.5h0M321.9 134.5h0M432.6 133.9h0M429.8 138.4h0M366.2 138.2h0M436.7 108.3h0M482.0 141.8h0M390.7 136.7h0M387.4 129.3h0M431.0 135.4h0M345.3 142.0h0M484.6 132.0h0M433.0 141.4h0M470.4 133.1h0M427.1 142.2h0M487.5 143.4h0M330.8 139.3h0M383.1 137.3h0M446.4 142.3h0M342.1 130.3h0M373.0 139.9h0M393.6 140.3h0M494.6 135.2h0M498.0 134.0h0M422.6 145.5h0M347.5 131.9h0M334.0 138.9h0M411.8 140.5h0M482.5 145.5h0M408.8 136.0h0M474.3 138.2h0M375.0 139.3h0M347.0 119.4h0M350.9 137.7h0M362.3 134.8h0M483.5 112.0h0M426.7 141.5h0M317.5 131.7h0M378.3 138.3h0M438.6 138.6h0M367.7 140.8h0M347.2 137.8h0M495.6 135.4h0M470.2 116.5h0M332.5 135.7h0M405.7 140.2h0M429.5 121.6h0M356.6 136.8h0M352.9 145.0h0M499.2 137.7h0M397.2 139.8h0M354.0 141.1h0M436.8 135.3h0M369.7 134.1h0M397.4 129.2h0M481.5 137.6h0M493.3 137.7h0M396.2 135.6h0M353.4 116.2h0M420.3 139.6h0M394.9 107.0h0M390.7 136.9h0M379.9 138.5h0M340.8 136.0h0M426.7 133.5h0M431.6 133.5h0M451.9 140.0h0M435.4 140.2h0M355.8 126.6h0M480.9 139.3h0M327.8 137.3h0M487.6 141.3h0M493.6 135.6h0M463.8 133.4h0M403.0 131.6h0M326.2 138.1h0M495.3 139.5h0M462.4 138.1h0M329.4 141.2h0M332.9 131.6h0M455.0 143.6h0M472.6 141.1h0M328.9 141.1h0M459.7 122.6h0M344.2 142.0h0M458.3 134.1h0M473.7 134.4h0M337.0 134.6h0M422.6 135.7h0M486.4 135.0h0M418.9 144.0h0M455.8 138.4h0M453.9 138.1h0M480.1 138.2h0M470.8 141.4h0M495.8 131.9h0M404.1 145.8h0M384.7 141.0h0M319.2 131.3h0M358.2 140.2h0M448.0 136.3h0M484.5 142.9h0M356.7 137.9h0M386.5 135.5h0M463.8 129.7h0M400.6 128.5h0M382.0 142.5h0M331.1 141.5h0M431.7 139.5h0M495.9 141.4h0M485.7 136.7h0M478.0 141.6h0M439.3 141.3h0M489.9 141.9h0M409.9 125.5h0M334.7 133.8h0M338.7 140.5h0M484.3 145.2h0M479.2 140.3h0M416.2 142.0h0M354.5 138.9h0M417.1 137.6h0M406.3 136.4h0M320.7 117.1h0M331.5 143.6h0M443.3 144.2h0M321.3 138.7h0M387.4 136.8h0M481.3 135.0h0M401.0 138.5h0M359.6 141.5h0M492.7 139.5h0M394.8 128.8h0"/>
<path d="M407.7 141.3h0M489.9 137.5h0M350.6 138.5h0M377.9 118.3h0M325.3 139.9h0M487.0 132.1h0M354.1 135.4h0M341.8 135.8h0M359.3 145.4h0M423.9 141.3h0M477.4 139.6h0M436.1 141.7h0M410.7 136.6h0M337.4 137.8h0M384.0 114.7h0M357.4 142.6h0M357.9 135.9h0M355.0 83.7h0M362.0 140.3h0M436.3 137.5h0M345.4 140.5h0M377.3 140.6h0M458.3 128.4h0M468.9 138.2h0M434.5 139.5h0M470.8 138.1h0M365.6 135.5h0M388.6 99.4h0M365.3 82.2h0M434.0 132.6h0M445.4 141.2h0M379.0 133.3h0M450.7 142.0h0M343.8 145.2h0M493.9 136.4h0M408.7 119.3h0M335.2 143.5h0M487.1 142.9h0M421.1 137.3h0M327.8 134.4h0M423.4 132.9h0M397.0 135.4h0M331.6 136.7h0M482.2 140.7h0M487.3 117.9h0M476.3 140.4h0M488.9 140.6h0M390.9 135.3h0M454.1 138.0h0M399.3 140.6h0M405.0 125.3h0M325.5 136.5h0M474.0 139.9h0M415.5 137.1h0M401.1 136.8h0M424.2 135.7h0M424.4 141.8h0M493.9 142.5h0M377.7 138.1h0M356.9 119.6h0M391.7 142.3h0M447.4 140.0h0M354.5 140.8h0M349.6 131.7h0M462.7 136.5h0M331.9 136.0h0M490.2 145.9h0M420.4 135.4h0M487.2 141.5h0M430.7 134.9h0M317.9 121.1h0M447.6 135.4h0M463.9 123.9h0M499.4 133.9h0M476.6 129.2h0M441.8 137.5h0M341.6 141.8h0M456.9 142.3h0M443.3 140.4h0M329.1 134.4h0M479.4 142.2h0M367.4 135.5h0M489.3 138.6h0M329.3 138.4h0M328.5 136.6h0M468.2 139.4h0M407.3 137.7h0M473.6 136.7h0M341.1 141.2h0M341.9 141.5h0M490.7 135.9h0M364.1 135.2h0M442.0 141.0h0M473.9 138.8h0M347.9 139.6h0M348.2 143.6h0M437.2 144.8h0M467.2 136.2h0M463.8 125.2h0M412.8 135.5h0M443.9 135.9h0M424.8 140.0h0M411.0 144.0h0M329.2 51.9h0M337.5 142.9h0M340.4 139.7h0M437.5 129.2h0M490.4 145.6h0M386.1 138.3h0M426.6 141.9h0M397.0 141.1h0M470.6 124.0h0M328.4 132.6h0M369.4 142.1h0M380.0 135.0h0M378.5 133.3h0M330.3 137.6h0M393.4 127.2h0M325.5 132.5h0M492.3 143.5h0M395.7 134.2h0M405.5 135.0h0M353.6 136.3h0M380.8 141.9h0M343.1 133.1h0M427.4 141.8h0M496.6 125.3h0M321.7 126.5h0M391.3 146.0h0M452.3 146.0h0M465.4 138.5h0M428.7 133.4h0M335.3 131.4h0M456.3 142.8h0M491.6 140.8h0M376.0 131.4h0M381.1 143.9h0M358.3 140.2h0M471.0 135.1h0M458.3 134.3h0M343.2 131.8h0M440.0 139.5h0M328.1 105.0h0M361.3 126.5h0M379.0 139.1h0M458.7 133.9h0M404.6 137.0h0M445.3 134.4h0M386.2 133.7h0M438.2 139.8h0M352.6 139.6h0M403.6 136.8h0M361.6 138.4h0M405.6 139.3h0M343.8 137.6h0M347.9 137.0h0M393.4 139.0h0M364.6 139.1h0M390.7 142.7h0M423.0 126.5h0M350.2 138.5h0M318.7 135.7h0M354.9 139.1h0M330.7 136.5h0M483.1 143.1h0M410.1 141.0h0M379.1 131.8h0M372.8 143.1h0M472.8 137.7h0M447.2 140.6h0M341.5 139.0h0M431.5 135.9h0M355.3 136.4h0M493.6 139.6h0M382.8 74.6h0M424.7 141.4h0M340.7 135.9h0M361.6 138.9h0M343.7 142.7h0M370.4 139.9h0M444.1 143.6h0M406.5 142.1h0M387.5 134.2h0M422.1 137.4h0M347.0 141.9h0M434.1 137.9h0M318.6 136.1h0M400.6 129.7h0M358.7 137.3h0M497.9 137.3h0M467.3 141.4h0M385.1 136.1h0M349.4 140.0h0M448.7 131.8h0M356.4 130.5h0M323.8 125.2h0M465.7 139.5h0M468.2 144.7h0M451.1 136.5h0M359.6 129.3h0M365.0 140.0h0M477.3 135.6h0M339.0 140.1h0M439.3 135.7h0M414.1 142.1h0M419.6 142.6h0M399.7 137.5h0M328.9 136.6h0M415.4 140.8h0M426.7 131.6h0M361.3 129.0h0M327.5 143.8h0M328.7 136.2h0"/>
<path d="M338.6 139.3h0M489.1 142.8h0M384.3 140.9h0M480.8 132.9h0M378.0 137.5h0M311.8 119.2h0M392.1 137.7h0M460.5 133.5h0M492.8 146.6h0M360.1 140.4h0M490.0 142.9h0M447.4 143.6h0M398.5 136.2h0M337.5 142.9h0M437.7 136.9h0M405.2 137.0h0M480.9 134.7h0M362.1 137.1h0M488.4 141.7h0M387.1 138.8h0M338.7 124.8h0M424.3 141.1h0M449.3 119.5h0M498.2 136.3h0M458.6 137.1h0M485.7 143.6h0M454.7 127.8h0M372.2 139.3h0M439.7 135.0h0M442.0 137.7h0M423.6 133.0h0M467.7 139.6h0M393.2 137.2h0M393.1 142.8h0M358.3 132.8h0M331.0 140.5h0M369.4 140.5h0M430.7 142.2h0M473.9 138.4h0M473.5 136.8h0M456.0 142.6h0M340.4 135.2h0M348.1 108.3h0M494.3 104.5h0M422.1 139.3h0M330.4 138.5h0M466.7 142.3h0M428.4 134.2h0M462.7 138.2h0M442.5 136.4h0M370.2 133.4h0M436.3 141.1h0M332.2 138.0h0M341.0 138.1h0M377.3 137.9h0M468.6 136.7h0M362.1 129.1h0M458.7 139.6h0M395.2 136.5h0M484.2 130.4h0M464.5 137.8h0M486.2 139.1h0M419.8 138.0h0M390.8 141.4h0M397.2 131.8h0M413.2 125.6h0M391.4 139.6h0M462.0 96.9h0M497.2 134.2h0M394.5 135.6h0M473.3 134.5h0M385.8 141.5h0M462.4 136.1h0M347.8 142.9h0M354.1 138.5h0M403.6 139.2h0M415.7 140.7h0M437.1 142.9h0M492.9 142.4h0M348.1 138.0h0M481.1 139.9h0M419.0 131.6h0M434.0 136.0h0M324.1 142.2h0M479.5 139.9h0M458.4 142.2h0M368.0 136.0h0M362.8 137.8h0M433.1 139.6h0M495.2 128.2h0M332.9 140.0h0M408.8 142.3h0M472.7 135.2h0M450.1 138.6h0M403.9 117.8h0M345.0 144.1h0M447.9 133.8h0M423.5 138.8h0M482.4 134.4h0M410.7 133.9h0M406.2 139.6h0M476.6 136.7h0M453.2 137.0h0M331.5 135.0h0M456.1 140.9h0M445.6 144.3h0M420.6 142.6h0M360.4 141.0h0M343.4 141.5h0M348.8 132.4h0M358.4 143.3h0M378.9 142.1h0M458.3 136.7h0M387.4 140.8h0M494.3 133.5h0M351.8 136.5h0M446.8 140.1h0M495.2 139.1h0M392.4 135.4h0M372.3 129.9h0M393.8 133.7h0M464.8 133.4h0M334.4 134.0h0M465.7 138.2h0M376.1 140.2h0M326.4 137.3h0M403.9 135.4h0M338.4 137.0h0M362.7 135.4h0M367.4 127.5h0M433.7 131.3h0M335.7 135.9h0M426.4 144.9h0M355.9 142.7h0M330.2 143.5h0M439.9 136.6h0M364.2 138.1h0M400.8 133.5h0M357.3 138.2h0M470.8 143.0h0M494.3 136.8h0M455.5 143.1h0M366.8 138.3h0M438.9 139.4h0M470.2 134.1h0M332.3 140.0h0M414.4 143.2h0M328.0 141.9h0M450.0 139.9h0M342.0 140.1h0M438.7 139.3h0M365.5 132.8h0M425.9 135.4h0M356.8 138.4h0M472.1 137.5h0M341.2 141.0h0M407.4 140.7h0M363.3 119.7h0M464.6 135.1h0M327.6 136.9h0M453.6 133.4h0M493.7 136.1h0M392.1 131.2h0M330.1 141.4h0M352.9 140.9h0M420.8 138.0h0M479.1 123.6h0M451.6 139.6h0M373.9 143.1h0M387.8 138.0h0M342.9 131.3h0M428.1 120.3h0M487.7 142.0h0M349.1 125.5h0M332.0 135.3h0M494.8 143.5h0M364.0 137.0h0M406.1 137.1h0M330.5 139.3h0M341.0 141.6h0M336.2 141.9h0M391.0 139.1h0M394.6 139.7h0M333.1 130.8h0M429.9 133.7h0M468.2 144.8h0M361.4 138.9h0M377.0 128.6h0M474.3 135.4h0M393.9 128.5h0M465.1 135.3h0M332.8 136.0h0M450.0 138.1h0M353.6 137.5h0M380.1 136.2h0M375.0 137.2h0M482.8 124.1h0M469.3 139.4h0M426.4 136.5h0M403.7 137.7h0M436.7 135.1h0M340.6 140.6h0M424.1 145.8h0M318.6 125.1h0M315.9 128.9h0M461.5 146.8h0M402.9 131.3h0M357.2 139.7h0M432.3 139.9h0M474.3 139.1h0M382.2 144.4h0M419.1 125.2h0M454.2 137.0h0"/>
<path d="M469.7 138.6h0M333.9 126.9h0M327.6 134.5h0M331.6 137.7h0M355.0 132.7h0M380.9 139.1h0M461.1 142.7h0M351.9 138.4h0M421.3 137.7h0M374.4 143.3h0M426.2 134.0h0M364.3 139.7h0M449.0 127.5h0M407.9 139.3h0M495.1 141.0h0M349.4 129.1h0M476.4 121.7h0M432.2 143.6h0M478.8 137.7h0M353.3 135.4h0M450.4 120.2h0M437.5 133.9h0M445.0 133.6h0M415.2 146.6h0M363.2 138.0h0M482.1 142.3h0M498.9 132.7h0M339.4 141.1h0M361.9 139.5h0M402.0 116.0h0M475.4 135.7h0M467.1 139.7h0M492.5 137.0h0M443.8 139.4h0M448.5 142.2h0M349.7 142.8h0M441.6 140.0h0M369.8 138.0h0M346.4 141.3h0M481.6 124.3h0M497.9 125.5h0M488.6 135.9h0M405.2 138.6h0M341.9 138.5h0M412.4 132.6h0M400.4 141.2h0M387.1 128.7h0M416.9 142.6h0M446.1 141.8h0M484.0 128.9h0M417.5 138.7h0M451.0 134.7h0M495.2 146.7h0M432.9 135.5h0M370.6 136.8h0M405.4 141.2h0M464.6 136.7h0M434.2 140.8h0M497.0 142.7h0M497.3 136.3h0M454.9 137.5h0M495.3 136.1h0M444.4 141.3h0M395.5 139.2h0M440.4 143.6h0M419.6 130.2h0M472.5 135.5h0M410.4 137.9h0M432.7 141.7h0M363.7 136.3h0M341.7 138.0h0M355.8 142.0h0M450.8 137.0h0M382.3 132.7h0M391.0 109.6h0M475.6 134.9h0M347.4 134.4h0M339.3 131.0h0M343.6 138.5h0M350.5 135.4h0M454.6 135.8h0M408.1 139.4h0M472.6 138.4h0M428.9 117.6h0M348.7 129.8h0M407.0 139.2h0M382.9 139.4h0M381.6 143.7h0M370.1 126.5h0M355.7 133.8h0M455.6 137.0h0M440.5 142.7h0M350.6 136.2h0M435.3 139.1h0M330.4 127.4h0M436.8 140.2h0M409.5 118.4h0M495.7 128.2h0M436.6 137.5h0M424.6 146.1h0M449.9 139.4h0M359.4 139.5h0M377.7 141.4h0M444.7 133.3h0M495.8 113.0h0M458.7 138.8h0M476.4 138.4h0M350.4 116.7h0M463.3 131.7h0M479.2 142.3h0M464.1 144.5h0M366.4 135.7h0M330.2 137.7h0M485.2 143.2h0M482.4 142.6h0M457.7 139.3h0M485.9 138.8h0M395.5 142.0h0M423.7 139.2h0M432.0 135.0h0M477.3 133.8h0M407.1 135.2h0M436.6 141.1h0M481.7 141.6h0M469.5 137.3h0M361.5 124.8h0M394.7 144.2h0M372.5 138.8h0M440.2 140.5h0M365.5 138.7h0M439.4 134.3h0M407.2 141.6h0M394.2 139.9h0M413.1 141.0h0M456.9 140.1h0M482.8 143.1h0M344.8 136.2h0M323.4 133.6h0M332.6 142.4h0M481.9 137.9h0M344.3 137.1h0M447.7 136.7h0M351.8 134.0h0M387.3 128.2h0M387.0 138.2h0M475.4 138.6h0M423.7 141.2h0M432.0 142.3h0M463.3 131.8h0M348.2 137.3h0M461.5 135.2h0M494.6 140.7h0M383.7 142.0h0M323.9 134.9h0M406.2 144.3h0M328.8 137.5h0M363.5 143.0h0M450.5 136.9h0M473.1 135.3h0M497.5 135.8h0M458.8 138.2h0M438.0 143.2h0M433.2 133.9h0M435.2 136.1h0M385.5 144.1h0M413.4 136.9h0M343.4 137.9h0M469.0 134.0h0M403.0 142.4h0M464.6 136.4h0M428.0 130.5h0M440.3 131.4h0M437.2 119.5h0M480.3 141.8h0M438.4 139.9h0M399.3 137.9h0M314.9 119.7h0M336.4 138.6h0M358.1 138.0h0M417.1 135.0h0M368.4 110.8h0M390.9 140.7h0M475.2 133.1h0M423.1 133.5h0M472.7 139.9h0M435.4 137.1h0M375.1 135.3h0M446.9 131.0h0M348.5 136.0h0M491.4 142.7h0M432.5 128.0h0M316.1 135.8h0M382.5 136.6h0M478.4 144.2h0M398.9 137.9h0M433.1 132.3h0M403.4 143.6h0M443.7 140.6h0M331.2 143.0h0M455.5 134.7h0M368.8 138.8h0M404.8 132.2h0M427.7 139.3h0M341.6 138.3h0M380.2 145.2h0M377.4 140.0h0M463.7 142.1h0M458.3 142.4h0M441.7 136.9h0M387.3 146.1h0M454.5 144.0h0M389.7 137.5h0M441.3 140.8h0"/>
<path d="M498.3 141.9h0M438.4 144.6h0M475.1 139.3h0M437.1 132.4h0M360.9 144.1h0M439.0 133.5h0M367.5 132.8h0M475.9 139.2h0M448.5 131.0h0M391.3 137.6h0M356.7 134.2h0M401.3 141.2h0M405.9 137.7h0M375.9 138.3h0M398.7 140.8h0M453.5 139.8h0M475.8 138.9h0M334.4 135.6h0M391.0 140.1h0M374.6 132.2h0M485.3 135.1h0M372.9 136.7h0M403.1 143.9h0M431.7 138.1h0M465.3 145.6h0M494.2 129.8h0M442.6 139.5h0M450.7 138.7h0M452.0 144.7h0M346.3 135.9h0M420.0 133.7h0M470.7 131.3h0M403.1 114.8h0M372.2 141.4h0M478.4 139.3h0M396.2 145.2h0M374.9 139.0h0M407.3 136.7h0M373.4 141.4h0M409.0 139.9h0M389.6 144.2h0M364.9 142.5h0M383.8 139.4h0M421.0 141.2h0M465.6 133.2h0M453.8 125.8h0M482.8 134.2h0M477.6 121.3h0M319.4 135.0h0M458.8 135.5h0M356.2 138.3h0M390.9 142.3h0M354.5 138.3h0M488.9 136.9h0M409.6 139.7h0M488.9 141.0h0M393.5 133.8h0M468.0 142.3h0M337.4 137.6h0M490.0 130.5h0M436.4 139.0h0M365.0 138.6h0M369.8 132.7h0M392.5 142.0h0M403.5 137.2h0M373.4 134.4h0M417.0 136.0h0M360.1 128.1h0M342.2 131.8h0M388.6 133.6h0M398.6 136.5h0M356.3 132.0h0M435.6 144.2h0M400.3 126.4h0M396.6 146.3h0M407.7 128.3h0M396.0 143.0h0M433.4 144.2h0M374.0 139.3h0M348.0 140.3h0M373.4 140.5h0M372.6 136.6h0M413.2 138.3h0M378.1 136.2h0M437.2 142.9h0M340.6 140.0h0M394.0 132.6h0M333.6 133.6h0M379.9 141.2h0M379.2 143.5h0M453.9 142.3h0M319.6 135.5h0M314.3 128.7h0M362.8 129.9h0M324.2 139.6h0M338.6 146.1h0M330.0 136.8h0M326.1 135.5h0M363.1 137.9h0M499.5 139.8h0M348.2 139.5h0M457.8 124.0h0M365.1 140.4h0M499.4 139.2h0M332.4 144.5h0M444.6 136.9h0M353.1 138.1h0M444.4 133.6h0M365.8 128.3h0M490.7 127.7h0M488.0 137.6h0M427.3 139.7h0M426.8 138.6h0M445.0 102.4h0M326.2 143.1h0M438.5 143.5h0M428.9 140.1h0M448.1 142.9h0M369.3 140.9h0M356.6 140.6h0M390.2 144.6h0M459.9 134.8h0M395.4 129.8h0M461.2 141.3h0M464.8 130.1h0M481.4 132.7h0M482.7 142.0h0M416.7 135.2h0M421.7 145.1h0M363.7 141.5h0M441.8 145.4h0M454.3 136.0h0M387.8 139.1h0M388.5 136.3h0M389.9 138.5h0M400.9 136.3h0M346.0 140.8h0M414.1 136.8h0M475.4 126.9h0M358.4 142.1h0M333.2 135.6h0M376.9 143.3h0M476.3 141.3h0M445.0 137.5h0M392.7 138.2h0M438.5 134.4h0M475.4 143.4h0M482.3 129.2h0M430.0 132.0h0M482.3 142.0h0M444.5 138.9h0M492.9 138.2h0M389.3 137.1h0M346.1 145.5h0M495.4 142.5h0M318.8 127.6h0M313.5 127.6h0M343.4 130.1h0M414.5 138.4h0M400.8 138.4h0M430.5 140.5h0M326.3 139.1h0M496.8 143.5h0M409.3 141.4h0M434.8 127.9h0M413.8 137.7h0M379.0 107.6h0M489.6 131.3h0M333.7 135.1h0M468.3 135.7h0M444.1 132.4h0M354.7 125.5h0M448.7 138.1h0M460.6 140.4h0M445.9 112.0h0M469.9 141.4h0M354.1 138.7h0M319.2 130.1h0M475.6 138.4h0M454.7 145.8h0M426.7 138.7h0M346.8 143.1h0M385.3 140.1h0M498.2 134.3h0M368.5 138.9h0M335.8 135.8h0M455.5 140.1h0M470.1 133.5h0M336.2 139.6h0M413.9 87.3h0M426.3 134.2h0M413.3 140.7h0M415.8 135.1h0M441.1 137.8h0M433.6 135.7h0M483.5 87.3h0M357.5 143.6h0M404.5 130.8h0M440.4 142.1h0M468.2 138.8h0M334.7 138.1h0M395.0 134.6h0M397.1 134.2h0M398.9 141.4h0M467.1 136.2h0M344.4 144.1h0M324.3 140.2h0M450.3 140.9h0M326.0 134.1h0M452.8 134.4h0M373.5 135.3h0M398.9 143.1h0M369.3 130.4h0"/>
<path d="M487.4 124.6h0M401.8 136.9h0M408.2 134.5h0M318.6 130.1h0M323.4 140.2h0M487.1 138.3h0M426.2 127.3h0M352.3 141.7h0M345.6 141.3h0M475.3 132.3h0M360.7 140.0h0M446.5 144.5h0M358.3 123.5h0M398.9 141.2h0M416.3 135.4h0M409.3 139.6h0M419.9 137.4h0M467.3 142.6h0M317.5 140.0h0M477.3 143.6h0M399.2 137.6h0M454.0 137.8h0M431.9 135.6h0M403.2 137.0h0M496.2 137.4h0M319.8 135.6h0M325.8 141.7h0M405.5 144.3h0M475.6 135.9h0M496.1 88.5h0M344.3 142.6h0M427.5 137.5h0M364.3 125.2h0M359.5 135.3h0M428.5 140.9h0M442.2 138.9h0M377.6 142.3h0M325.6 137.8h0M371.4 132.3h0M472.9 140.5h0M380.0 123.3h0M399.4 139.2h0M366.9 130.9h0M402.0 143.6h0M495.4 132.8h0M398.7 137.5h0M372.5 139.1h0M384.6 142.2h0M357.7 137.8h0M355.8 139.6h0M316.2 128.7h0M410.1 133.4h0M471.8 139.4h0M322.1 137.1h0M437.9 129.9h0M425.7 120.9h0M356.0 136.1h0M416.8 138.6h0M442.2 133.1h0M359.8 123.6h0M342.2 140.4h0M466.5 136.9h0M385.2 134.3h0M380.0 127.4h0M385.5 123.0h0M359.5 138.5h0M388.2 133.6h0M435.8 135.3h0M453.1 136.6h0M473.8 138.7h0M361.0 144.1h0M497.9 138.2h0M428.6 140.6h0M343.3 143.4h0M404.8 119.3h0M456.3 144.2h0M427.3 141.6h0M340.5 131.6h0M458.5 144.4h0M481.5 140.2h0M446.9 140.2h0M373.0 130.8h0M391.7 138.2h0M340.6 139.2h0M373.9 140.6h0M420.3 131.4h0M450.2 136.2h0M342.7 140.0h0M416.1 120.9h0M445.5 130.4h0M436.9 139.1h0M463.3 141.1h0M421.6 139.6h0M448.9 137.6h0M436.9 136.7h0M307.1 51.4h0M476.2 133.2h0M312.2 135.5h0M352.3 134.4h0M330.1 140.1h0M319.4 134.5h0M374.8 136.3h0M374.0 128.6h0M377.2 135.1h0M363.7 133.2h0M436.5 130.8h0M405.7 132.9h0M334.4 138.8h0M410.1 133.2h0M436.9 132.1h0M470.5 134.7h0M409.6 142.6h0M370.4 128.5h0M344.9 128.9h0M430.6 138.2h0M363.7 139.6h0M473.2 141.3h0M399.5 138.6h0M394.3 137.3h0M339.5 142.6h0M467.3 144.1h0M366.3 135.1h0M330.3 122.4h0M478.2 141.0h0M355.9 137.7h0M363.4 144.0h0M473.8 141.5h0M327.2 140.0h0M422.0 141.0h0M389.8 137.2h0M498.8 140.2h0M465.2 130.7h0M391.8 142.8h0M460.1 144.8h0M461.8 138.6h0M332.1 141.3h0M419.6 141.6h0M404.1 141.3h0M491.5 131.2h0M392.4 127.4h0M388.8 111.5h0M483.3 138.2h0M432.2 146.7h0M398.6 135.0h0M472.9 139.2h0M409.1 138.0h0M376.1 134.9h0M421.0 140.1h0M453.3 137.8h0M433.1 129.2h0M443.9 128.4h0M430.0 134.2h0M432.6 141.5h0M481.7 141.3h0M487.5 133.7h0M443.3 139.5h0M316.4 133.2h0M399.0 135.8h0M407.7 135.2h0M385.8 134.8h0M495.6 138.6h0M411.4 141.1h0M395.8 140.1h0M411.6 138.5h0M328.9 142.3h0M314.6 128.1h0M386.5 137.6h0M313.1 127.0h0M335.6 136.0h0M382.1 125.4h0M348.2 130.8h0M426.4 139.1h0M395.4 143.5h0M478.9 132.9h0M470.0 139.4h0M382.2 135.7h0M376.0 138.7h0M364.7 137.5h0M321.7 133.2h0M362.3 145.1h0M428.5 127.9h0M485.8 134.5h0M496.9 130.3h0M474.5 139.3h0M493.0 139.1h0M407.2 138.8h0M333.1 138.0h0M428.6 146.0h0M498.0 136.4h0M355.0 71.1h0M321.9 137.5h0M423.0 130.9h0M400.3 145.8h0M405.0 144.3h0M320.5 141.8h0M408.4 138.2h0M492.1 143.1h0M349.2 135.3h0M407.8 141.5h0M425.8 133.6h0M333.7 139.1h0M360.9 132.4h0M323.3 143.4h0M412.0 134.6h0M444.0 132.7h0M327.0 138.1h0M483.5 84.2h0M489.8 141.2h0M405.4 138.4h0M383.6 140.8h0M349.1 131.8h0M479.7 142.6h0"/>
<path d="M457.2 142.7h0M426.4 135.8h0M467.7 142.6h0M488.2 131.8h0M424.1 139.4h0M429.1 93.8h0M418.1 137.1h0M409.5 145.4h0M378.9 135.8h0M472.6 140.6h0M486.5 138.1h0M439.6 131.7h0M347.9 131.1h0M496.1 137.2h0M404.6 140.5h0M321.0 136.6h0M498.5 138.6h0M497.5 141.2h0M478.6 123.4h0M398.0 143.1h0M432.9 137.6h0M455.4 124.4h0M327.0 140.0h0M373.3 139.5h0M383.5 135.1h0M341.4 144.8h0M323.0 137.9h0M350.6 142.1h0M316.9 135.4h0M417.2 142.4h0M340.6 144.5h0M458.3 135.2h0M491.1 140.1h0M402.0 138.2h0M340.6 138.0h0M355.9 137.2h0M359.9 140.1h0M439.6 145.0h0M343.3 140.1h0M336.7 26.6h0M314.5 119.2h0M493.1 124.4h0M356.9 130.8h0M318.8 129.0h0M452.2 142.2h0M402.0 133.6h0M482.2 93.8h0M365.0 134.9h0M331.5 136.8h0M492.3 135.8h0M389.2 136.7h0M418.8 139.3h0M366.3 93.1h0M455.7 137.3h0M486.6 144.8h0M342.3 139.5h0M449.5 131.2h0M433.5 117.1h0M447.2 137.6h0M400.0 137.4h0M388.6 141.0h0M355.8 144.0h0M352.1 136.3h0M449.9 137.4h0M369.7 129.8h0M383.3 138.1h0M374.0 143.1h0M444.8 144.9h0M355.1 134.8h0M385.1 121.0h0M447.9 143.0h0M336.5 140.0h0M437.9 96.9h0M477.7 141.1h0M472.1 142.3h0M364.0 139.6h0M324.8 136.8h0M380.4 143.2h0M467.4 135.4h0M432.2 141.5h0M444.7 131.3h0M434.5 141.7h0M476.5 144.0h0M479.7 140.2h0M417.1 144.6h0M343.4 139.5h0M433.8 134.7h0M422.0 122.6h0M434.5 141.9h0M371.0 141.7h0M471.1 133.8h0M468.4 138.1h0M396.5 139.4h0M404.7 122.2h0M450.1 135.8h0M412.4 139.0h0M464.7 139.0h0M383.2 134.7h0M498.1 137.9h0M485.4 139.4h0M412.6 142.5h0M437.9 118.5h0M386.7 140.9h0M322.0 140.7h0M474.8 137.6h0M456.9 125.2h0M319.8 132.9h0M406.5 135.8h0M444.7 129.4h0M411.4 129.6h0M400.2 135.6h0M378.0 127.0h0M338.6 141.9h0M410.6 140.4h0M370.2 141.0h0M391.6 134.2h0M329.6 134.2h0M421.9 143.1h0M455.6 141.1h0M446.0 139.1h0M438.5 139.0h0M364.2 141.5h0M383.9 145.0h0M435.3 139.0h0M370.7 136.0h0M457.7 145.1h0M395.3 136.1h0M369.9 136.8h0M409.6 133.2h0M481.0 120.6h0M347.2 135.4h0M357.9 144.4h0M411.5 136.8h0M468.7 140.7h0M425.2 138.5h0M381.6 134.9h0M396.0 138.6h0M452.5 136.9h0M362.6 136.6h0M480.4 120.4h0M471.9 143.6h0M487.1 133.5h0M326.7 135.0h0M434.5 135.1h0M426.3 128.8h0M381.1 140.9h0M347.0 133.1h0M435.7 120.3h0M329.4 133.2h0M442.3 132.5h0M381.3 130.8h0M456.7 134.1h0M461.0 138.6h0M447.0 136.4h0M402.9 139.7h0M355.3 138.1h0M344.0 141.0h0M319.8 138.2h0M497.4 134.8h0M449.5 140.2h0M462.7 80.9h0M350.4 141.5h0M478.3 144.9h0M376.2 138.2h0M410.9 142.7h0M373.4 140.3h0M436.9 135.5h0M378.6 128.9h0M371.6 131.0h0M436.0 144.1h0M349.0 135.5h0M385.0 132.1h0M454.3 140.5h0M424.1 144.8h0M359.5 137.3h0M470.5 138.9h0M442.7 132.9h0M469.4 120.7h0M380.7 141.5h0M473.1 145.3h0M472.7 140.2h0M387.2 138.7h0M403.5 135.0h0M462.7 140.9h0M446.0 140.0h0M354.2 139.9h0M451.8 136.3h0M341.7 136.5h0M460.7 134.9h0M458.7 88.3h0M391.2 124.4h0M461.7 119.4h0M477.5 137.1h0M419.5 135.9h0M413.3 140.3h0M453.9 118.4h0M339.6 143.5h0M369.3 129.4h0M410.6 142.9h0M350.4 141.2h0M381.3 138.9h0M344.8 134.6h0M329.5 134.0h0M353.4 138.5h0M409.8 132.4h0M426.4 135.9h0M315.5 122.4h0M474.9 138.5h0M490.9 110.9h0M363.7 142.0h0M341.3 140.2h0M478.9 140.3h0"/>
<path d="M474.0 120.0h0M478.0 138.1h0M377.9 116.6h0M331.3 139.1h0M328.9 133.7h0M401.7 139.7h0M447.4 141.2h0M340.7 136.3h0M411.1 140.0h0M353.5 135.0h0M323.3 51.4h0M331.1 141.7h0M490.1 139.1h0M392.5 138.3h0M372.9 139.1h0M400.2 128.1h0M353.0 143.2h0M440.5 116.2h0M434.5 140.1h0M418.3 132.9h0M381.9 120.4h0M346.7 138.8h0M326.3 122.6h0M437.8 137.7h0M474.5 134.0h0M457.5 122.5h0M473.1 133.1h0M436.6 137.9h0M368.3 130.7h0M352.0 140.0h0M470.3 138.9h0M331.1 142.5h0M437.8 139.7h0M434.4 131.2h0M381.9 137.6h0M482.5 137.0h0M492.2 115.6h0M393.8 140.4h0M402.9 138.9h0M486.0 146.6h0M352.1 138.1h0M343.6 131.7h0M352.0 128.4h0M347.0 131.1h0M439.6 138.9h0M452.0 134.0h0M330.3 135.5h0M398.3 131.9h0M457.9 134.4h0M392.9 137.2h0M393.2 139.6h0M347.6 138.0h0M369.0 146.2h0M394.8 136.9h0M477.2 134.7h0M440.9 143.3h0M361.1 137.8h0M460.8 143.8h0M400.2 139.2h0M381.6 131.0h0M426.5 138.7h0M331.9 134.8h0M329.5 139.3h0M410.8 137.4h0M368.6 139.4h0M374.5 135.8h0M454.1 140.2h0M400.5 135.8h0M352.2 135.0h0M328.2 140.0h0M477.4 142.3h0M375.0 138.5h0M344.2 127.3h0M357.0 135.3h0M349.5 139.7h0M441.3 121.1h0M330.7 129.5h0M428.4 130.8h0M400.1 137.9h0M351.5 139.0h0M417.9 132.7h0M409.4 135.8h0M422.6 131.4h0M420.6 133.9h0M328.8 137.1h0M456.1 138.4h0M488.8 139.1h0M440.5 134.4h0M326.7 138.5h0M469.1 136.8h0M469.3 103.8h0M494.8 135.2h0M346.1 140.2h0M355.4 137.3h0M497.3 133.3h0M412.4 138.9h0M385.1 135.4h0M362.8 140.8h0M381.6 142.9h0M363.1 128.1h0M498.8 139.7h0M379.7 140.1h0M426.0 137.2h0M422.8 130.2h0M347.1 129.8h0M397.3 141.5h0M365.0 139.9h0M391.0 145.6h0M397.9 135.2h0M370.5 131.1h0M482.6 136.2h0M408.8 142.0h0M395.6 139.4h0M413.5 132.4h0M443.1 137.3h0M333.3 134.9h0M351.1 140.7h0M499.2 136.2h0M413.7 141.0h0M364.6 119.7h0M445.9 134.4h0M421.3 140.7h0M319.2 136.7h0M408.9 139.0h0M423.3 144.6h0M473.3 140.3h0M322.0 135.8h0M461.9 134.2h0M318.4 140.3h0M386.1 129.2h0M492.5 133.0h0M341.3 136.1h0M340.3 141.6h0M428.4 145.0h0M368.6 142.8h0M497.4 137.1h0M453.4 138.9h0M356.6 135.9h0M340.2 141.2h0M383.7 138.5h0M451.6 126.1h0M364.7 108.5h0M404.6 141.0h0M441.4 137.9h0M374.5 138.7h0M466.6 140.8h0M393.2 132.5h0M456.2 138.6h0M484.0 133.7h0M364.5 136.7h0M342.2 140.7h0M469.3 141.4h0M457.1 137.9h0M498.4 132.6h0M481.4 126.3h0M403.5 127.9h0M402.8 135.9h0M319.2 135.4h0M493.9 140.9h0M378.8 129.7h0M441.2 132.9h0M488.6 135.2h0M446.5 134.1h0M397.6 142.4h0M335.2 144.6h0M381.9 131.2h0M385.9 135.1h0M337.8 140.7h0M487.1 137.8h0M468.5 142.5h0M439.8 144.8h0M471.0 121.9h0M373.4 133.1h0M400.7 138.4h0M352.5 122.7h0M382.4 143.3h0M363.2 140.2h0M416.0 138.2h0M414.6 141.2h0M481.1 119.0h0M428.5 138.2h0M493.0 137.3h0M377.9 132.1h0M452.2 127.2h0M446.1 142.4h0M388.4 135.0h0M385.2 141.6h0M348.2 142.0h0M401.4 130.0h0M378.1 139.3h0M393.2 132.3h0M422.1 132.1h0M350.7 139.5h0M456.0 126.7h0M427.5 131.5h0M456.2 139.9h0M336.9 136.9h0M403.5 118.4h0M326.6 140.3h0M488.5 133.4h0M314.3 121.4h0M340.7 139.5h0M454.2 133.7h0M374.6 135.0h0M391.5 136.8h0M375.9 138.1h0M379.1 138.9h0M318.1 135.8h0M469.3 137.3h0M488.5 114.1h0M391.6 139.3h0M468.8 140.4h0"/>
<path d="M318.5 138.0h0M469.8 132.0h0M484.0 145.1h0M478.8 138.6h0M363.1 120.5h0M375.0 135.0h0M481.7 137.8h0M460.8 120.4h0M402.6 140.4h0M345.2 135.4h0M467.3 129.2h0M414.7 134.9h0M397.4 132.3h0M378.0 136.8h0M380.9 142.9h0M365.9 137.5h0M409.3 137.4h0M421.7 138.4h0M453.0 138.3h0M405.1 122.9h0M453.3 136.0h0M459.2 134.4h0M474.0 138.5h0M313.0 101.7h0M438.3 137.5h0M482.6 134.7h0M351.6 135.5h0M371.9 136.8h0M364.9 136.0h0M482.1 140.4h0M335.2 133.3h0M351.8 127.4h0M362.9 138.9h0M494.3 139.3h0M333.4 134.3h0M321.4 130.5h0M495.4 135.9h0M412.4 127.4h0M325.1 138.8h0M334.0 136.7h0M390.8 137.2h0M479.7 135.1h0M356.3 137.5h0M355.6 134.4h0M379.2 136.2h0M454.0 141.1h0M385.5 135.7h0M446.9 140.3h0M373.1 140.7h0M465.6 137.2h0M336.3 133.1h0M465.8 111.5h0M422.5 134.6h0M388.9 133.7h0M478.3 132.5h0M368.8 140.7h0M388.7 140.2h0M334.2 142.6h0M456.5 136.8h0M366.8 141.0h0M458.1 139.0h0M350.5 140.6h0M458.2 138.3h0M390.7 143.9h0M368.9 135.7h0M378.3 131.6h0M435.1 131.6h0M435.3 140.4h0M493.5 131.7h0M335.0 125.3h0M380.3 139.5h0M466.0 137.9h0M410.2 126.5h0M480.9 142.1h0M475.8 141.8h0M401.8 139.1h0M457.6 129.5h0M465.8 137.8h0M352.4 141.6h0M376.0 144.2h0M378.0 138.1h0M490.5 143.2h0M331.2 134.1h0M429.7 127.8h0M378.5 138.9h0M472.7 137.5h0M325.7 141.1h0M326.2 138.2h0M326.2 126.9h0M415.2 141.4h0M355.1 135.9h0M408.5 133.1h0M342.6 138.3h0M436.6 138.1h0M486.8 144.9h0M330.2 133.4h0M379.5 135.7h0M459.1 139.0h0M446.6 135.3h0M423.7 141.9h0M426.0 137.2h0M484.0 139.0h0M448.3 144.3h0M492.6 142.8h0M446.5 116.8h0M437.6 132.2h0M404.2 138.4h0M396.9 138.2h0M481.0 121.8h0M417.6 138.3h0M311.4 52.6h0M349.0 137.6h0M406.8 136.3h0M499.7 140.5h0M351.0 134.0h0M422.5 139.1h0M374.2 142.8h0M408.2 138.1h0M369.5 122.3h0M390.4 139.7h0M452.0 137.7h0M415.2 102.4h0M382.7 132.9h0M483.2 130.8h0M472.7 130.7h0M352.1 134.9h0M443.2 141.4h0M494.9 134.2h0M344.9 141.1h0M484.8 131.8h0M422.4 140.1h0M474.6 139.6h0M449.7 142.0h0M420.8 126.0h0M480.9 135.1h0M331.4 128.9h0M399.4 135.1h0M458.1 135.4h0M492.7 134.3h0M395.5 136.4h0M365.7 141.2h0M496.3 127.1h0M404.4 130.7h0M373.0 135.5h0M483.4 135.7h0M439.4 141.8h0M404.0 135.6h0M482.2 134.8h0M429.2 133.9h0M448.3 134.9h0M447.2 142.0h0M394.1 142.0h0M454.7 141.7h0M406.0 139.8h0M406.2 140.1h0M383.9 126.0h0M471.4 143.2h0M381.8 134.0h0M459.2 137.7h0M346.0 134.3h0M442.1 133.2h0M443.7 127.2h0M340.4 142.4h0M315.1 119.2h0M431.0 139.8h0M353.6 132.9h0M479.4 139.2h0M462.8 124.9h0M389.6 133.8h0M414.4 132.1h0M375.0 139.9h0M339.3 137.4h0M498.0 133.2h0M408.9 128.4h0M433.4 144.4h0M336.2 145.3h0M498.3 139.3h0M384.6 137.0h0M497.6 142.0h0M387.1 145.0h0M443.9 141.8h0M362.4 142.8h0M345.1 53.9h0M477.1 138.3h0M433.6 142.0h0M355.4 138.3h0M361.3 140.4h0M454.2 138.7h0M345.6 145.1h0M313.1 135.9h0M321.2 133.0h0M362.3 134.0h0M372.5 130.1h0M405.6 130.2h0M411.0 135.5h0M493.6 138.8h0M420.6 139.1h0M404.1 133.0h0M357.7 143.1h0M341.2 134.3h0M371.6 135.6h0M370.2 143.3h0M473.8 141.3h0M374.8 130.4h0M370.7 139.1h0M427.3 99.9h0M434.4 142.5h0M369.7 107.1h0M356.0 144.5h0M482.3 143.0h0M368.2 140.3h0M497.4 137.0h0"/>
<path d="M475.9 136.7h0M316.1 135.6h0M344.1 138.2h0M359.2 137.5h0M403.3 141.4h0M406.2 138.1h0M337.5 136.2h0M400.6 133.4h0M392.9 136.8h0M366.9 142.9h0M348.7 136.8h0M453.3 138.5h0M400.9 137.5h0M470.3 142.1h0M397.2 140.5h0M452.1 137.8h0M333.7 139.4h0M473.3 108.3h0M448.5 127.2h0M333.4 139.5h0M493.6 140.8h0M338.3 137.5h0M417.1 137.0h0M385.4 137.8h0M421.2 132.4h0M380.1 138.8h0M320.5 139.0h0M417.5 142.2h0M433.2 133.8h0M363.7 141.5h0M351.4 139.3h0M454.6 137.5h0M395.4 135.1h0M451.3 130.4h0M445.6 139.1h0M408.4 138.0h0M321.2 137.5h0M412.3 135.4h0M440.8 140.7h0M440.5 138.9h0M347.3 131.9h0M403.0 135.2h0M421.6 131.9h0M344.9 137.3h0M337.3 136.7h0M393.6 138.7h0M400.8 141.3h0M328.4 139.0h0M397.9 137.6h0M350.0 136.6h0M414.0 140.8h0M431.8 143.7h0M441.0 136.2h0M438.6 128.2h0M404.8 135.0h0M362.7 131.8h0M441.4 136.1h0M321.8 139.1h0M448.7 136.5h0M430.2 137.8h0M442.7 136.7h0M382.8 142.1h0M355.0 132.4h0M415.3 138.8h0M344.7 143.3h0M347.0 141.7h0M408.5 140.5h0M455.6 136.6h0M434.7 137.4h0M370.5 138.3h0M371.9 134.5h0M456.0 135.7h0M411.5 140.3h0M389.6 137.9h0M412.2 137.3h0M375.0 138.2h0M333.3 139.3h0M444.8 138.6h0M409.0 126.3h0M472.7 130.7h0M373.5 139.4h0M313.9 131.1h0M464.9 139.7h0M368.8 126.0h0M460.6 133.5h0M448.7 144.3h0M499.2 140.1h0M362.8 130.1h0M404.4 119.0h0M371.6 139.5h0M434.8 134.8h0M326.4 128.9h0M460.5 138.4h0M394.2 145.0h0M433.9 138.2h0M376.5 94.9h0M459.8 138.9h0M434.9 143.3h0M351.5 123.6h0M429.1 137.4h0M384.4 135.8h0M468.6 133.4h0M481.2 140.5h0M414.7 136.9h0M445.8 142.1h0M399.6 136.6h0M358.1 138.9h0M385.8 127.8h0M487.2 136.4h0M455.9 144.5h0M442.1 119.7h0M436.4 137.5h0M458.6 138.5h0M337.3 120.1h0M442.0 134.6h0M478.4 136.8h0M362.5 144.5h0M438.9 137.5h0M360.2 143.5h0M453.2 141.4h0M480.5 117.1h0M330.9 145.0h0M318.5 93.1h0M340.9 137.2h0M372.2 136.3h0M495.4 140.9h0M413.5 133.3h0M444.0 135.5h0M495.8 140.1h0M323.3 143.6h0M383.4 140.8h0M316.6 135.8h0M387.0 138.1h0M389.5 139.3h0M470.9 122.3h0M479.4 141.2h0M486.1 142.1h0M341.9 133.5h0M415.2 139.8h0M459.7 140.2h0M364.1 143.8h0M320.4 132.0h0M348.6 130.9h0M453.8 127.6h0M398.7 92.3h0M346.8 135.4h0M399.2 134.6h0M363.5 134.2h0M384.4 142.3h0M375.5 146.0h0M341.9 137.0h0M430.2 139.2h0M316.6 139.3h0M402.5 136.0h0M356.8 133.7h0M336.3 134.0h0M320.0 131.1h0M434.7 141.2h0M351.3 138.3h0M431.4 130.7h0M365.9 139.2h0M442.5 113.3h0M453.3 141.1h0M485.8 141.9h0M443.2 137.7h0M431.4 140.0h0M466.8 131.0h0M347.2 140.2h0M371.4 133.1h0M409.2 144.3h0M406.3 125.8h0M318.4 125.9h0M477.1 137.5h0M404.9 136.5h0M472.8 102.0h0M364.4 135.4h0M328.2 141.7h0M391.9 139.9h0M417.9 134.6h0M376.3 131.4h0M401.5 134.7h0M373.5 134.9h0M487.5 141.9h0M468.0 137.5h0M414.6 140.0h0M484.3 143.5h0M485.0 140.4h0M385.4 143.3h0M453.5 136.1h0M471.6 140.0h0M454.6 134.5h0M446.2 142.3h0M459.8 143.4h0M469.1 143.9h0M417.1 134.9h0M486.3 118.3h0M384.9 138.3h0M485.8 136.2h0M446.9 138.3h0M485.0 130.0h0M493.8 129.6h0M339.7 143.3h0M370.7 139.6h0M397.5 144.2h0M413.2 134.7h0M332.0 142.4h0M327.6 136.2h0M491.9 144.8h0M384.9 141.9h0M356.5 108.3h0M478.0 136.0h0M448.0 135.7h0"/>
</g>
<polyline points="45.3,84.9 55.2,69.5 63.3,65.9 71.7,64.4 82.3,63.8 103.5,63.1 126.7,61.6 140.0,62.3 161.2,61.9 171.7,60.9 182.3,62.3 192.9,63.0 207.7,64.0 214.0,63.4 220.4,60.2 232.0,59.8" fill="none" stroke="#d8242f" stroke-width="1.45" stroke-linejoin="round" stroke-linecap="round"/>
<polyline points="304.7,72.0 310.0,100.0 314.6,122.3 323.1,130.0 330.8,127.7 335.4,128.5 341.5,131.5 346.2,133.1 353.8,133.1 361.5,131.5 369.2,130.8 380.0,130.8 390.0,132.3 413.0,133.5 436.0,134.2 459.0,133.5 466.0,132.3 473.0,133.5 480.0,134.6 488.0,133.5 497.3,132.3" fill="none" stroke="#d8242f" stroke-width="1.25" stroke-linejoin="round" stroke-linecap="round"/>
<polygon points="51.34,288.54 51.99,287.16 52.63,285.74 53.28,284.29 53.92,282.79 54.56,281.27 55.21,279.71 55.85,278.12 56.50,276.50 57.14,274.85 57.78,273.18 58.43,271.48 59.07,269.77 59.72,268.03 60.36,266.28 61.00,264.51 61.65,262.67 62.29,260.78 62.93,258.83 63.58,256.84 64.22,254.83 64.87,252.71 65.51,250.52 66.15,248.37 66.80,246.37 67.44,244.48 68.09,242.63 68.73,240.88 69.37,239.26 70.02,237.80 70.66,236.46 71.31,235.20 71.95,234.04 72.59,233.01 73.24,232.14 73.88,231.33 74.53,230.54 75.17,229.93 75.81,229.64 76.46,229.70 77.10,229.90 77.75,230.19 78.39,230.53 79.03,230.92 79.68,231.53 80.32,232.29 80.96,233.12 81.61,233.92 82.25,234.60 82.90,235.06 83.54,235.21 84.18,235.18 84.83,235.11 85.47,235.01 86.12,234.87 86.76,234.71 87.40,234.36 88.05,233.75 88.69,232.96 89.34,232.06 89.98,231.15 90.62,230.30 91.27,229.57 91.91,228.86 92.56,228.12 93.20,227.38 93.84,226.67 94.49,226.00 95.13,225.39 95.78,224.87 96.42,224.46 97.06,224.11 97.71,223.78 98.35,223.47 98.99,223.21 99.64,222.99 100.28,222.85 100.93,222.77 101.57,222.72 102.21,222.67 102.86,222.62 103.50,222.57 104.15,222.53 104.79,222.50 105.43,222.46 106.08,222.43 106.72,222.41 107.37,222.38 108.01,222.36 108.65,222.34 109.30,222.33 109.94,222.32 110.59,222.31 111.23,222.31 111.87,222.30 112.52,222.30 113.16,222.30 113.80,222.31 114.45,222.31 115.09,222.31 115.74,222.31 116.38,222.31 117.02,222.32 117.67,222.32 118.31,222.32 118.96,222.33 119.60,222.33 120.24,222.33 120.89,222.34 121.53,222.34 122.18,222.35 122.82,222.35 123.46,222.36 124.11,222.37 124.75,222.37 125.40,222.38 126.04,222.39 126.68,222.39 127.33,222.40 127.97,222.41 128.62,222.41 129.26,222.42 129.90,222.43 130.55,222.44 131.19,222.44 131.83,222.45 132.48,222.46 133.12,222.47 133.77,222.48 134.41,222.48 135.05,222.49 135.70,222.50 136.34,222.51 136.99,222.52 137.63,222.53 138.27,222.54 138.92,222.54 139.56,222.55 140.21,222.56 140.85,222.57 141.49,222.58 142.14,222.59 142.78,222.60 143.43,222.60 144.07,222.61 144.71,222.62 145.36,222.63 146.00,222.64 146.64,222.64 147.29,222.65 147.93,222.66 148.58,222.67 149.22,222.68 149.86,222.68 150.51,222.69 151.15,222.70 151.80,222.70 152.44,222.71 153.08,222.72 153.73,222.72 154.37,222.73 155.02,222.74 155.66,222.74 156.30,222.75 156.95,222.75 157.59,222.76 158.24,222.76 158.88,222.76 159.52,222.77 160.17,222.77 160.81,222.78 161.46,222.78 162.10,222.78 162.74,222.78 163.39,222.78 164.03,222.79 164.67,222.79 165.32,222.79 165.96,222.79 166.61,222.79 167.25,222.79 167.89,222.79 168.54,222.79 169.18,222.78 169.83,222.78 170.47,222.78 171.11,222.77 171.76,222.77 172.40,222.77 173.05,222.76 173.69,222.76 174.33,222.75 174.98,222.74 175.62,222.74 176.27,222.73 176.91,222.72 177.55,222.71 178.20,222.70 178.84,222.69 179.49,222.68 180.13,222.67 180.77,222.66 181.42,222.65 182.06,222.64 182.70,222.63 183.35,222.61 183.99,222.60 184.64,222.59 185.28,222.57 185.92,222.56 186.57,222.55 187.21,222.53 187.86,222.51 188.50,222.50 189.14,222.48 189.79,222.46 190.43,222.45 191.08,222.43 191.72,222.41 192.36,222.39 193.01,222.37 193.65,222.35 194.30,222.33 194.94,222.31 195.58,222.29 196.23,222.27 196.87,222.25 197.51,222.23 198.16,222.21 198.80,222.18 199.45,222.16 200.09,222.14 200.73,222.11 201.38,222.09 202.02,222.07 202.67,222.04 203.31,222.02 203.95,221.99 204.60,221.96 205.24,221.94 205.89,221.91 206.53,221.88 207.17,221.86 207.82,221.83 208.46,221.80 209.11,221.77 209.75,221.74 210.39,221.72 211.04,221.69 211.68,221.66 212.33,221.63 212.97,221.60 213.61,221.57 214.26,221.53 214.90,221.50 215.54,221.47 216.19,221.44 216.83,221.41 217.48,221.38 218.12,221.34 218.76,221.31 219.41,221.28 220.05,221.24 220.70,221.21 221.34,221.17 221.98,221.14 222.63,221.11 223.27,221.07 223.92,221.04 224.56,221.00 225.20,220.96 225.85,220.93 226.49,220.89 227.14,220.85 227.78,220.82 228.42,220.78 229.07,220.74 229.71,220.71 230.36,220.67 231.00,220.63 231.64,220.59 232.29,220.55 232.93,220.51 233.57,220.47 234.22,220.43 234.86,220.40 235.51,220.36 236.15,220.32 236.79,220.28 237.44,220.24 238.08,220.19 238.73,220.15 239.37,220.11 240.01,220.07 240.66,220.03 241.30,219.99 241.95,219.95 242.59,219.90 243.23,219.86 243.88,219.82 243.88,229.70 243.23,229.67 242.59,229.64 241.95,229.61 241.30,229.58 240.66,229.54 240.01,229.51 239.37,229.49 238.73,229.46 238.08,229.43 237.44,229.40 236.79,229.37 236.15,229.34 235.51,229.31 234.86,229.28 234.22,229.25 233.57,229.23 232.93,229.20 232.29,229.17 231.64,229.14 231.00,229.12 230.36,229.09 229.71,229.06 229.07,229.03 228.42,229.01 227.78,228.98 227.14,228.96 226.49,228.93 225.85,228.90 225.20,228.88 224.56,228.85 223.92,228.83 223.27,228.80 222.63,228.78 221.98,228.76 221.34,228.73 220.70,228.71 220.05,228.68 219.41,228.66 218.76,228.64 218.12,228.61 217.48,228.59 216.83,228.57 216.19,228.55 215.54,228.52 214.90,228.50 214.26,228.48 213.61,228.46 212.97,228.44 212.33,228.42 211.68,228.40 211.04,228.38 210.39,228.36 209.75,228.34 209.11,228.32 208.46,228.30 207.82,228.28 207.17,228.26 206.53,228.24 205.89,228.22 205.24,228.21 204.60,228.19 203.95,228.17 203.31,228.15 202.67,228.14 202.02,228.12 201.38,228.10 200.73,228.09 200.09,228.07 199.45,228.05 198.80,228.04 198.16,228.02 197.51,228.01 196.87,227.99 196.23,227.98 195.58,227.97 194.94,227.95 194.30,227.94 193.65,227.92 193.01,227.91 192.36,227.90 191.72,227.89 191.08,227.87 190.43,227.86 189.79,227.85 189.14,227.84 188.50,227.83 187.86,227.82 187.21,227.81 186.57,227.80 185.92,227.79 185.28,227.78 184.64,227.77 183.99,227.76 183.35,227.75 182.70,227.74 182.06,227.73 181.42,227.73 180.77,227.72 180.13,227.71 179.49,227.71 178.84,227.70 178.20,227.69 177.55,227.69 176.91,227.68 176.27,227.68 175.62,227.67 174.98,227.67 174.33,227.66 173.69,227.66 173.05,227.66 172.40,227.65 171.76,227.65 171.11,227.65 170.47,227.64 169.83,227.64 169.18,227.64 168.54,227.64 167.89,227.64 167.25,227.64 166.61,227.64 165.96,227.64 165.32,227.64 164.67,227.64 164.03,227.64 163.39,227.64 162.74,227.64 162.10,227.64 161.46,227.64 160.81,227.64 160.17,227.64 159.52,227.64 158.88,227.65 158.24,227.65 157.59,227.65 156.95,227.65 156.30,227.65 155.66,227.66 155.02,227.66 154.37,227.66 153.73,227.66 153.08,227.67 152.44,227.67 151.80,227.67 151.15,227.68 150.51,227.68 149.86,227.68 149.22,227.69 148.58,227.69 147.93,227.69 147.29,227.70 146.64,227.70 146.00,227.71 145.36,227.71 144.71,227.72 144.07,227.72 143.43,227.73 142.78,227.73 142.14,227.74 141.49,227.74 140.85,227.75 140.21,227.75 139.56,227.76 138.92,227.77 138.27,227.77 137.63,227.78 136.99,227.79 136.34,227.79 135.70,227.80 135.05,227.81 134.41,227.82 133.77,227.82 133.12,227.83 132.48,227.84 131.83,227.85 131.19,227.85 130.55,227.86 129.90,227.87 129.26,227.88 128.62,227.89 127.97,227.90 127.33,227.91 126.68,227.92 126.04,227.93 125.40,227.94 124.75,227.95 124.11,227.96 123.46,227.97 122.82,227.98 122.18,227.99 121.53,228.00 120.89,228.01 120.24,228.02 119.60,228.03 118.96,228.04 118.31,228.06 117.67,228.07 117.02,228.08 116.38,228.09 115.74,228.10 115.09,228.12 114.45,228.13 113.80,228.14 113.16,228.16 112.52,228.17 111.87,228.18 111.23,228.20 110.59,228.22 109.94,228.24 109.30,228.27 108.65,228.30 108.01,228.33 107.37,228.37 106.72,228.42 106.08,228.47 105.43,228.52 104.79,228.58 104.15,228.65 103.50,228.72 102.86,228.80 102.21,228.91 101.57,229.06 100.93,229.27 100.28,229.52 99.64,229.82 98.99,230.18 98.35,230.62 97.71,231.44 97.06,232.59 96.42,233.92 95.78,235.30 95.13,236.57 94.49,237.87 93.84,239.25 93.20,240.66 92.56,242.05 91.91,243.35 91.27,244.53 90.62,245.60 89.98,246.70 89.34,247.73 88.69,248.58 88.05,249.12 87.40,249.32 86.76,249.46 86.12,249.58 85.47,249.65 84.83,249.69 84.18,249.64 83.54,249.33 82.90,248.84 82.25,248.24 81.61,247.60 80.96,247.00 80.32,246.52 79.68,246.15 79.03,245.78 78.39,245.45 77.75,245.16 77.10,244.93 76.46,244.73 75.81,244.56 75.17,244.44 74.53,244.53 73.88,245.39 73.24,246.82 72.59,248.48 71.95,250.04 71.31,251.69 70.66,253.51 70.02,255.40 69.37,257.28 68.73,259.13 68.09,260.99 67.44,262.90 66.80,264.90 66.15,266.98 65.51,269.08 64.87,271.20 64.22,273.34 63.58,275.51 62.93,277.70 62.29,279.92 61.65,282.16 61.00,284.44 60.36,286.74 59.72,289.07 59.07,291.43 58.43,293.82 57.78,296.24 57.14,298.70 56.50,301.19 55.85,303.72 55.21,306.28 54.56,308.88 53.92,311.52 53.28,314.20 52.63,316.92 51.99,319.68 51.34,322.48" fill="#c3daef" stroke="none"/>
<polyline points="51.34,305.33 51.99,303.21 52.63,301.10 53.28,299.00 53.92,296.92 54.56,294.84 55.21,292.77 55.85,290.71 56.50,288.66 57.14,286.62 57.78,284.59 58.43,282.60 59.07,280.64 59.72,278.70 60.36,276.77 61.00,274.84 61.65,272.89 62.29,270.92 62.93,268.92 63.58,266.86 64.22,264.75 64.87,262.49 65.51,260.13 66.15,257.76 66.80,255.50 67.44,253.45 68.09,251.52 68.73,249.69 69.37,247.98 70.02,246.40 70.66,244.90 71.31,243.46 71.95,242.11 72.59,240.93 73.24,239.96 73.88,239.07 74.53,238.21 75.17,237.48 75.81,236.97 76.46,236.79 77.10,236.95 77.75,237.36 78.39,237.91 79.03,238.51 79.68,239.05 80.32,239.57 80.96,240.13 81.61,240.71 82.25,241.27 82.90,241.79 83.54,242.22 84.18,242.64 84.83,243.02 85.47,243.25 86.12,243.22 86.76,242.94 87.40,242.49 88.05,241.92 88.69,241.31 89.34,240.64 89.98,239.74 90.62,238.66 91.27,237.47 91.91,236.26 92.56,235.09 93.20,234.06 93.84,233.06 94.49,232.03 95.13,231.01 95.78,230.06 96.42,229.22 97.06,228.53 97.71,228.03 98.35,227.59 98.99,227.19 99.64,226.82 100.28,226.52 100.93,226.29 101.57,226.15 102.21,226.09 102.86,226.04 103.50,225.99 104.15,225.95 104.79,225.91 105.43,225.88 106.08,225.85 106.72,225.82 107.37,225.80 108.01,225.78 108.65,225.76 109.30,225.74 109.94,225.73 110.59,225.72 111.23,225.71 111.87,225.70 112.52,225.69 113.16,225.68 113.80,225.68 114.45,225.67 115.09,225.66 115.74,225.66 116.38,225.65 117.02,225.64 117.67,225.64 118.31,225.63 118.96,225.63 119.60,225.62 120.24,225.61 120.89,225.61 121.53,225.60 122.18,225.60 122.82,225.59 123.46,225.59 124.11,225.58 124.75,225.58 125.40,225.58 126.04,225.57 126.68,225.57 127.33,225.56 127.97,225.56 128.62,225.56 129.26,225.55 129.90,225.55 130.55,225.55 131.19,225.54 131.83,225.54 132.48,225.54 133.12,225.53 133.77,225.53 134.41,225.53 135.05,225.53 135.70,225.52 136.34,225.52 136.99,225.52 137.63,225.51 138.27,225.51 138.92,225.51 139.56,225.51 140.21,225.50 140.85,225.50 141.49,225.50 142.14,225.50 142.78,225.50 143.43,225.49 144.07,225.49 144.71,225.49 145.36,225.49 146.00,225.48 146.64,225.48 147.29,225.48 147.93,225.48 148.58,225.48 149.22,225.47 149.86,225.47 150.51,225.47 151.15,225.47 151.80,225.46 152.44,225.46 153.08,225.46 153.73,225.46 154.37,225.45 155.02,225.45 155.66,225.45 156.30,225.45 156.95,225.44 157.59,225.44 158.24,225.44 158.88,225.44 159.52,225.43 160.17,225.43 160.81,225.43 161.46,225.42 162.10,225.42 162.74,225.42 163.39,225.41 164.03,225.41 164.67,225.40 165.32,225.40 165.96,225.40 166.61,225.39 167.25,225.39 167.89,225.38 168.54,225.38 169.18,225.38 169.83,225.37 170.47,225.37 171.11,225.36 171.76,225.36 172.40,225.35 173.05,225.35 173.69,225.35 174.33,225.34 174.98,225.34 175.62,225.33 176.27,225.33 176.91,225.32 177.55,225.32 178.20,225.32 178.84,225.31 179.49,225.31 180.13,225.30 180.77,225.30 181.42,225.29 182.06,225.29 182.70,225.28 183.35,225.28 183.99,225.28 184.64,225.27 185.28,225.27 185.92,225.26 186.57,225.26 187.21,225.25 187.86,225.25 188.50,225.24 189.14,225.24 189.79,225.23 190.43,225.23 191.08,225.22 191.72,225.22 192.36,225.21 193.01,225.21 193.65,225.21 194.30,225.20 194.94,225.20 195.58,225.19 196.23,225.19 196.87,225.18 197.51,225.18 198.16,225.17 198.80,225.17 199.45,225.16 200.09,225.16 200.73,225.15 201.38,225.15 202.02,225.14 202.67,225.14 203.31,225.13 203.95,225.13 204.60,225.12 205.24,225.12 205.89,225.11 206.53,225.11 207.17,225.10 207.82,225.10 208.46,225.09 209.11,225.09 209.75,225.08 210.39,225.08 211.04,225.07 211.68,225.07 212.33,225.06 212.97,225.06 213.61,225.05 214.26,225.04 214.90,225.04 215.54,225.03 216.19,225.03 216.83,225.02 217.48,225.02 218.12,225.01 218.76,225.01 219.41,225.00 220.05,225.00 220.70,224.99 221.34,224.99 221.98,224.98 222.63,224.98 223.27,224.97 223.92,224.96 224.56,224.96 225.20,224.95 225.85,224.95 226.49,224.94 227.14,224.94 227.78,224.93 228.42,224.93 229.07,224.92 229.71,224.91 230.36,224.91 231.00,224.90 231.64,224.90 232.29,224.89 232.93,224.89 233.57,224.88 234.22,224.88 234.86,224.87 235.51,224.86 236.15,224.86 236.79,224.85 237.44,224.85 238.08,224.84 238.73,224.84 239.37,224.83 240.01,224.82 240.66,224.82 241.30,224.81 241.95,224.81 242.59,224.80 243.23,224.79 243.88,224.79" fill="none" stroke="#3f72a6" stroke-width="1.15"/>
<polyline points="51.34,288.54 51.99,287.16 52.63,285.74 53.28,284.29 53.92,282.79 54.56,281.27 55.21,279.71 55.85,278.12 56.50,276.50 57.14,274.85 57.78,273.18 58.43,271.48 59.07,269.77 59.72,268.03 60.36,266.28 61.00,264.51 61.65,262.67 62.29,260.78 62.93,258.83 63.58,256.84 64.22,254.83 64.87,252.71 65.51,250.52 66.15,248.37 66.80,246.37 67.44,244.48 68.09,242.63 68.73,240.88 69.37,239.26 70.02,237.80 70.66,236.46 71.31,235.20 71.95,234.04 72.59,233.01 73.24,232.14 73.88,231.33 74.53,230.54 75.17,229.93 75.81,229.64 76.46,229.70 77.10,229.90 77.75,230.19 78.39,230.53 79.03,230.92 79.68,231.53 80.32,232.29 80.96,233.12 81.61,233.92 82.25,234.60 82.90,235.06 83.54,235.21 84.18,235.18 84.83,235.11 85.47,235.01 86.12,234.87 86.76,234.71 87.40,234.36 88.05,233.75 88.69,232.96 89.34,232.06 89.98,231.15 90.62,230.30 91.27,229.57 91.91,228.86 92.56,228.12 93.20,227.38 93.84,226.67 94.49,226.00 95.13,225.39 95.78,224.87 96.42,224.46 97.06,224.11 97.71,223.78 98.35,223.47 98.99,223.21 99.64,222.99 100.28,222.85 100.93,222.77 101.57,222.72 102.21,222.67 102.86,222.62 103.50,222.57 104.15,222.53 104.79,222.50 105.43,222.46 106.08,222.43 106.72,222.41 107.37,222.38 108.01,222.36 108.65,222.34 109.30,222.33 109.94,222.32 110.59,222.31 111.23,222.31 111.87,222.30 112.52,222.30 113.16,222.30 113.80,222.31 114.45,222.31 115.09,222.31 115.74,222.31 116.38,222.31 117.02,222.32 117.67,222.32 118.31,222.32 118.96,222.33 119.60,222.33 120.24,222.33 120.89,222.34 121.53,222.34 122.18,222.35 122.82,222.35 123.46,222.36 124.11,222.37 124.75,222.37 125.40,222.38 126.04,222.39 126.68,222.39 127.33,222.40 127.97,222.41 128.62,222.41 129.26,222.42 129.90,222.43 130.55,222.44 131.19,222.44 131.83,222.45 132.48,222.46 133.12,222.47 133.77,222.48 134.41,222.48 135.05,222.49 135.70,222.50 136.34,222.51 136.99,222.52 137.63,222.53 138.27,222.54 138.92,222.54 139.56,222.55 140.21,222.56 140.85,222.57 141.49,222.58 142.14,222.59 142.78,222.60 143.43,222.60 144.07,222.61 144.71,222.62 145.36,222.63 146.00,222.64 146.64,222.64 147.29,222.65 147.93,222.66 148.58,222.67 149.22,222.68 149.86,222.68 150.51,222.69 151.15,222.70 151.80,222.70 152.44,222.71 153.08,222.72 153.73,222.72 154.37,222.73 155.02,222.74 155.66,222.74 156.30,222.75 156.95,222.75 157.59,222.76 158.24,222.76 158.88,222.76 159.52,222.77 160.17,222.77 160.81,222.78 161.46,222.78 162.10,222.78 162.74,222.78 163.39,222.78 164.03,222.79 164.67,222.79 165.32,222.79 165.96,222.79 166.61,222.79 167.25,222.79 167.89,222.79 168.54,222.79 169.18,222.78 169.83,222.78 170.47,222.78 171.11,222.77 171.76,222.77 172.40,222.77 173.05,222.76 173.69,222.76 174.33,222.75 174.98,222.74 175.62,222.74 176.27,222.73 176.91,222.72 177.55,222.71 178.20,222.70 178.84,222.69 179.49,222.68 180.13,222.67 180.77,222.66 181.42,222.65 182.06,222.64 182.70,222.63 183.35,222.61 183.99,222.60 184.64,222.59 185.28,222.57 185.92,222.56 186.57,222.55 187.21,222.53 187.86,222.51 188.50,222.50 189.14,222.48 189.79,222.46 190.43,222.45 191.08,222.43 191.72,222.41 192.36,222.39 193.01,222.37 193.65,222.35 194.30,222.33 194.94,222.31 195.58,222.29 196.23,222.27 196.87,222.25 197.51,222.23 198.16,222.21 198.80,222.18 199.45,222.16 200.09,222.14 200.73,222.11 201.38,222.09 202.02,222.07 202.67,222.04 203.31,222.02 203.95,221.99 204.60,221.96 205.24,221.94 205.89,221.91 206.53,221.88 207.17,221.86 207.82,221.83 208.46,221.80 209.11,221.77 209.75,221.74 210.39,221.72 211.04,221.69 211.68,221.66 212.33,221.63 212.97,221.60 213.61,221.57 214.26,221.53 214.90,221.50 215.54,221.47 216.19,221.44 216.83,221.41 217.48,221.38 218.12,221.34 218.76,221.31 219.41,221.28 220.05,221.24 220.70,221.21 221.34,221.17 221.98,221.14 222.63,221.11 223.27,221.07 223.92,221.04 224.56,221.00 225.20,220.96 225.85,220.93 226.49,220.89 227.14,220.85 227.78,220.82 228.42,220.78 229.07,220.74 229.71,220.71 230.36,220.67 231.00,220.63 231.64,220.59 232.29,220.55 232.93,220.51 233.57,220.47 234.22,220.43 234.86,220.40 235.51,220.36 236.15,220.32 236.79,220.28 237.44,220.24 238.08,220.19 238.73,220.15 239.37,220.11 240.01,220.07 240.66,220.03 241.30,219.99 241.95,219.95 242.59,219.90 243.23,219.86 243.88,219.82" fill="none" stroke="#404040" stroke-width="0.95" stroke-dasharray="2.7,2.1"/>
<polyline points="51.34,322.48 51.99,319.68 52.63,316.92 53.28,314.20 53.92,311.52 54.56,308.88 55.21,306.28 55.85,303.72 56.50,301.19 57.14,298.70 57.78,296.24 58.43,293.82 59.07,291.43 59.72,289.07 60.36,286.74 61.00,284.44 61.65,282.16 62.29,279.92 62.93,277.70 63.58,275.51 64.22,273.34 64.87,271.20 65.51,269.08 66.15,266.98 66.80,264.90 67.44,262.90 68.09,260.99 68.73,259.13 69.37,257.28 70.02,255.40 70.66,253.51 71.31,251.69 71.95,250.04 72.59,248.48 73.24,246.82 73.88,245.39 74.53,244.53 75.17,244.44 75.81,244.56 76.46,244.73 77.10,244.93 77.75,245.16 78.39,245.45 79.03,245.78 79.68,246.15 80.32,246.52 80.96,247.00 81.61,247.60 82.25,248.24 82.90,248.84 83.54,249.33 84.18,249.64 84.83,249.69 85.47,249.65 86.12,249.58 86.76,249.46 87.40,249.32 88.05,249.12 88.69,248.58 89.34,247.73 89.98,246.70 90.62,245.60 91.27,244.53 91.91,243.35 92.56,242.05 93.20,240.66 93.84,239.25 94.49,237.87 95.13,236.57 95.78,235.30 96.42,233.92 97.06,232.59 97.71,231.44 98.35,230.62 98.99,230.18 99.64,229.82 100.28,229.52 100.93,229.27 101.57,229.06 102.21,228.91 102.86,228.80 103.50,228.72 104.15,228.65 104.79,228.58 105.43,228.52 106.08,228.47 106.72,228.42 107.37,228.37 108.01,228.33 108.65,228.30 109.30,228.27 109.94,228.24 110.59,228.22 111.23,228.20 111.87,228.18 112.52,228.17 113.16,228.16 113.80,228.14 114.45,228.13 115.09,228.12 115.74,228.10 116.38,228.09 117.02,228.08 117.67,228.07 118.31,228.06 118.96,228.04 119.60,228.03 120.24,228.02 120.89,228.01 121.53,228.00 122.18,227.99 122.82,227.98 123.46,227.97 124.11,227.96 124.75,227.95 125.40,227.94 126.04,227.93 126.68,227.92 127.33,227.91 127.97,227.90 128.62,227.89 129.26,227.88 129.90,227.87 130.55,227.86 131.19,227.85 131.83,227.85 132.48,227.84 133.12,227.83 133.77,227.82 134.41,227.82 135.05,227.81 135.70,227.80 136.34,227.79 136.99,227.79 137.63,227.78 138.27,227.77 138.92,227.77 139.56,227.76 140.21,227.75 140.85,227.75 141.49,227.74 142.14,227.74 142.78,227.73 143.43,227.73 144.07,227.72 144.71,227.72 145.36,227.71 146.00,227.71 146.64,227.70 147.29,227.70 147.93,227.69 148.58,227.69 149.22,227.69 149.86,227.68 150.51,227.68 151.15,227.68 151.80,227.67 152.44,227.67 153.08,227.67 153.73,227.66 154.37,227.66 155.02,227.66 155.66,227.66 156.30,227.65 156.95,227.65 157.59,227.65 158.24,227.65 158.88,227.65 159.52,227.64 160.17,227.64 160.81,227.64 161.46,227.64 162.10,227.64 162.74,227.64 163.39,227.64 164.03,227.64 164.67,227.64 165.32,227.64 165.96,227.64 166.61,227.64 167.25,227.64 167.89,227.64 168.54,227.64 169.18,227.64 169.83,227.64 170.47,227.64 171.11,227.65 171.76,227.65 172.40,227.65 173.05,227.66 173.69,227.66 174.33,227.66 174.98,227.67 175.62,227.67 176.27,227.68 176.91,227.68 177.55,227.69 178.20,227.69 178.84,227.70 179.49,227.71 180.13,227.71 180.77,227.72 181.42,227.73 182.06,227.73 182.70,227.74 183.35,227.75 183.99,227.76 184.64,227.77 185.28,227.78 185.92,227.79 186.57,227.80 187.21,227.81 187.86,227.82 188.50,227.83 189.14,227.84 189.79,227.85 190.43,227.86 191.08,227.87 191.72,227.89 192.36,227.90 193.01,227.91 193.65,227.92 194.30,227.94 194.94,227.95 195.58,227.97 196.23,227.98 196.87,227.99 197.51,228.01 198.16,228.02 198.80,228.04 199.45,228.05 200.09,228.07 200.73,228.09 201.38,228.10 202.02,228.12 202.67,228.14 203.31,228.15 203.95,228.17 204.60,228.19 205.24,228.21 205.89,228.22 206.53,228.24 207.17,228.26 207.82,228.28 208.46,228.30 209.11,228.32 209.75,228.34 210.39,228.36 211.04,228.38 211.68,228.40 212.33,228.42 212.97,228.44 213.61,228.46 214.26,228.48 214.90,228.50 215.54,228.52 216.19,228.55 216.83,228.57 217.48,228.59 218.12,228.61 218.76,228.64 219.41,228.66 220.05,228.68 220.70,228.71 221.34,228.73 221.98,228.76 222.63,228.78 223.27,228.80 223.92,228.83 224.56,228.85 225.20,228.88 225.85,228.90 226.49,228.93 227.14,228.96 227.78,228.98 228.42,229.01 229.07,229.03 229.71,229.06 230.36,229.09 231.00,229.12 231.64,229.14 232.29,229.17 232.93,229.20 233.57,229.23 234.22,229.25 234.86,229.28 235.51,229.31 236.15,229.34 236.79,229.37 237.44,229.40 238.08,229.43 238.73,229.46 239.37,229.49 240.01,229.51 240.66,229.54 241.30,229.58 241.95,229.61 242.59,229.64 243.23,229.67 243.88,229.70" fill="none" stroke="#404040" stroke-width="0.95" stroke-dasharray="2.7,2.1"/>
<polygon points="308.25,207.05 308.90,211.80 309.54,216.17 310.19,220.11 310.83,223.56 311.48,226.66 312.12,229.60 312.77,232.50 313.41,235.34 314.05,238.12 314.70,240.82 315.34,243.46 315.99,246.03 316.63,248.54 317.28,250.97 317.92,253.34 318.57,255.65 319.21,257.93 319.86,260.18 320.50,262.42 321.14,264.64 321.79,266.82 322.43,268.98 323.08,271.13 323.72,273.25 324.37,275.38 325.01,277.50 325.66,279.61 326.30,281.70 326.95,283.79 327.59,285.86 328.23,287.93 328.88,289.98 329.52,292.02 330.17,294.04 330.81,296.08 331.46,298.44 332.10,301.10 332.75,302.85 333.39,303.00 334.04,302.96 334.68,302.89 335.32,302.74 335.97,302.18 336.61,301.32 337.26,300.31 337.90,299.30 338.55,298.47 339.19,297.71 339.84,296.89 340.48,296.05 341.13,295.22 341.77,294.46 342.41,293.79 343.06,293.26 343.70,292.91 344.35,292.78 344.99,292.89 345.64,293.22 346.28,293.71 346.93,294.28 347.57,294.89 348.22,295.47 348.86,295.97 349.50,296.51 350.15,297.09 350.79,297.66 351.44,298.20 352.08,298.66 352.73,299.01 353.37,299.23 354.02,299.43 354.66,299.61 355.31,299.77 355.95,299.92 356.59,300.04 357.24,300.15 357.88,300.23 358.53,300.28 359.17,300.32 359.82,300.36 360.46,300.40 361.11,300.43 361.75,300.46 362.40,300.49 363.04,300.52 363.68,300.54 364.33,300.56 364.97,300.59 365.62,300.61 366.26,300.62 366.91,300.64 367.55,300.66 368.20,300.67 368.84,300.69 369.49,300.70 370.13,300.71 370.77,300.72 371.42,300.73 372.06,300.74 372.71,300.75 373.35,300.75 374.00,300.76 374.64,300.77 375.29,300.77 375.93,300.78 376.58,300.79 377.22,300.80 377.86,300.80 378.51,300.81 379.15,300.82 379.80,300.82 380.44,300.83 381.09,300.84 381.73,300.84 382.38,300.85 383.02,300.85 383.67,300.86 384.31,300.87 384.95,300.87 385.60,300.88 386.24,300.88 386.89,300.89 387.53,300.89 388.18,300.90 388.82,300.90 389.47,300.91 390.11,300.92 390.76,300.92 391.40,300.92 392.04,300.93 392.69,300.93 393.33,300.94 393.98,300.94 394.62,300.95 395.27,300.95 395.91,300.96 396.56,300.96 397.20,300.97 397.85,300.97 398.49,300.97 399.13,300.98 399.78,300.98 400.42,300.98 401.07,300.99 401.71,300.99 402.36,300.99 403.00,301.00 403.65,301.00 404.29,301.00 404.94,301.01 405.58,301.01 406.22,301.01 406.87,301.01 407.51,301.02 408.16,301.02 408.80,301.02 409.45,301.02 410.09,301.03 410.74,301.03 411.38,301.03 412.03,301.03 412.67,301.03 413.31,301.04 413.96,301.04 414.60,301.04 415.25,301.04 415.89,301.04 416.54,301.04 417.18,301.04 417.83,301.04 418.47,301.05 419.12,301.05 419.76,301.05 420.40,301.05 421.05,301.05 421.69,301.05 422.34,301.05 422.98,301.05 423.63,301.05 424.27,301.05 424.92,301.05 425.56,301.05 426.21,301.05 426.85,301.05 427.49,301.05 428.14,301.05 428.78,301.05 429.43,301.05 430.07,301.05 430.72,301.04 431.36,301.04 432.01,301.04 432.65,301.04 433.30,301.04 433.94,301.04 434.58,301.04 435.23,301.04 435.87,301.04 436.52,301.04 437.16,301.04 437.81,301.04 438.45,301.03 439.10,301.03 439.74,301.03 440.39,301.03 441.03,301.03 441.67,301.03 442.32,301.03 442.96,301.02 443.61,301.02 444.25,301.02 444.90,301.02 445.54,301.02 446.19,301.02 446.83,301.01 447.48,301.01 448.12,301.01 448.76,301.01 449.41,301.00 450.05,301.00 450.70,301.00 451.34,301.00 451.99,301.00 452.63,300.99 453.28,300.99 453.92,300.99 454.57,300.98 455.21,300.98 455.85,300.98 456.50,300.98 457.14,300.97 457.79,300.97 458.43,300.97 459.08,300.96 459.72,300.96 460.37,300.96 461.01,300.95 461.66,300.95 462.30,300.95 462.94,300.94 463.59,300.94 464.23,300.94 464.88,300.93 465.52,300.93 466.17,300.92 466.81,300.92 467.46,300.92 468.10,300.91 468.75,300.91 469.39,300.90 470.03,300.90 470.68,300.90 471.32,300.89 471.97,300.89 472.61,300.88 473.26,300.88 473.90,300.87 474.55,300.87 475.19,300.86 475.84,300.86 476.48,300.85 477.12,300.85 477.77,300.84 478.41,300.84 479.06,300.83 479.70,300.82 480.35,300.82 480.99,300.81 481.64,300.81 482.28,300.80 482.93,300.80 483.57,300.79 484.21,300.78 484.86,300.78 485.50,300.77 486.15,300.77 486.79,300.76 487.44,300.75 488.08,300.75 488.73,300.74 489.37,300.73 490.02,300.73 490.66,300.72 491.30,300.71 491.95,300.70 492.59,300.70 493.24,300.69 493.88,300.68 494.53,300.68 495.17,300.67 495.82,300.66 496.46,300.65 497.11,300.65 497.75,300.64 498.39,300.63 499.04,300.62 499.68,300.61 500.33,300.61 500.97,300.60 500.97,306.31 500.33,306.30 499.68,306.29 499.04,306.27 498.39,306.26 497.75,306.25 497.11,306.24 496.46,306.22 495.82,306.21 495.17,306.20 494.53,306.19 493.88,306.17 493.24,306.16 492.59,306.15 491.95,306.14 491.30,306.13 490.66,306.11 490.02,306.10 489.37,306.09 488.73,306.08 488.08,306.06 487.44,306.05 486.79,306.04 486.15,306.03 485.50,306.02 484.86,306.01 484.21,305.99 483.57,305.98 482.93,305.97 482.28,305.96 481.64,305.95 480.99,305.94 480.35,305.93 479.70,305.91 479.06,305.90 478.41,305.89 477.77,305.88 477.12,305.87 476.48,305.86 475.84,305.85 475.19,305.84 474.55,305.83 473.90,305.82 473.26,305.80 472.61,305.79 471.97,305.78 471.32,305.77 470.68,305.76 470.03,305.75 469.39,305.74 468.75,305.73 468.10,305.72 467.46,305.71 466.81,305.70 466.17,305.69 465.52,305.68 464.88,305.67 464.23,305.66 463.59,305.65 462.94,305.64 462.30,305.64 461.66,305.63 461.01,305.62 460.37,305.61 459.72,305.60 459.08,305.59 458.43,305.58 457.79,305.57 457.14,305.56 456.50,305.56 455.85,305.55 455.21,305.54 454.57,305.53 453.92,305.52 453.28,305.51 452.63,305.51 451.99,305.50 451.34,305.49 450.70,305.48 450.05,305.48 449.41,305.47 448.76,305.46 448.12,305.45 447.48,305.45 446.83,305.44 446.19,305.43 445.54,305.42 444.90,305.42 444.25,305.41 443.61,305.40 442.96,305.40 442.32,305.39 441.67,305.39 441.03,305.38 440.39,305.37 439.74,305.37 439.10,305.36 438.45,305.36 437.81,305.35 437.16,305.35 436.52,305.34 435.87,305.34 435.23,305.33 434.58,305.33 433.94,305.32 433.30,305.32 432.65,305.31 432.01,305.31 431.36,305.30 430.72,305.30 430.07,305.29 429.43,305.29 428.78,305.29 428.14,305.28 427.49,305.28 426.85,305.28 426.21,305.27 425.56,305.27 424.92,305.27 424.27,305.26 423.63,305.26 422.98,305.26 422.34,305.26 421.69,305.25 421.05,305.25 420.40,305.25 419.76,305.25 419.12,305.24 418.47,305.24 417.83,305.24 417.18,305.24 416.54,305.24 415.89,305.24 415.25,305.23 414.60,305.23 413.96,305.23 413.31,305.23 412.67,305.23 412.03,305.23 411.38,305.23 410.74,305.22 410.09,305.22 409.45,305.22 408.80,305.22 408.16,305.22 407.51,305.22 406.87,305.22 406.22,305.22 405.58,305.22 404.94,305.21 404.29,305.21 403.65,305.21 403.00,305.21 402.36,305.21 401.71,305.21 401.07,305.21 400.42,305.21 399.78,305.21 399.13,305.21 398.49,305.21 397.85,305.21 397.20,305.21 396.56,305.21 395.91,305.21 395.27,305.20 394.62,305.20 393.98,305.20 393.33,305.20 392.69,305.20 392.04,305.20 391.40,305.20 390.76,305.20 390.11,305.20 389.47,305.20 388.82,305.20 388.18,305.20 387.53,305.20 386.89,305.19 386.24,305.19 385.60,305.19 384.95,305.19 384.31,305.19 383.67,305.19 383.02,305.19 382.38,305.19 381.73,305.19 381.09,305.18 380.44,305.18 379.80,305.18 379.15,305.18 378.51,305.18 377.86,305.18 377.22,305.18 376.58,305.17 375.93,305.17 375.29,305.17 374.64,305.17 374.00,305.17 373.35,305.16 372.71,305.16 372.06,305.16 371.42,305.16 370.77,305.15 370.13,305.15 369.49,305.15 368.84,305.15 368.20,305.14 367.55,305.14 366.91,305.14 366.26,305.13 365.62,305.13 364.97,305.13 364.33,305.12 363.68,305.12 363.04,305.12 362.40,305.11 361.75,305.11 361.11,305.10 360.46,305.07 359.82,305.03 359.17,304.98 358.53,304.91 357.88,304.84 357.24,304.76 356.59,304.67 355.95,304.57 355.31,304.47 354.66,304.37 354.02,304.26 353.37,304.16 352.73,304.02 352.08,303.87 351.44,303.69 350.79,303.51 350.15,303.31 349.50,303.12 348.86,302.86 348.22,302.56 347.57,302.25 346.93,301.99 346.28,301.83 345.64,301.82 344.99,301.98 344.35,302.31 343.70,302.77 343.06,303.33 342.41,303.97 341.77,304.64 341.13,305.33 340.48,306.01 339.84,306.64 339.19,307.23 338.55,307.89 337.90,308.59 337.26,309.28 336.61,309.91 335.97,310.41 335.32,310.75 334.68,311.02 334.04,311.25 333.39,311.40 332.75,311.38 332.10,310.89 331.46,310.04 330.81,309.11 330.17,307.92 329.52,306.43 328.88,304.78 328.23,303.07 327.59,301.20 326.95,299.16 326.30,297.01 325.66,294.80 325.01,292.58 324.37,290.42 323.72,288.29 323.08,286.16 322.43,284.01 321.79,281.84 321.14,279.66 320.50,277.46 319.86,275.23 319.21,272.98 318.57,270.71 317.92,268.42 317.28,266.11 316.63,263.80 315.99,261.48 315.34,259.16 314.70,256.84 314.05,254.49 313.41,252.13 312.77,249.74 312.12,247.32 311.48,244.94 310.83,242.47 310.19,239.76 309.54,236.74 308.90,233.45 308.25,229.91" fill="#c6e8c6" stroke="none"/>
<polyline points="308.25,218.33 308.90,222.51 309.54,226.39 310.19,229.93 310.83,233.08 311.48,235.95 312.12,238.68 312.77,241.36 313.41,243.98 314.05,246.54 314.70,249.04 315.34,251.50 315.99,253.92 316.63,256.31 317.28,258.66 317.92,260.97 318.57,263.24 319.21,265.49 319.86,267.72 320.50,269.94 321.14,272.14 321.79,274.32 322.43,276.49 323.08,278.64 323.72,280.77 324.37,282.90 325.01,285.04 325.66,287.19 326.30,289.34 326.95,291.45 327.59,293.51 328.23,295.49 328.88,297.39 329.52,299.25 330.17,301.02 330.81,302.66 331.46,304.31 332.10,306.06 332.75,307.40 333.39,307.81 334.04,307.67 334.68,307.38 335.32,307.01 335.97,306.58 336.61,305.96 337.26,305.19 337.90,304.36 338.55,303.53 339.19,302.76 339.84,302.09 340.48,301.38 341.13,300.64 341.77,299.89 342.41,299.17 343.06,298.52 343.70,297.97 344.35,297.56 344.99,297.33 345.64,297.31 346.28,297.53 346.93,297.92 347.57,298.43 348.22,298.98 348.86,299.51 349.50,299.93 350.15,300.26 350.79,300.59 351.44,300.90 352.08,301.18 352.73,301.42 353.37,301.59 354.02,301.71 354.66,301.81 355.31,301.90 355.95,301.98 356.59,302.06 357.24,302.13 357.88,302.20 358.53,302.25 359.17,302.30 359.82,302.34 360.46,302.37 361.11,302.39 361.75,302.40 362.40,302.41 363.04,302.42 363.68,302.42 364.33,302.43 364.97,302.44 365.62,302.44 366.26,302.45 366.91,302.46 367.55,302.46 368.20,302.47 368.84,302.48 369.49,302.48 370.13,302.49 370.77,302.49 371.42,302.50 372.06,302.50 372.71,302.51 373.35,302.51 374.00,302.52 374.64,302.52 375.29,302.52 375.93,302.53 376.58,302.53 377.22,302.54 377.86,302.54 378.51,302.54 379.15,302.55 379.80,302.55 380.44,302.55 381.09,302.56 381.73,302.56 382.38,302.56 383.02,302.56 383.67,302.57 384.31,302.57 384.95,302.57 385.60,302.57 386.24,302.58 386.89,302.58 387.53,302.58 388.18,302.58 388.82,302.58 389.47,302.59 390.11,302.59 390.76,302.59 391.40,302.59 392.04,302.59 392.69,302.60 393.33,302.60 393.98,302.60 394.62,302.60 395.27,302.60 395.91,302.60 396.56,302.61 397.20,302.61 397.85,302.61 398.49,302.61 399.13,302.61 399.78,302.61 400.42,302.62 401.07,302.62 401.71,302.62 402.36,302.62 403.00,302.62 403.65,302.62 404.29,302.62 404.94,302.63 405.58,302.63 406.22,302.63 406.87,302.63 407.51,302.63 408.16,302.64 408.80,302.64 409.45,302.64 410.09,302.64 410.74,302.64 411.38,302.65 412.03,302.65 412.67,302.65 413.31,302.65 413.96,302.66 414.60,302.66 415.25,302.66 415.89,302.66 416.54,302.67 417.18,302.67 417.83,302.67 418.47,302.68 419.12,302.68 419.76,302.68 420.40,302.69 421.05,302.69 421.69,302.69 422.34,302.70 422.98,302.70 423.63,302.70 424.27,302.71 424.92,302.71 425.56,302.72 426.21,302.72 426.85,302.73 427.49,302.73 428.14,302.73 428.78,302.74 429.43,302.74 430.07,302.75 430.72,302.75 431.36,302.76 432.01,302.76 432.65,302.77 433.30,302.77 433.94,302.78 434.58,302.78 435.23,302.79 435.87,302.79 436.52,302.80 437.16,302.80 437.81,302.81 438.45,302.81 439.10,302.82 439.74,302.82 440.39,302.83 441.03,302.83 441.67,302.84 442.32,302.84 442.96,302.85 443.61,302.85 444.25,302.86 444.90,302.86 445.54,302.87 446.19,302.87 446.83,302.88 447.48,302.89 448.12,302.89 448.76,302.90 449.41,302.90 450.05,302.91 450.70,302.91 451.34,302.92 451.99,302.93 452.63,302.93 453.28,302.94 453.92,302.94 454.57,302.95 455.21,302.95 455.85,302.96 456.50,302.97 457.14,302.97 457.79,302.98 458.43,302.98 459.08,302.99 459.72,303.00 460.37,303.00 461.01,303.01 461.66,303.02 462.30,303.02 462.94,303.03 463.59,303.04 464.23,303.04 464.88,303.05 465.52,303.05 466.17,303.06 466.81,303.07 467.46,303.07 468.10,303.08 468.75,303.09 469.39,303.09 470.03,303.10 470.68,303.11 471.32,303.11 471.97,303.12 472.61,303.13 473.26,303.13 473.90,303.14 474.55,303.15 475.19,303.16 475.84,303.16 476.48,303.17 477.12,303.18 477.77,303.18 478.41,303.19 479.06,303.20 479.70,303.20 480.35,303.21 480.99,303.22 481.64,303.23 482.28,303.23 482.93,303.24 483.57,303.25 484.21,303.26 484.86,303.26 485.50,303.27 486.15,303.28 486.79,303.28 487.44,303.29 488.08,303.30 488.73,303.31 489.37,303.31 490.02,303.32 490.66,303.33 491.30,303.34 491.95,303.35 492.59,303.35 493.24,303.36 493.88,303.37 494.53,303.38 495.17,303.38 495.82,303.39 496.46,303.40 497.11,303.41 497.75,303.41 498.39,303.42 499.04,303.43 499.68,303.44 500.33,303.45 500.97,303.45" fill="none" stroke="#62b468" stroke-width="1.15"/>
<polyline points="308.25,207.05 308.90,211.80 309.54,216.17 310.19,220.11 310.83,223.56 311.48,226.66 312.12,229.60 312.77,232.50 313.41,235.34 314.05,238.12 314.70,240.82 315.34,243.46 315.99,246.03 316.63,248.54 317.28,250.97 317.92,253.34 318.57,255.65 319.21,257.93 319.86,260.18 320.50,262.42 321.14,264.64 321.79,266.82 322.43,268.98 323.08,271.13 323.72,273.25 324.37,275.38 325.01,277.50 325.66,279.61 326.30,281.70 326.95,283.79 327.59,285.86 328.23,287.93 328.88,289.98 329.52,292.02 330.17,294.04 330.81,296.08 331.46,298.44 332.10,301.10 332.75,302.85 333.39,303.00 334.04,302.96 334.68,302.89 335.32,302.74 335.97,302.18 336.61,301.32 337.26,300.31 337.90,299.30 338.55,298.47 339.19,297.71 339.84,296.89 340.48,296.05 341.13,295.22 341.77,294.46 342.41,293.79 343.06,293.26 343.70,292.91 344.35,292.78 344.99,292.89 345.64,293.22 346.28,293.71 346.93,294.28 347.57,294.89 348.22,295.47 348.86,295.97 349.50,296.51 350.15,297.09 350.79,297.66 351.44,298.20 352.08,298.66 352.73,299.01 353.37,299.23 354.02,299.43 354.66,299.61 355.31,299.77 355.95,299.92 356.59,300.04 357.24,300.15 357.88,300.23 358.53,300.28 359.17,300.32 359.82,300.36 360.46,300.40 361.11,300.43 361.75,300.46 362.40,300.49 363.04,300.52 363.68,300.54 364.33,300.56 364.97,300.59 365.62,300.61 366.26,300.62 366.91,300.64 367.55,300.66 368.20,300.67 368.84,300.69 369.49,300.70 370.13,300.71 370.77,300.72 371.42,300.73 372.06,300.74 372.71,300.75 373.35,300.75 374.00,300.76 374.64,300.77 375.29,300.77 375.93,300.78 376.58,300.79 377.22,300.80 377.86,300.80 378.51,300.81 379.15,300.82 379.80,300.82 380.44,300.83 381.09,300.84 381.73,300.84 382.38,300.85 383.02,300.85 383.67,300.86 384.31,300.87 384.95,300.87 385.60,300.88 386.24,300.88 386.89,300.89 387.53,300.89 388.18,300.90 388.82,300.90 389.47,300.91 390.11,300.92 390.76,300.92 391.40,300.92 392.04,300.93 392.69,300.93 393.33,300.94 393.98,300.94 394.62,300.95 395.27,300.95 395.91,300.96 396.56,300.96 397.20,300.97 397.85,300.97 398.49,300.97 399.13,300.98 399.78,300.98 400.42,300.98 401.07,300.99 401.71,300.99 402.36,300.99 403.00,301.00 403.65,301.00 404.29,301.00 404.94,301.01 405.58,301.01 406.22,301.01 406.87,301.01 407.51,301.02 408.16,301.02 408.80,301.02 409.45,301.02 410.09,301.03 410.74,301.03 411.38,301.03 412.03,301.03 412.67,301.03 413.31,301.04 413.96,301.04 414.60,301.04 415.25,301.04 415.89,301.04 416.54,301.04 417.18,301.04 417.83,301.04 418.47,301.05 419.12,301.05 419.76,301.05 420.40,301.05 421.05,301.05 421.69,301.05 422.34,301.05 422.98,301.05 423.63,301.05 424.27,301.05 424.92,301.05 425.56,301.05 426.21,301.05 426.85,301.05 427.49,301.05 428.14,301.05 428.78,301.05 429.43,301.05 430.07,301.05 430.72,301.04 431.36,301.04 432.01,301.04 432.65,301.04 433.30,301.04 433.94,301.04 434.58,301.04 435.23,301.04 435.87,301.04 436.52,301.04 437.16,301.04 437.81,301.04 438.45,301.03 439.10,301.03 439.74,301.03 440.39,301.03 441.03,301.03 441.67,301.03 442.32,301.03 442.96,301.02 443.61,301.02 444.25,301.02 444.90,301.02 445.54,301.02 446.19,301.02 446.83,301.01 447.48,301.01 448.12,301.01 448.76,301.01 449.41,301.00 450.05,301.00 450.70,301.00 451.34,301.00 451.99,301.00 452.63,300.99 453.28,300.99 453.92,300.99 454.57,300.98 455.21,300.98 455.85,300.98 456.50,300.98 457.14,300.97 457.79,300.97 458.43,300.97 459.08,300.96 459.72,300.96 460.37,300.96 461.01,300.95 461.66,300.95 462.30,300.95 462.94,300.94 463.59,300.94 464.23,300.94 464.88,300.93 465.52,300.93 466.17,300.92 466.81,300.92 467.46,300.92 468.10,300.91 468.75,300.91 469.39,300.90 470.03,300.90 470.68,300.90 471.32,300.89 471.97,300.89 472.61,300.88 473.26,300.88 473.90,300.87 474.55,300.87 475.19,300.86 475.84,300.86 476.48,300.85 477.12,300.85 477.77,300.84 478.41,300.84 479.06,300.83 479.70,300.82 480.35,300.82 480.99,300.81 481.64,300.81 482.28,300.80 482.93,300.80 483.57,300.79 484.21,300.78 484.86,300.78 485.50,300.77 486.15,300.77 486.79,300.76 487.44,300.75 488.08,300.75 488.73,300.74 489.37,300.73 490.02,300.73 490.66,300.72 491.30,300.71 491.95,300.70 492.59,300.70 493.24,300.69 493.88,300.68 494.53,300.68 495.17,300.67 495.82,300.66 496.46,300.65 497.11,300.65 497.75,300.64 498.39,300.63 499.04,300.62 499.68,300.61 500.33,300.61 500.97,300.60" fill="none" stroke="#404040" stroke-width="0.95" stroke-dasharray="2.7,2.1"/>
<polyline points="308.25,229.91 308.90,233.45 309.54,236.74 310.19,239.76 310.83,242.47 311.48,244.94 312.12,247.32 312.77,249.74 313.41,252.13 314.05,254.49 314.70,256.84 315.34,259.16 315.99,261.48 316.63,263.80 317.28,266.11 317.92,268.42 318.57,270.71 319.21,272.98 319.86,275.23 320.50,277.46 321.14,279.66 321.79,281.84 322.43,284.01 323.08,286.16 323.72,288.29 324.37,290.42 325.01,292.58 325.66,294.80 326.30,297.01 326.95,299.16 327.59,301.20 328.23,303.07 328.88,304.78 329.52,306.43 330.17,307.92 330.81,309.11 331.46,310.04 332.10,310.89 332.75,311.38 333.39,311.40 334.04,311.25 334.68,311.02 335.32,310.75 335.97,310.41 336.61,309.91 337.26,309.28 337.90,308.59 338.55,307.89 339.19,307.23 339.84,306.64 340.48,306.01 341.13,305.33 341.77,304.64 342.41,303.97 343.06,303.33 343.70,302.77 344.35,302.31 344.99,301.98 345.64,301.82 346.28,301.83 346.93,301.99 347.57,302.25 348.22,302.56 348.86,302.86 349.50,303.12 350.15,303.31 350.79,303.51 351.44,303.69 352.08,303.87 352.73,304.02 353.37,304.16 354.02,304.26 354.66,304.37 355.31,304.47 355.95,304.57 356.59,304.67 357.24,304.76 357.88,304.84 358.53,304.91 359.17,304.98 359.82,305.03 360.46,305.07 361.11,305.10 361.75,305.11 362.40,305.11 363.04,305.12 363.68,305.12 364.33,305.12 364.97,305.13 365.62,305.13 366.26,305.13 366.91,305.14 367.55,305.14 368.20,305.14 368.84,305.15 369.49,305.15 370.13,305.15 370.77,305.15 371.42,305.16 372.06,305.16 372.71,305.16 373.35,305.16 374.00,305.17 374.64,305.17 375.29,305.17 375.93,305.17 376.58,305.17 377.22,305.18 377.86,305.18 378.51,305.18 379.15,305.18 379.80,305.18 380.44,305.18 381.09,305.18 381.73,305.19 382.38,305.19 383.02,305.19 383.67,305.19 384.31,305.19 384.95,305.19 385.60,305.19 386.24,305.19 386.89,305.19 387.53,305.20 388.18,305.20 388.82,305.20 389.47,305.20 390.11,305.20 390.76,305.20 391.40,305.20 392.04,305.20 392.69,305.20 393.33,305.20 393.98,305.20 394.62,305.20 395.27,305.20 395.91,305.21 396.56,305.21 397.20,305.21 397.85,305.21 398.49,305.21 399.13,305.21 399.78,305.21 400.42,305.21 401.07,305.21 401.71,305.21 402.36,305.21 403.00,305.21 403.65,305.21 404.29,305.21 404.94,305.21 405.58,305.22 406.22,305.22 406.87,305.22 407.51,305.22 408.16,305.22 408.80,305.22 409.45,305.22 410.09,305.22 410.74,305.22 411.38,305.23 412.03,305.23 412.67,305.23 413.31,305.23 413.96,305.23 414.60,305.23 415.25,305.23 415.89,305.24 416.54,305.24 417.18,305.24 417.83,305.24 418.47,305.24 419.12,305.24 419.76,305.25 420.40,305.25 421.05,305.25 421.69,305.25 422.34,305.26 422.98,305.26 423.63,305.26 424.27,305.26 424.92,305.27 425.56,305.27 426.21,305.27 426.85,305.28 427.49,305.28 428.14,305.28 428.78,305.29 429.43,305.29 430.07,305.29 430.72,305.30 431.36,305.30 432.01,305.31 432.65,305.31 433.30,305.32 433.94,305.32 434.58,305.33 435.23,305.33 435.87,305.34 436.52,305.34 437.16,305.35 437.81,305.35 438.45,305.36 439.10,305.36 439.74,305.37 440.39,305.37 441.03,305.38 441.67,305.39 442.32,305.39 442.96,305.40 443.61,305.40 444.25,305.41 444.90,305.42 445.54,305.42 446.19,305.43 446.83,305.44 447.48,305.45 448.12,305.45 448.76,305.46 449.41,305.47 450.05,305.48 450.70,305.48 451.34,305.49 451.99,305.50 452.63,305.51 453.28,305.51 453.92,305.52 454.57,305.53 455.21,305.54 455.85,305.55 456.50,305.56 457.14,305.56 457.79,305.57 458.43,305.58 459.08,305.59 459.72,305.60 460.37,305.61 461.01,305.62 461.66,305.63 462.30,305.64 462.94,305.64 463.59,305.65 464.23,305.66 464.88,305.67 465.52,305.68 466.17,305.69 466.81,305.70 467.46,305.71 468.10,305.72 468.75,305.73 469.39,305.74 470.03,305.75 470.68,305.76 471.32,305.77 471.97,305.78 472.61,305.79 473.26,305.80 473.90,305.82 474.55,305.83 475.19,305.84 475.84,305.85 476.48,305.86 477.12,305.87 477.77,305.88 478.41,305.89 479.06,305.90 479.70,305.91 480.35,305.93 480.99,305.94 481.64,305.95 482.28,305.96 482.93,305.97 483.57,305.98 484.21,305.99 484.86,306.01 485.50,306.02 486.15,306.03 486.79,306.04 487.44,306.05 488.08,306.06 488.73,306.08 489.37,306.09 490.02,306.10 490.66,306.11 491.30,306.13 491.95,306.14 492.59,306.15 493.24,306.16 493.88,306.17 494.53,306.19 495.17,306.20 495.82,306.21 496.46,306.22 497.11,306.24 497.75,306.25 498.39,306.26 499.04,306.27 499.68,306.29 500.33,306.30 500.97,306.31" fill="none" stroke="#404040" stroke-width="0.95" stroke-dasharray="2.7,2.1"/>
<line x1="76.3" y1="197.6" x2="76.3" y2="330.7" stroke="#1a1a1a" stroke-width="1.2" stroke-dasharray="2.9,2.01" stroke-dashoffset="1.1"/>
<line x1="332.9" y1="197.7" x2="332.9" y2="330.7" stroke="#1a1a1a" stroke-width="1.2" stroke-dasharray="2.9,2.01" stroke-dashoffset="1.1"/>
<rect x="36.5" y="21.0" width="213.9" height="133.3" fill="none" stroke="#1a1a1a" stroke-width="1.1"/>
<path d="M33.5 140.7H36.5M33.5 119.9H36.5M33.5 99.2H36.5M33.5 78.4H36.5M33.5 57.7H36.5M33.5 36.9H36.5M46.0 154.3V157.3M55.8 154.3V157.3M65.6 154.3V157.3M75.4 154.3V157.3M85.2 154.3V157.3M94.9 154.3V157.3M104.7 154.3V157.3M114.5 154.3V157.3M124.3 154.3V157.3M134.1 154.3V157.3M143.9 154.3V157.3M153.7 154.3V157.3M163.5 154.3V157.3M173.3 154.3V157.3M183.1 154.3V157.3M192.8 154.3V157.3M202.6 154.3V157.3M212.4 154.3V157.3M222.2 154.3V157.3M232.0 154.3V157.3M241.8 154.3V157.3" stroke="#1a1a1a" stroke-width="0.9" fill="none"/>
<g font-size="7.2" fill="#111" stroke="#111" stroke-width="0.2" text-anchor="end"><text x="30.5" y="143.2">8</text><text x="30.5" y="122.4">10</text><text x="30.5" y="101.7">12</text><text x="30.5" y="80.9">14</text><text x="30.5" y="60.2">16</text><text x="30.5" y="39.4">18</text><text transform="translate(48.7 163.2) rotate(-45)">0</text><text transform="translate(58.5 163.2) rotate(-45)">10</text><text transform="translate(68.3 163.2) rotate(-45)">20</text><text transform="translate(78.1 163.2) rotate(-45)">30</text><text transform="translate(87.9 163.2) rotate(-45)">40</text><text transform="translate(97.6 163.2) rotate(-45)">50</text><text transform="translate(107.4 163.2) rotate(-45)">60</text><text transform="translate(117.2 163.2) rotate(-45)">70</text><text transform="translate(127.0 163.2) rotate(-45)">80</text><text transform="translate(136.8 163.2) rotate(-45)">90</text><text transform="translate(146.6 163.2) rotate(-45)">100</text><text transform="translate(156.4 163.2) rotate(-45)">110</text><text transform="translate(166.2 163.2) rotate(-45)">120</text><text transform="translate(176.0 163.2) rotate(-45)">130</text><text transform="translate(185.8 163.2) rotate(-45)">140</text><text transform="translate(195.6 163.2) rotate(-45)">150</text><text transform="translate(205.3 163.2) rotate(-45)">160</text><text transform="translate(215.1 163.2) rotate(-45)">170</text><text transform="translate(224.9 163.2) rotate(-45)">180</text><text transform="translate(234.7 163.2) rotate(-45)">190</text><text transform="translate(244.5 163.2) rotate(-45)">200</text></g>
<rect x="295.3" y="21.2" width="213.1" height="133.1" fill="none" stroke="#1a1a1a" stroke-width="1.1"/>
<path d="M292.3 142.8H295.3M292.3 125.8H295.3M292.3 108.8H295.3M292.3 91.9H295.3M292.3 74.9H295.3M292.3 57.9H295.3M292.3 41.0H295.3M292.3 24.0H295.3M306.0 154.3V157.3M315.7 154.3V157.3M325.5 154.3V157.3M335.2 154.3V157.3M344.9 154.3V157.3M354.7 154.3V157.3M364.4 154.3V157.3M374.1 154.3V157.3M383.9 154.3V157.3M393.6 154.3V157.3M403.4 154.3V157.3M413.1 154.3V157.3M422.8 154.3V157.3M432.6 154.3V157.3M442.3 154.3V157.3M452.0 154.3V157.3M461.8 154.3V157.3M471.5 154.3V157.3M481.2 154.3V157.3M491.0 154.3V157.3M500.7 154.3V157.3" stroke="#1a1a1a" stroke-width="0.9" fill="none"/>
<g font-size="7.2" fill="#111" stroke="#111" stroke-width="0.2" text-anchor="end"><text x="288.9" y="145.3">0.5</text><text x="288.9" y="128.3">1.0</text><text x="288.9" y="111.3">1.5</text><text x="288.9" y="94.4">2.0</text><text x="288.9" y="77.4">2.5</text><text x="288.9" y="60.4">3.0</text><text x="288.9" y="43.5">3.5</text><text x="288.9" y="26.5">4.0</text><text transform="translate(307.8 163.4) rotate(-45)">0</text><text transform="translate(317.5 163.4) rotate(-45)">10</text><text transform="translate(327.3 163.4) rotate(-45)">20</text><text transform="translate(337.0 163.4) rotate(-45)">30</text><text transform="translate(346.7 163.4) rotate(-45)">40</text><text transform="translate(356.5 163.4) rotate(-45)">50</text><text transform="translate(366.2 163.4) rotate(-45)">60</text><text transform="translate(375.9 163.4) rotate(-45)">70</text><text transform="translate(385.7 163.4) rotate(-45)">80</text><text transform="translate(395.4 163.4) rotate(-45)">90</text><text transform="translate(405.2 163.4) rotate(-45)">100</text><text transform="translate(414.9 163.4) rotate(-45)">110</text><text transform="translate(424.6 163.4) rotate(-45)">120</text><text transform="translate(434.4 163.4) rotate(-45)">130</text><text transform="translate(444.1 163.4) rotate(-45)">140</text><text transform="translate(453.8 163.4) rotate(-45)">150</text><text transform="translate(463.6 163.4) rotate(-45)">160</text><text transform="translate(473.3 163.4) rotate(-45)">170</text><text transform="translate(483.0 163.4) rotate(-45)">180</text><text transform="translate(492.8 163.4) rotate(-45)">190</text><text transform="translate(502.5 163.4) rotate(-45)">200</text></g>
<rect x="42.5" y="197.6" width="211.9" height="133.1" fill="none" stroke="#1a1a1a" stroke-width="1.1"/>
<path d="M39.5 324.9H42.5M39.5 294.6H42.5M39.5 264.3H42.5M39.5 234.0H42.5M39.5 203.7H42.5M45.4 330.7V333.7M55.5 330.7V333.7M65.5 330.7V333.7M75.6 330.7V333.7M85.7 330.7V333.7M95.8 330.7V333.7M105.8 330.7V333.7M115.9 330.7V333.7M126.0 330.7V333.7M136.1 330.7V333.7M146.2 330.7V333.7M156.2 330.7V333.7M166.3 330.7V333.7M176.4 330.7V333.7M186.5 330.7V333.7M196.5 330.7V333.7M206.6 330.7V333.7M216.7 330.7V333.7M226.8 330.7V333.7M236.8 330.7V333.7M246.9 330.7V333.7" stroke="#1a1a1a" stroke-width="0.9" fill="none"/>
<g font-size="7.2" fill="#111" stroke="#111" stroke-width="0.2" text-anchor="end"><text x="36.9" y="327.4">13.5</text><text x="36.9" y="297.1">14.0</text><text x="36.9" y="266.8">14.5</text><text x="36.9" y="236.5">15.0</text><text x="36.9" y="206.2">15.5</text><text transform="translate(48.1 340.2) rotate(-45)">0</text><text transform="translate(58.2 340.2) rotate(-45)">10</text><text transform="translate(68.2 340.2) rotate(-45)">20</text><text transform="translate(78.3 340.2) rotate(-45)">30</text><text transform="translate(88.4 340.2) rotate(-45)">40</text><text transform="translate(98.5 340.2) rotate(-45)">50</text><text transform="translate(108.5 340.2) rotate(-45)">60</text><text transform="translate(118.6 340.2) rotate(-45)">70</text><text transform="translate(128.7 340.2) rotate(-45)">80</text><text transform="translate(138.8 340.2) rotate(-45)">90</text><text transform="translate(148.9 340.2) rotate(-45)">100</text><text transform="translate(158.9 340.2) rotate(-45)">110</text><text transform="translate(169.0 340.2) rotate(-45)">120</text><text transform="translate(179.1 340.2) rotate(-45)">130</text><text transform="translate(189.2 340.2) rotate(-45)">140</text><text transform="translate(199.2 340.2) rotate(-45)">150</text><text transform="translate(209.3 340.2) rotate(-45)">160</text><text transform="translate(219.4 340.2) rotate(-45)">170</text><text transform="translate(229.5 340.2) rotate(-45)">180</text><text transform="translate(239.5 340.2) rotate(-45)">190</text><text transform="translate(249.6 340.2) rotate(-45)">200</text></g>
<rect x="299.5" y="197.7" width="211.6" height="133.0" fill="none" stroke="#1a1a1a" stroke-width="1.1"/>
<path d="M296.5 301.8H299.5M296.5 264.2H299.5M296.5 226.6H299.5M302.2 330.7V333.7M312.3 330.7V333.7M322.4 330.7V333.7M332.5 330.7V333.7M342.6 330.7V333.7M352.6 330.7V333.7M362.7 330.7V333.7M372.8 330.7V333.7M382.9 330.7V333.7M393.0 330.7V333.7M403.1 330.7V333.7M413.2 330.7V333.7M423.3 330.7V333.7M433.4 330.7V333.7M443.5 330.7V333.7M453.5 330.7V333.7M463.6 330.7V333.7M473.7 330.7V333.7M483.8 330.7V333.7M493.9 330.7V333.7M504.0 330.7V333.7" stroke="#1a1a1a" stroke-width="0.9" fill="none"/>
<g font-size="7.2" fill="#111" stroke="#111" stroke-width="0.2" text-anchor="end"><text x="293.9" y="304.3">0.75</text><text x="293.9" y="266.7">1.00</text><text x="293.9" y="229.1">1.25</text><text transform="translate(304.4 340.3) rotate(-45)">0</text><text transform="translate(314.5 340.3) rotate(-45)">10</text><text transform="translate(324.6 340.3) rotate(-45)">20</text><text transform="translate(334.7 340.3) rotate(-45)">30</text><text transform="translate(344.8 340.3) rotate(-45)">40</text><text transform="translate(354.8 340.3) rotate(-45)">50</text><text transform="translate(364.9 340.3) rotate(-45)">60</text><text transform="translate(375.0 340.3) rotate(-45)">70</text><text transform="translate(385.1 340.3) rotate(-45)">80</text><text transform="translate(395.2 340.3) rotate(-45)">90</text><text transform="translate(405.3 340.3) rotate(-45)">100</text><text transform="translate(415.4 340.3) rotate(-45)">110</text><text transform="translate(425.5 340.3) rotate(-45)">120</text><text transform="translate(435.6 340.3) rotate(-45)">130</text><text transform="translate(445.7 340.3) rotate(-45)">140</text><text transform="translate(455.7 340.3) rotate(-45)">150</text><text transform="translate(465.8 340.3) rotate(-45)">160</text><text transform="translate(475.9 340.3) rotate(-45)">170</text><text transform="translate(486.0 340.3) rotate(-45)">180</text><text transform="translate(496.1 340.3) rotate(-45)">190</text><text transform="translate(506.2 340.3) rotate(-45)">200</text></g>
<text transform="translate(16.6 88.2) rotate(-90) scale(0.725 1)" font-size="8.8" text-anchor="middle" fill="#111" stroke="#111" stroke-width="0.15">Hemoglobin (g/dL)</text>
<text transform="translate(16.6 263.2) rotate(-90) scale(0.725 1)" font-size="8.8" text-anchor="middle" fill="#111" stroke="#111" stroke-width="0.15">Hemoglobin (g/dL)</text>
<text transform="translate(273.5 87.4) rotate(-90) scale(0.725 1)" font-size="8.8" text-anchor="middle" fill="#111" stroke="#111" stroke-width="0.15">Erythrocyte zinc protoporphyrin, µg/dL</text>
<text transform="translate(273.5 264.2) rotate(-90) scale(0.725 1)" font-size="8.8" text-anchor="middle" fill="#111" stroke="#111" stroke-width="0.15">Erythrocyte zinc protoporphyrin, µg/dL</text>
<text transform="translate(148.3 360.6) scale(0.8 1)" font-size="8.5" text-anchor="middle" fill="#111" stroke="#111" stroke-width="0.28">Serum ferritin (µg/L)</text>
<text transform="translate(405.2 360.6) scale(0.8 1)" font-size="8.5" text-anchor="middle" fill="#111" stroke="#111" stroke-width="0.28">Serum ferritin (µg/L)</text>
<text x="9.8" y="17.6" font-size="10.5" font-weight="bold" fill="#000" stroke="#000" stroke-width="0.45">A</text>
<text x="267.4" y="17.6" font-size="10.5" font-weight="bold" fill="#000" stroke="#000" stroke-width="0.45">B</text>
<text x="10.4" y="195.0" font-size="10.5" font-weight="bold" fill="#000" stroke="#000" stroke-width="0.45">C</text>
<text x="268.0" y="195.0" font-size="10.5" font-weight="bold" fill="#000" stroke="#000" stroke-width="0.45">D</text>
<rect x="0.5" y="0.5" width="519" height="371" fill="none" stroke="#606060" stroke-width="1"/>
</svg></body></html>
